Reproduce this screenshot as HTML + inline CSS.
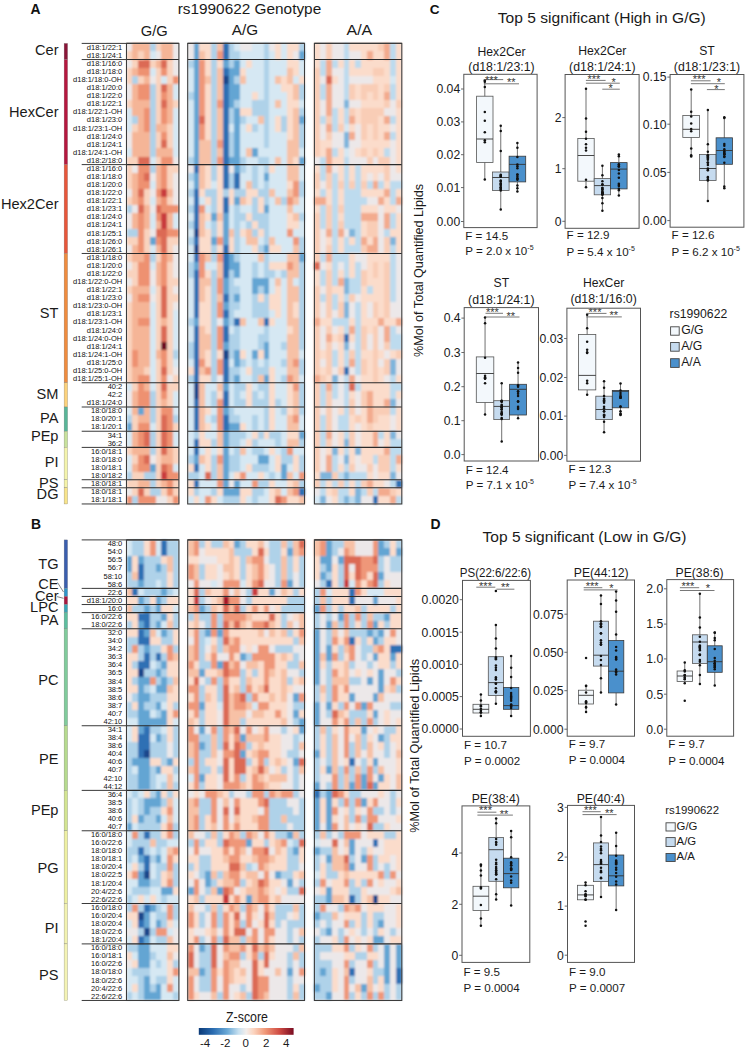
<!DOCTYPE html>
<html><head><meta charset="utf-8"><title>rs1990622 lipid figure</title>
<style>html,body{margin:0;padding:0;background:#fff;}body{width:745px;height:1050px;overflow:hidden;}svg{display:block;}</style>
</head><body>
<svg width="745" height="1050" viewBox="0 0 745 1050"><defs><filter id="sb" x="-2%" y="-1%" width="104%" height="102%"><feGaussianBlur stdDeviation="0.8"/></filter></defs>
<g style="font-family:'Liberation Sans',sans-serif">
<text x="30.4" y="14.0" font-size="13.9" font-weight="bold" fill="#111">A</text>
<text x="177.7" y="13.9" font-size="14.6" textLength="143.5" lengthAdjust="spacingAndGlyphs" fill="#1a1a1a">rs1990622 Genotype</text>
<text x="154.3" y="35.6" font-size="14.6" text-anchor="middle" textLength="27" lengthAdjust="spacingAndGlyphs" fill="#1a1a1a">G/G</text>
<text x="245.0" y="34.6" font-size="14.6" text-anchor="middle" textLength="26.3" lengthAdjust="spacingAndGlyphs" fill="#1a1a1a">A/G</text>
<text x="359.4" y="34.6" font-size="14.6" text-anchor="middle" textLength="25.7" lengthAdjust="spacingAndGlyphs" fill="#1a1a1a">A/A</text>
<g filter="url(#sb)"><g transform="translate(126.50 43.40) scale(5.8222 8.08)" shape-rendering="crispEdges">
<path fill="#ece8e9" d="M0 0h1v1h-1zM8 0h1v1h-1zM5 1h1v1h-1zM8 1h1v1h-1zM0 2h1v1h-1zM8 2h1v1h-1zM8 3h1v1h-1zM4 4h1v1h-1zM0 5h1v1h-1zM0 6h1v1h-1zM0 11h1v1h-1zM0 12h1v1h-1zM8 14h1v1h-1zM1 15h1v1h-1zM4 16h1v1h-1zM8 16h1v1h-1zM8 17h1v1h-1zM0 18h1v1h-1zM4 18h1v1h-1zM8 18h1v1h-1zM8 19h1v1h-1zM1 20h1v1h-1zM4 20h1v1h-1zM0 21h1v1h-1zM0 22h1v1h-1zM4 23h1v1h-1zM0 25h1v1h-1zM8 25h1v1h-1zM8 26h1v1h-1zM0 27h1v1h-1zM8 27h1v1h-1zM4 28h1v1h-1zM8 28h1v1h-1zM0 29h1v1h-1zM4 29h1v1h-1zM8 30h1v1h-1zM0 31h1v1h-1zM4 31h1v1h-1zM8 32h1v1h-1zM8 40h1v1h-1zM7 41h1v1h-1zM0 43h1v1h-1zM0 44h1v1h-1zM4 51h1v1h-1zM0 55h1v1h-1zM5 56h2v1h-2z"/>
<path fill="#f5b597" d="M1 0h3v1h-3zM6 0h2v1h-2zM1 1h1v1h-1zM3 1h1v1h-1zM6 1h2v1h-2zM5 2h1v1h-1zM1 3h1v1h-1zM3 4h1v1h-1zM1 5h1v1h-1zM7 5h1v1h-1zM1 6h1v1h-1zM7 6h1v1h-1zM1 7h3v1h-3zM7 7h1v1h-1zM1 8h2v1h-2zM7 8h1v1h-1zM2 9h1v1h-1zM7 9h1v1h-1zM2 10h1v1h-1zM5 10h2v1h-2zM1 11h3v1h-3zM1 12h3v1h-3zM1 13h3v1h-3zM5 13h3v1h-3zM5 15h1v1h-1zM1 16h1v1h-1zM5 16h1v1h-1zM1 17h1v1h-1zM5 17h1v1h-1zM1 18h1v1h-1zM7 18h1v1h-1zM1 19h1v1h-1zM5 19h1v1h-1zM3 20h1v1h-1zM1 21h1v1h-1zM3 21h1v1h-1zM7 21h1v1h-1zM1 22h1v1h-1zM3 22h1v1h-1zM5 22h1v1h-1zM7 22h1v1h-1zM1 25h1v1h-1zM5 25h1v1h-1zM1 26h2v1h-2zM7 26h1v1h-1zM5 27h1v1h-1zM5 28h1v1h-1zM5 29h1v1h-1zM1 30h3v1h-3zM1 31h1v1h-1zM1 32h3v1h-3zM1 33h3v1h-3zM1 34h1v1h-1zM6 34h1v1h-1zM1 35h3v1h-3zM1 36h3v1h-3zM1 37h3v1h-3zM2 38h2v1h-2zM5 38h1v1h-1zM2 39h2v1h-2zM1 40h2v1h-2zM1 41h1v1h-1zM3 42h1v1h-1zM1 43h1v1h-1zM1 44h1v1h-1zM6 44h1v1h-1zM1 45h1v1h-1zM3 45h1v1h-1zM2 46h2v1h-2zM1 48h1v1h-1zM1 49h1v1h-1zM1 50h3v1h-3zM7 50h1v1h-1zM6 51h2v1h-2zM1 52h1v1h-1zM2 54h2v1h-2zM6 54h1v1h-1z"/>
<path fill="#afd2e9" d="M4 0h1v1h-1zM1 4h1v1h-1zM4 5h1v1h-1zM4 6h1v1h-1zM4 7h1v1h-1zM4 8h1v1h-1zM1 9h1v1h-1zM4 9h1v1h-1zM4 10h1v1h-1zM4 11h1v1h-1zM4 12h1v1h-1zM4 13h1v1h-1zM4 15h1v1h-1zM0 20h1v1h-1zM0 23h2v1h-2zM4 26h1v1h-1zM8 38h1v1h-1zM4 43h1v1h-1zM4 44h1v1h-1zM4 45h1v1h-1zM0 46h1v1h-1zM4 46h1v1h-1zM8 46h1v1h-1zM4 48h1v1h-1zM4 49h1v1h-1zM4 50h1v1h-1zM0 53h1v1h-1zM3 53h2v1h-2zM4 54h1v1h-1zM4 55h2v1h-2zM1 56h1v1h-1z"/>
<path fill="#f9d3be" d="M5 0h1v1h-1zM0 1h1v1h-1zM2 1h1v1h-1zM1 2h1v1h-1zM4 2h1v1h-1zM7 2h1v1h-1zM0 3h1v1h-1zM5 3h1v1h-1zM7 3h1v1h-1zM0 4h1v1h-1zM2 4h1v1h-1zM5 4h1v1h-1zM7 4h1v1h-1zM5 5h1v1h-1zM5 6h1v1h-1zM0 7h1v1h-1zM5 7h1v1h-1zM8 7h1v1h-1zM5 8h1v1h-1zM5 9h1v1h-1zM1 10h1v1h-1zM7 10h1v1h-1zM5 11h1v1h-1zM7 11h1v1h-1zM5 12h1v1h-1zM7 12h1v1h-1zM0 14h2v1h-2zM5 14h1v1h-1zM0 15h1v1h-1zM7 15h2v1h-2zM0 16h1v1h-1zM7 16h1v1h-1zM0 17h1v1h-1zM7 17h1v1h-1zM3 18h1v1h-1zM0 19h1v1h-1zM3 19h1v1h-1zM7 19h1v1h-1zM3 23h1v1h-1zM0 24h2v1h-2zM3 24h1v1h-1zM7 24h2v1h-2zM3 25h1v1h-1zM7 25h1v1h-1zM0 26h1v1h-1zM5 26h1v1h-1zM1 27h1v1h-1zM7 27h1v1h-1zM0 28h2v1h-2zM7 28h1v1h-1zM1 29h1v1h-1zM7 29h2v1h-2zM0 30h1v1h-1zM5 30h1v1h-1zM7 30h1v1h-1zM5 31h1v1h-1zM7 31h2v1h-2zM0 32h1v1h-1zM5 32h1v1h-1zM7 32h1v1h-1zM0 33h1v1h-1zM5 33h1v1h-1zM7 33h1v1h-1zM0 34h1v1h-1zM5 34h1v1h-1zM7 34h1v1h-1zM0 35h1v1h-1zM5 35h1v1h-1zM7 35h1v1h-1zM0 36h1v1h-1zM5 36h1v1h-1zM7 36h1v1h-1zM0 37h1v1h-1zM5 37h1v1h-1zM7 37h1v1h-1zM0 38h1v1h-1zM7 38h1v1h-1zM0 39h1v1h-1zM5 39h1v1h-1zM7 39h1v1h-1zM0 40h1v1h-1zM3 40h1v1h-1zM5 40h1v1h-1zM7 40h1v1h-1zM0 41h1v1h-1zM5 41h1v1h-1zM8 41h1v1h-1zM1 42h1v1h-1zM5 42h1v1h-1zM7 42h2v1h-2zM5 43h1v1h-1zM7 43h1v1h-1zM5 44h1v1h-1zM7 44h1v1h-1zM5 45h1v1h-1zM1 46h1v1h-1zM5 46h1v1h-1zM1 47h1v1h-1zM5 47h1v1h-1zM8 47h1v1h-1zM5 48h1v1h-1zM5 49h1v1h-1zM0 50h1v1h-1zM5 50h1v1h-1zM8 50h1v1h-1zM1 51h1v1h-1zM5 51h1v1h-1zM8 51h1v1h-1zM5 52h1v1h-1zM1 53h2v1h-2zM5 53h1v1h-1zM0 54h2v1h-2zM5 54h1v1h-1zM8 54h1v1h-1zM1 55h1v1h-1zM3 55h1v1h-1zM6 55h1v1h-1zM8 55h1v1h-1zM7 56h1v1h-1z"/>
<path fill="#d6e8f3" d="M4 1h1v1h-1zM4 3h1v1h-1zM6 4h1v1h-1zM8 5h1v1h-1zM8 6h1v1h-1zM0 8h1v1h-1zM8 8h1v1h-1zM0 9h1v1h-1zM8 9h1v1h-1zM0 10h1v1h-1zM8 10h1v1h-1zM8 11h1v1h-1zM8 12h1v1h-1zM0 13h1v1h-1zM8 13h1v1h-1zM4 14h1v1h-1zM4 17h1v1h-1zM4 19h1v1h-1zM4 21h1v1h-1zM8 21h1v1h-1zM4 22h1v1h-1zM8 22h1v1h-1zM4 25h1v1h-1zM4 27h1v1h-1zM4 30h1v1h-1zM4 32h1v1h-1zM4 33h1v1h-1zM8 33h1v1h-1zM4 34h1v1h-1zM8 34h1v1h-1zM4 35h1v1h-1zM8 35h1v1h-1zM4 36h1v1h-1zM8 36h1v1h-1zM4 37h1v1h-1zM8 37h1v1h-1zM4 38h1v1h-1zM4 39h1v1h-1zM8 39h1v1h-1zM4 40h1v1h-1zM4 41h1v1h-1zM0 42h1v1h-1zM4 42h1v1h-1zM8 43h1v1h-1zM8 44h1v1h-1zM0 45h1v1h-1zM8 45h1v1h-1zM4 47h1v1h-1zM0 48h1v1h-1zM8 48h1v1h-1zM0 49h1v1h-1zM8 49h1v1h-1zM0 51h1v1h-1zM0 52h1v1h-1zM8 52h1v1h-1z"/>
<path fill="#dc6a55" d="M2 2h2v1h-2zM6 2h1v1h-1zM6 5h1v1h-1zM6 7h1v1h-1zM6 12h1v1h-1zM2 14h2v1h-2zM3 16h1v1h-1zM2 18h1v1h-1zM2 20h1v1h-1zM5 20h1v1h-1zM5 23h2v1h-2zM6 24h1v1h-1zM6 25h1v1h-1zM6 30h1v1h-1zM6 31h1v1h-1zM6 32h1v1h-1zM6 33h1v1h-1zM6 35h1v1h-1zM6 36h1v1h-1zM6 40h1v1h-1zM6 42h1v1h-1zM6 46h1v1h-1zM6 47h1v1h-1zM3 48h1v1h-1zM6 48h1v1h-1zM3 49h1v1h-1zM6 49h1v1h-1zM6 50h1v1h-1zM3 51h1v1h-1zM6 52h1v1h-1zM2 55h1v1h-1z"/>
<path fill="#ee9171" d="M2 3h2v1h-2zM6 3h1v1h-1zM8 4h1v1h-1zM2 5h2v1h-2zM2 6h2v1h-2zM6 6h1v1h-1zM3 8h1v1h-1zM6 8h1v1h-1zM3 9h1v1h-1zM6 9h1v1h-1zM3 10h1v1h-1zM6 11h1v1h-1zM6 14h2v1h-2zM2 15h2v1h-2zM6 15h1v1h-1zM2 16h1v1h-1zM6 16h1v1h-1zM2 17h2v1h-2zM6 17h1v1h-1zM5 18h1v1h-1zM2 19h1v1h-1zM6 19h1v1h-1zM6 20h3v1h-3zM2 21h1v1h-1zM5 21h1v1h-1zM2 22h1v1h-1zM2 23h1v1h-1zM7 23h2v1h-2zM2 24h1v1h-1zM5 24h1v1h-1zM2 25h1v1h-1zM3 26h1v1h-1zM6 26h1v1h-1zM2 27h2v1h-2zM6 27h1v1h-1zM2 28h2v1h-2zM6 28h1v1h-1zM2 29h2v1h-2zM6 29h1v1h-1zM2 31h2v1h-2zM2 34h2v1h-2zM1 38h1v1h-1zM6 38h1v1h-1zM1 39h1v1h-1zM6 39h1v1h-1zM2 41h2v1h-2zM6 41h1v1h-1zM2 42h1v1h-1zM2 43h2v1h-2zM6 43h1v1h-1zM2 44h2v1h-2zM6 45h2v1h-2zM7 46h1v1h-1zM2 47h2v1h-2zM7 47h1v1h-1zM2 48h1v1h-1zM7 48h1v1h-1zM2 49h1v1h-1zM7 49h1v1h-1zM2 51h1v1h-1zM2 52h2v1h-2zM7 52h1v1h-1zM7 53h2v1h-2zM7 54h1v1h-1zM7 55h1v1h-1zM0 56h1v1h-1zM2 56h3v1h-3zM8 56h1v1h-1z"/>
<path fill="#c93a3c" d="M6 18h1v1h-1zM6 21h1v1h-1zM6 22h1v1h-1zM6 53h1v1h-1z"/>
<path fill="#64a5d3" d="M4 24h1v1h-1zM2 45h1v1h-1zM0 47h1v1h-1zM4 52h1v1h-1z"/>
<path fill="#6d0b20" d="M6 37h1v1h-1z"/>
</g></g>
<g filter="url(#sb)"><g transform="translate(187.70 43.40) scale(5.8400 8.08)" shape-rendering="crispEdges">
<path fill="#ece8e9" d="M0 0h1v1h-1zM9 0h2v1h-2zM14 0h1v1h-1zM0 1h1v1h-1zM18 1h1v1h-1zM0 15h1v1h-1zM7 15h1v1h-1zM5 34h1v1h-1zM5 41h1v1h-1zM7 54h1v1h-1z"/>
<path fill="#64a5d3" d="M1 0h1v1h-1zM1 1h1v1h-1zM19 1h1v1h-1zM1 2h1v1h-1zM6 2h1v1h-1zM8 2h1v1h-1zM1 3h1v1h-1zM7 3h2v1h-2zM1 4h1v1h-1zM7 4h1v1h-1zM1 5h1v1h-1zM7 5h2v1h-2zM1 6h1v1h-1zM7 6h2v1h-2zM1 7h1v1h-1zM7 7h1v1h-1zM1 8h1v1h-1zM8 8h1v1h-1zM1 9h1v1h-1zM8 9h1v1h-1zM19 9h1v1h-1zM1 10h1v1h-1zM8 10h1v1h-1zM1 11h1v1h-1zM8 11h1v1h-1zM1 12h1v1h-1zM8 12h1v1h-1zM1 13h1v1h-1zM8 13h1v1h-1zM11 13h1v1h-1zM1 14h1v1h-1zM7 14h2v1h-2zM19 14h1v1h-1zM8 15h1v1h-1zM1 16h1v1h-1zM13 16h1v1h-1zM1 17h1v1h-1zM8 19h1v1h-1zM13 20h1v1h-1zM4 21h1v1h-1zM6 21h1v1h-1zM6 22h1v1h-1zM6 23h1v1h-1zM4 24h1v1h-1zM6 24h1v1h-1zM13 25h1v1h-1zM7 26h1v1h-1zM19 26h1v1h-1zM1 27h1v1h-1zM7 27h2v1h-2zM8 28h1v1h-1zM6 29h1v1h-1zM11 29h3v1h-3zM6 30h1v1h-1zM11 30h1v1h-1zM13 30h1v1h-1zM8 31h1v1h-1zM6 32h1v1h-1zM1 34h1v1h-1zM6 34h1v1h-1zM6 37h1v1h-1zM13 37h1v1h-1zM8 38h1v1h-1zM11 38h1v1h-1zM13 38h1v1h-1zM8 39h1v1h-1zM8 41h1v1h-1zM13 41h1v1h-1zM6 42h1v1h-1zM6 45h1v1h-1zM7 47h2v1h-2zM6 48h1v1h-1zM19 48h1v1h-1zM6 49h1v1h-1zM6 50h1v1h-1zM1 51h1v1h-1zM6 51h1v1h-1zM12 51h2v1h-2zM6 52h1v1h-1zM16 52h1v1h-1zM6 53h1v1h-1zM16 53h1v1h-1zM6 54h1v1h-1zM8 54h1v1h-1zM6 55h3v1h-3z"/>
<path fill="#fbdccb" d="M2 0h2v1h-2zM15 0h1v1h-1zM17 0h2v1h-2zM3 1h1v1h-1zM15 1h1v1h-1zM17 1h1v1h-1zM3 2h1v1h-1zM5 2h1v1h-1zM10 2h1v1h-1zM17 2h2v1h-2zM3 3h1v1h-1zM9 3h1v1h-1zM18 3h1v1h-1zM16 4h1v1h-1zM19 4h1v1h-1zM3 5h1v1h-1zM16 5h2v1h-2zM3 6h1v1h-1zM11 6h1v1h-1zM17 6h1v1h-1zM3 7h1v1h-1zM17 7h2v1h-2zM3 8h1v1h-1zM9 8h2v1h-2zM17 8h1v1h-1zM3 9h1v1h-1zM15 9h1v1h-1zM17 9h1v1h-1zM3 10h1v1h-1zM10 10h1v1h-1zM15 10h1v1h-1zM17 10h1v1h-1zM3 11h1v1h-1zM17 11h1v1h-1zM18 14h1v1h-1zM3 15h1v1h-1zM5 15h1v1h-1zM14 15h1v1h-1zM3 16h1v1h-1zM5 16h1v1h-1zM3 17h1v1h-1zM5 17h1v1h-1zM17 17h1v1h-1zM2 18h1v1h-1zM5 18h1v1h-1zM7 18h1v1h-1zM10 18h2v1h-2zM3 19h1v1h-1zM5 19h1v1h-1zM7 19h1v1h-1zM10 19h1v1h-1zM12 19h1v1h-1zM5 20h1v1h-1zM12 20h1v1h-1zM3 21h1v1h-1zM10 21h1v1h-1zM17 21h1v1h-1zM5 22h1v1h-1zM11 22h1v1h-1zM17 22h2v1h-2zM3 23h1v1h-1zM5 23h1v1h-1zM9 23h1v1h-1zM12 23h1v1h-1zM2 24h2v1h-2zM7 24h1v1h-1zM2 25h2v1h-2zM5 25h1v1h-1zM7 25h1v1h-1zM11 25h1v1h-1zM14 25h2v1h-2zM14 27h3v1h-3zM3 28h1v1h-1zM3 30h1v1h-1zM15 30h1v1h-1zM3 31h1v1h-1zM12 31h1v1h-1zM14 31h2v1h-2zM2 32h2v1h-2zM14 32h2v1h-2zM18 32h1v1h-1zM2 33h2v1h-2zM15 33h1v1h-1zM18 33h1v1h-1zM2 34h2v1h-2zM14 34h1v1h-1zM3 35h1v1h-1zM17 35h1v1h-1zM3 38h1v1h-1zM5 38h1v1h-1zM9 38h1v1h-1zM12 38h1v1h-1zM3 39h1v1h-1zM0 40h1v1h-1zM10 40h1v1h-1zM14 40h1v1h-1zM2 41h2v1h-2zM14 41h1v1h-1zM10 42h1v1h-1zM14 42h1v1h-1zM17 42h1v1h-1zM5 43h1v1h-1zM10 43h1v1h-1zM14 43h1v1h-1zM17 43h1v1h-1zM10 44h1v1h-1zM14 44h1v1h-1zM17 44h1v1h-1zM3 45h1v1h-1zM14 45h1v1h-1zM17 45h1v1h-1zM14 46h1v1h-1zM3 47h1v1h-1zM9 47h1v1h-1zM14 47h1v1h-1zM2 48h1v1h-1zM11 48h1v1h-1zM13 48h1v1h-1zM17 48h2v1h-2zM2 49h2v1h-2zM10 49h1v1h-1zM3 50h1v1h-1zM5 50h1v1h-1zM14 50h1v1h-1zM3 51h1v1h-1zM15 51h1v1h-1zM18 51h1v1h-1zM0 52h1v1h-1zM3 52h1v1h-1zM10 52h1v1h-1zM15 52h1v1h-1zM18 52h1v1h-1zM8 53h1v1h-1zM12 53h1v1h-1zM0 54h1v1h-1zM14 54h1v1h-1zM17 54h1v1h-1zM0 55h1v1h-1zM5 55h1v1h-1zM9 55h2v1h-2zM14 55h1v1h-1zM1 56h1v1h-1zM4 56h1v1h-1zM9 56h1v1h-1zM14 56h1v1h-1zM17 56h2v1h-2z"/>
<path fill="#afd2e9" d="M4 0h1v1h-1zM7 0h1v1h-1zM13 0h1v1h-1zM19 0h1v1h-1zM4 1h1v1h-1zM7 1h2v1h-2zM13 1h1v1h-1zM0 2h1v1h-1zM4 2h1v1h-1zM7 2h1v1h-1zM13 2h1v1h-1zM4 3h1v1h-1zM13 3h1v1h-1zM4 4h1v1h-1zM8 4h1v1h-1zM13 4h1v1h-1zM4 5h1v1h-1zM13 5h1v1h-1zM19 5h1v1h-1zM0 6h1v1h-1zM4 6h1v1h-1zM13 6h1v1h-1zM19 6h1v1h-1zM4 7h1v1h-1zM8 7h1v1h-1zM11 7h3v1h-3zM4 8h1v1h-1zM7 8h1v1h-1zM11 8h3v1h-3zM19 8h1v1h-1zM4 9h1v1h-1zM7 9h1v1h-1zM9 9h1v1h-1zM13 9h1v1h-1zM16 9h1v1h-1zM4 10h1v1h-1zM11 10h1v1h-1zM13 10h1v1h-1zM16 10h1v1h-1zM19 10h1v1h-1zM4 11h1v1h-1zM7 11h1v1h-1zM13 11h1v1h-1zM19 11h1v1h-1zM4 12h1v1h-1zM7 12h1v1h-1zM13 12h1v1h-1zM19 12h1v1h-1zM4 13h1v1h-1zM7 13h1v1h-1zM0 14h1v1h-1zM4 14h1v1h-1zM9 14h1v1h-1zM12 14h2v1h-2zM4 15h1v1h-1zM9 15h1v1h-1zM11 15h1v1h-1zM13 15h1v1h-1zM0 16h1v1h-1zM4 16h1v1h-1zM7 16h1v1h-1zM11 16h1v1h-1zM7 17h1v1h-1zM11 17h1v1h-1zM13 17h1v1h-1zM19 17h1v1h-1zM0 18h1v1h-1zM3 18h2v1h-2zM6 18h1v1h-1zM8 18h2v1h-2zM12 18h2v1h-2zM19 18h1v1h-1zM4 19h1v1h-1zM11 19h1v1h-1zM13 19h1v1h-1zM16 19h1v1h-1zM0 20h1v1h-1zM4 20h1v1h-1zM8 20h1v1h-1zM11 20h1v1h-1zM8 21h2v1h-2zM11 21h3v1h-3zM19 21h1v1h-1zM0 22h1v1h-1zM4 22h1v1h-1zM8 22h1v1h-1zM10 22h1v1h-1zM12 22h2v1h-2zM4 23h1v1h-1zM8 23h1v1h-1zM11 23h1v1h-1zM13 23h1v1h-1zM0 24h1v1h-1zM8 24h1v1h-1zM13 24h1v1h-1zM19 24h1v1h-1zM4 25h1v1h-1zM8 25h1v1h-1zM12 25h1v1h-1zM19 25h1v1h-1zM4 26h1v1h-1zM8 26h1v1h-1zM13 26h1v1h-1zM0 27h1v1h-1zM11 27h1v1h-1zM13 27h1v1h-1zM19 27h1v1h-1zM0 28h1v1h-1zM4 28h1v1h-1zM7 28h1v1h-1zM11 28h1v1h-1zM13 28h2v1h-2zM16 28h1v1h-1zM19 28h1v1h-1zM4 29h1v1h-1zM7 29h1v1h-1zM19 29h1v1h-1zM4 30h1v1h-1zM7 30h2v1h-2zM12 30h1v1h-1zM19 30h1v1h-1zM4 31h1v1h-1zM7 31h1v1h-1zM11 31h1v1h-1zM13 31h1v1h-1zM19 31h1v1h-1zM4 32h1v1h-1zM7 32h2v1h-2zM11 32h3v1h-3zM19 32h1v1h-1zM4 33h1v1h-1zM7 33h1v1h-1zM11 33h3v1h-3zM19 33h1v1h-1zM0 34h1v1h-1zM4 34h1v1h-1zM7 34h1v1h-1zM19 34h1v1h-1zM4 35h1v1h-1zM8 35h1v1h-1zM13 35h1v1h-1zM19 35h1v1h-1zM4 36h1v1h-1zM7 36h2v1h-2zM12 36h2v1h-2zM19 36h1v1h-1zM0 37h1v1h-1zM4 37h1v1h-1zM7 37h2v1h-2zM12 37h1v1h-1zM16 37h1v1h-1zM19 37h1v1h-1zM0 38h1v1h-1zM4 38h1v1h-1zM7 38h1v1h-1zM4 39h1v1h-1zM9 39h1v1h-1zM11 39h1v1h-1zM13 39h1v1h-1zM16 39h1v1h-1zM19 39h1v1h-1zM4 40h1v1h-1zM7 40h2v1h-2zM11 40h3v1h-3zM19 40h1v1h-1zM0 41h1v1h-1zM4 41h1v1h-1zM7 41h1v1h-1zM11 41h1v1h-1zM16 41h1v1h-1zM8 42h2v1h-2zM12 42h2v1h-2zM19 42h1v1h-1zM4 43h1v1h-1zM8 43h1v1h-1zM11 43h1v1h-1zM13 43h1v1h-1zM19 43h1v1h-1zM4 44h1v1h-1zM8 44h2v1h-2zM11 44h3v1h-3zM15 44h1v1h-1zM19 44h1v1h-1zM7 45h1v1h-1zM13 45h1v1h-1zM16 45h1v1h-1zM19 45h1v1h-1zM4 46h1v1h-1zM7 46h2v1h-2zM11 46h1v1h-1zM13 46h1v1h-1zM11 47h1v1h-1zM13 47h1v1h-1zM1 48h1v1h-1zM7 48h3v1h-3zM12 48h1v1h-1zM14 48h2v1h-2zM4 49h1v1h-1zM7 49h2v1h-2zM11 49h1v1h-1zM15 49h1v1h-1zM19 49h1v1h-1zM8 50h1v1h-1zM11 50h2v1h-2zM16 50h1v1h-1zM0 51h1v1h-1zM4 51h1v1h-1zM7 51h2v1h-2zM16 51h2v1h-2zM19 51h1v1h-1zM4 52h1v1h-1zM7 52h2v1h-2zM11 52h3v1h-3zM19 52h1v1h-1zM0 53h2v1h-2zM4 53h1v1h-1zM14 53h1v1h-1zM12 54h2v1h-2zM19 54h1v1h-1zM1 55h1v1h-1zM4 55h1v1h-1zM11 55h2v1h-2zM6 56h3v1h-3zM11 56h1v1h-1z"/>
<path fill="#f7c1a6" d="M5 0h1v1h-1zM2 1h1v1h-1zM5 3h1v1h-1zM17 3h1v1h-1zM3 4h1v1h-1zM5 4h1v1h-1zM9 4h1v1h-1zM15 4h1v1h-1zM17 4h1v1h-1zM5 5h1v1h-1zM18 5h1v1h-1zM5 6h1v1h-1zM18 6h1v1h-1zM15 7h1v1h-1zM5 8h1v1h-1zM18 8h1v1h-1zM5 9h1v1h-1zM12 9h1v1h-1zM18 9h1v1h-1zM5 10h1v1h-1zM18 10h1v1h-1zM5 11h1v1h-1zM18 11h1v1h-1zM2 12h2v1h-2zM17 12h2v1h-2zM2 13h2v1h-2zM5 13h1v1h-1zM10 13h1v1h-1zM17 13h2v1h-2zM2 14h2v1h-2zM15 14h1v1h-1zM17 14h1v1h-1zM2 15h1v1h-1zM17 15h2v1h-2zM2 16h1v1h-1zM17 16h2v1h-2zM2 17h1v1h-1zM10 17h1v1h-1zM14 18h1v1h-1zM17 18h1v1h-1zM9 19h1v1h-1zM15 19h1v1h-1zM18 19h1v1h-1zM17 20h1v1h-1zM2 21h1v1h-1zM5 21h1v1h-1zM18 21h1v1h-1zM2 22h1v1h-1zM2 23h1v1h-1zM7 23h1v1h-1zM10 23h1v1h-1zM10 24h2v1h-2zM14 24h1v1h-1zM18 25h1v1h-1zM3 26h1v1h-1zM12 26h1v1h-1zM17 26h2v1h-2zM5 27h1v1h-1zM18 27h1v1h-1zM5 28h1v1h-1zM17 28h2v1h-2zM2 29h2v1h-2zM15 29h1v1h-1zM17 29h1v1h-1zM2 30h1v1h-1zM17 30h2v1h-2zM2 31h1v1h-1zM5 31h1v1h-1zM17 31h2v1h-2zM17 32h1v1h-1zM17 33h1v1h-1zM9 34h1v1h-1zM12 34h1v1h-1zM17 34h2v1h-2zM2 35h1v1h-1zM18 35h1v1h-1zM2 36h2v1h-2zM17 36h2v1h-2zM2 37h2v1h-2zM17 37h2v1h-2zM2 38h1v1h-1zM17 38h2v1h-2zM17 39h1v1h-1zM2 40h1v1h-1zM17 40h2v1h-2zM12 41h1v1h-1zM18 41h1v1h-1zM2 42h1v1h-1zM5 42h1v1h-1zM2 43h1v1h-1zM18 43h1v1h-1zM2 44h1v1h-1zM18 44h1v1h-1zM2 45h1v1h-1zM18 45h1v1h-1zM2 46h1v1h-1zM17 46h1v1h-1zM2 47h1v1h-1zM17 47h2v1h-2zM5 48h1v1h-1zM5 49h1v1h-1zM17 49h2v1h-2zM9 50h1v1h-1zM2 51h1v1h-1zM5 52h1v1h-1zM5 53h1v1h-1zM17 53h1v1h-1zM18 54h1v1h-1zM15 55h1v1h-1zM17 55h1v1h-1zM19 56h1v1h-1z"/>
<path fill="#2f70b4" d="M6 0h1v1h-1zM6 1h1v1h-1zM6 3h1v1h-1zM6 5h1v1h-1zM6 6h1v1h-1zM6 7h1v1h-1zM6 8h1v1h-1zM6 9h1v1h-1zM6 10h1v1h-1zM6 11h1v1h-1zM6 12h1v1h-1zM6 13h1v1h-1zM6 14h1v1h-1zM1 15h1v1h-1zM6 15h1v1h-1zM6 16h1v1h-1zM8 16h1v1h-1zM6 17h1v1h-1zM8 17h1v1h-1zM1 18h1v1h-1zM1 19h1v1h-1zM6 19h1v1h-1zM1 20h1v1h-1zM6 20h1v1h-1zM1 21h1v1h-1zM1 22h1v1h-1zM1 24h1v1h-1zM6 25h1v1h-1zM1 26h1v1h-1zM6 26h1v1h-1zM6 27h1v1h-1zM1 28h1v1h-1zM6 28h1v1h-1zM1 29h1v1h-1zM1 30h1v1h-1zM1 31h1v1h-1zM6 31h1v1h-1zM1 32h1v1h-1zM1 33h1v1h-1zM6 33h1v1h-1zM8 34h1v1h-1zM13 34h1v1h-1zM1 35h1v1h-1zM6 35h1v1h-1zM1 36h1v1h-1zM6 36h1v1h-1zM1 37h1v1h-1zM1 38h1v1h-1zM1 39h1v1h-1zM6 39h1v1h-1zM1 40h1v1h-1zM6 40h1v1h-1zM1 41h1v1h-1zM6 41h1v1h-1zM6 43h1v1h-1zM1 44h1v1h-1zM6 44h1v1h-1zM1 45h1v1h-1zM1 46h1v1h-1zM6 46h1v1h-1zM1 47h1v1h-1zM6 47h1v1h-1zM1 49h1v1h-1zM1 50h1v1h-1zM1 52h1v1h-1zM1 54h1v1h-1zM19 55h1v1h-1z"/>
<path fill="#d6e8f3" d="M8 0h1v1h-1zM11 0h2v1h-2zM16 0h1v1h-1zM9 1h4v1h-4zM14 1h1v1h-1zM16 1h1v1h-1zM9 2h1v1h-1zM11 2h2v1h-2zM14 2h3v1h-3zM19 2h1v1h-1zM0 3h1v1h-1zM10 3h3v1h-3zM14 3h3v1h-3zM19 3h1v1h-1zM0 4h1v1h-1zM10 4h3v1h-3zM14 4h1v1h-1zM18 4h1v1h-1zM0 5h1v1h-1zM9 5h4v1h-4zM14 5h2v1h-2zM9 6h2v1h-2zM12 6h1v1h-1zM14 6h3v1h-3zM0 7h1v1h-1zM9 7h2v1h-2zM14 7h1v1h-1zM16 7h1v1h-1zM19 7h1v1h-1zM0 8h1v1h-1zM14 8h3v1h-3zM0 9h1v1h-1zM10 9h2v1h-2zM14 9h1v1h-1zM0 10h1v1h-1zM7 10h1v1h-1zM9 10h1v1h-1zM12 10h1v1h-1zM14 10h1v1h-1zM0 11h1v1h-1zM9 11h4v1h-4zM14 11h3v1h-3zM0 12h1v1h-1zM9 12h4v1h-4zM14 12h3v1h-3zM0 13h1v1h-1zM9 13h1v1h-1zM12 13h5v1h-5zM19 13h1v1h-1zM10 14h2v1h-2zM14 14h1v1h-1zM16 14h1v1h-1zM10 15h1v1h-1zM12 15h1v1h-1zM15 15h2v1h-2zM19 15h1v1h-1zM9 16h2v1h-2zM12 16h1v1h-1zM14 16h3v1h-3zM19 16h1v1h-1zM0 17h1v1h-1zM4 17h1v1h-1zM9 17h1v1h-1zM12 17h1v1h-1zM14 17h3v1h-3zM15 18h2v1h-2zM0 19h1v1h-1zM2 19h1v1h-1zM14 19h1v1h-1zM19 19h1v1h-1zM3 20h1v1h-1zM7 20h1v1h-1zM9 20h2v1h-2zM14 20h3v1h-3zM18 20h2v1h-2zM0 21h1v1h-1zM7 21h1v1h-1zM14 21h3v1h-3zM3 22h1v1h-1zM7 22h1v1h-1zM9 22h1v1h-1zM14 22h3v1h-3zM19 22h1v1h-1zM0 23h1v1h-1zM14 23h3v1h-3zM18 23h2v1h-2zM9 24h1v1h-1zM12 24h1v1h-1zM15 24h3v1h-3zM0 25h1v1h-1zM9 25h2v1h-2zM16 25h2v1h-2zM0 26h1v1h-1zM9 26h3v1h-3zM14 26h3v1h-3zM3 27h2v1h-2zM9 27h2v1h-2zM12 27h1v1h-1zM9 28h2v1h-2zM12 28h1v1h-1zM15 28h1v1h-1zM0 29h1v1h-1zM8 29h3v1h-3zM14 29h1v1h-1zM16 29h1v1h-1zM18 29h1v1h-1zM0 30h1v1h-1zM9 30h2v1h-2zM14 30h1v1h-1zM16 30h1v1h-1zM0 31h1v1h-1zM9 31h2v1h-2zM16 31h1v1h-1zM0 32h1v1h-1zM9 32h2v1h-2zM16 32h1v1h-1zM0 33h1v1h-1zM8 33h3v1h-3zM14 33h1v1h-1zM16 33h1v1h-1zM10 34h2v1h-2zM15 34h2v1h-2zM0 35h1v1h-1zM7 35h1v1h-1zM9 35h4v1h-4zM14 35h3v1h-3zM0 36h1v1h-1zM9 36h3v1h-3zM14 36h3v1h-3zM9 37h3v1h-3zM14 37h2v1h-2zM10 38h1v1h-1zM14 38h3v1h-3zM19 38h1v1h-1zM0 39h1v1h-1zM7 39h1v1h-1zM10 39h1v1h-1zM12 39h1v1h-1zM14 39h2v1h-2zM9 40h1v1h-1zM15 40h2v1h-2zM9 41h2v1h-2zM15 41h1v1h-1zM19 41h1v1h-1zM0 42h1v1h-1zM3 42h2v1h-2zM7 42h1v1h-1zM11 42h1v1h-1zM15 42h2v1h-2zM0 43h1v1h-1zM3 43h1v1h-1zM7 43h1v1h-1zM9 43h1v1h-1zM12 43h1v1h-1zM15 43h2v1h-2zM0 44h1v1h-1zM3 44h1v1h-1zM7 44h1v1h-1zM16 44h1v1h-1zM0 45h1v1h-1zM4 45h1v1h-1zM8 45h5v1h-5zM15 45h1v1h-1zM0 46h1v1h-1zM3 46h1v1h-1zM9 46h2v1h-2zM12 46h1v1h-1zM15 46h2v1h-2zM19 46h1v1h-1zM0 47h1v1h-1zM4 47h1v1h-1zM10 47h1v1h-1zM12 47h1v1h-1zM15 47h2v1h-2zM19 47h1v1h-1zM0 48h1v1h-1zM3 48h2v1h-2zM10 48h1v1h-1zM16 48h1v1h-1zM0 49h1v1h-1zM9 49h1v1h-1zM12 49h3v1h-3zM16 49h1v1h-1zM0 50h1v1h-1zM2 50h1v1h-1zM4 50h1v1h-1zM7 50h1v1h-1zM10 50h1v1h-1zM13 50h1v1h-1zM15 50h1v1h-1zM18 50h2v1h-2zM9 51h3v1h-3zM14 51h1v1h-1zM2 52h1v1h-1zM9 52h1v1h-1zM14 52h1v1h-1zM17 52h1v1h-1zM2 53h1v1h-1zM7 53h1v1h-1zM10 53h2v1h-2zM13 53h1v1h-1zM15 53h1v1h-1zM18 53h1v1h-1zM2 54h3v1h-3zM9 54h2v1h-2zM15 54h2v1h-2zM2 55h2v1h-2zM13 55h1v1h-1zM16 55h1v1h-1zM0 56h1v1h-1zM2 56h1v1h-1zM5 56h1v1h-1zM10 56h1v1h-1zM12 56h2v1h-2z"/>
<path fill="#ef9779" d="M5 1h1v1h-1zM2 2h1v1h-1zM2 3h1v1h-1zM2 4h1v1h-1zM2 5h1v1h-1zM2 6h1v1h-1zM2 7h1v1h-1zM5 7h1v1h-1zM2 8h1v1h-1zM2 10h1v1h-1zM2 11h1v1h-1zM5 12h1v1h-1zM5 14h1v1h-1zM18 17h1v1h-1zM18 18h1v1h-1zM17 19h1v1h-1zM2 20h1v1h-1zM17 23h1v1h-1zM5 24h1v1h-1zM18 24h1v1h-1zM2 26h1v1h-1zM5 26h1v1h-1zM2 27h1v1h-1zM17 27h1v1h-1zM2 28h1v1h-1zM5 29h1v1h-1zM5 30h1v1h-1zM5 32h1v1h-1zM5 33h1v1h-1zM5 35h1v1h-1zM5 36h1v1h-1zM5 37h1v1h-1zM2 39h1v1h-1zM5 39h1v1h-1zM18 39h1v1h-1zM3 40h1v1h-1zM5 40h1v1h-1zM17 41h1v1h-1zM18 42h1v1h-1zM5 44h1v1h-1zM5 45h1v1h-1zM5 46h1v1h-1zM18 46h1v1h-1zM5 47h1v1h-1zM17 50h1v1h-1zM5 51h1v1h-1zM9 53h1v1h-1zM19 53h1v1h-1zM5 54h1v1h-1zM11 54h1v1h-1zM18 55h1v1h-1zM3 56h1v1h-1zM16 56h1v1h-1z"/>
<path fill="#1b478b" d="M6 4h1v1h-1zM1 23h1v1h-1zM1 25h1v1h-1zM6 38h1v1h-1zM1 42h1v1h-1zM1 43h1v1h-1z"/>
<path fill="#dc6a55" d="M2 9h1v1h-1zM3 53h1v1h-1zM15 56h1v1h-1z"/>
</g></g>
<g filter="url(#sb)"><g transform="translate(314.40 43.40) scale(5.8267 8.08)" shape-rendering="crispEdges">
<path fill="#fbdccb" d="M0 0h1v1h-1zM6 0h5v1h-5zM14 0h1v1h-1zM0 1h1v1h-1zM8 1h1v1h-1zM10 1h2v1h-2zM14 1h1v1h-1zM0 2h1v1h-1zM4 2h1v1h-1zM6 2h1v1h-1zM8 2h5v1h-5zM14 2h1v1h-1zM6 3h4v1h-4zM12 3h1v1h-1zM14 3h1v1h-1zM3 4h1v1h-1zM10 4h3v1h-3zM14 4h1v1h-1zM7 5h1v1h-1zM11 5h1v1h-1zM14 5h1v1h-1zM7 6h1v1h-1zM9 6h1v1h-1zM11 6h1v1h-1zM14 6h1v1h-1zM8 7h4v1h-4zM4 8h1v1h-1zM7 8h1v1h-1zM14 8h1v1h-1zM4 9h1v1h-1zM7 9h1v1h-1zM11 9h1v1h-1zM14 9h1v1h-1zM6 10h1v1h-1zM9 10h1v1h-1zM11 10h2v1h-2zM14 10h1v1h-1zM9 11h1v1h-1zM11 11h1v1h-1zM14 11h1v1h-1zM1 12h2v1h-2zM8 12h5v1h-5zM14 12h1v1h-1zM1 13h1v1h-1zM4 13h1v1h-1zM7 13h1v1h-1zM9 13h1v1h-1zM11 13h1v1h-1zM14 13h1v1h-1zM3 14h2v1h-2zM14 14h1v1h-1zM0 15h1v1h-1zM4 15h1v1h-1zM6 15h1v1h-1zM8 15h4v1h-4zM14 15h1v1h-1zM4 16h1v1h-1zM6 16h1v1h-1zM8 16h1v1h-1zM10 16h1v1h-1zM12 17h1v1h-1zM0 18h1v1h-1zM2 18h1v1h-1zM4 18h1v1h-1zM8 18h4v1h-4zM14 18h1v1h-1zM2 19h1v1h-1zM4 19h1v1h-1zM12 19h1v1h-1zM0 20h1v1h-1zM8 20h3v1h-3zM12 20h2v1h-2zM4 21h1v1h-1zM14 21h1v1h-1zM8 22h1v1h-1zM14 22h1v1h-1zM8 23h1v1h-1zM13 23h2v1h-2zM2 24h1v1h-1zM4 24h1v1h-1zM6 24h1v1h-1zM9 24h1v1h-1zM14 24h1v1h-1zM4 25h1v1h-1zM14 25h1v1h-1zM6 26h1v1h-1zM9 26h4v1h-4zM2 27h1v1h-1zM6 27h1v1h-1zM9 27h1v1h-1zM11 27h1v1h-1zM0 28h1v1h-1zM4 28h1v1h-1zM6 28h1v1h-1zM9 28h1v1h-1zM11 28h1v1h-1zM0 29h1v1h-1zM9 29h3v1h-3zM3 30h2v1h-2zM8 30h1v1h-1zM10 30h2v1h-2zM4 31h1v1h-1zM8 31h4v1h-4zM8 32h1v1h-1zM11 32h1v1h-1zM8 33h1v1h-1zM11 33h1v1h-1zM1 34h2v1h-2zM6 34h1v1h-1zM8 34h3v1h-3zM12 34h2v1h-2zM4 35h1v1h-1zM9 35h1v1h-1zM3 36h1v1h-1zM6 36h1v1h-1zM4 37h1v1h-1zM1 38h1v1h-1zM4 38h1v1h-1zM8 38h2v1h-2zM11 38h1v1h-1zM13 38h1v1h-1zM4 39h1v1h-1zM9 39h1v1h-1zM1 40h1v1h-1zM9 40h1v1h-1zM11 40h1v1h-1zM2 41h1v1h-1zM8 41h2v1h-2zM11 41h1v1h-1zM14 41h1v1h-1zM8 42h5v1h-5zM6 43h1v1h-1zM10 43h3v1h-3zM14 43h1v1h-1zM10 44h2v1h-2zM4 45h1v1h-1zM8 45h1v1h-1zM14 45h1v1h-1zM6 46h1v1h-1zM8 46h1v1h-1zM11 46h2v1h-2zM14 46h1v1h-1zM6 47h1v1h-1zM8 47h1v1h-1zM10 47h3v1h-3zM14 47h1v1h-1zM4 48h1v1h-1zM8 48h2v1h-2zM12 48h1v1h-1zM4 49h1v1h-1zM8 49h2v1h-2zM12 49h1v1h-1zM2 50h1v1h-1zM4 50h1v1h-1zM6 50h1v1h-1zM8 50h4v1h-4zM6 51h1v1h-1zM8 51h2v1h-2zM4 52h1v1h-1zM14 52h1v1h-1zM0 53h1v1h-1zM9 53h1v1h-1zM11 53h2v1h-2zM2 54h1v1h-1zM6 54h1v1h-1zM10 54h2v1h-2zM2 55h1v1h-1zM6 55h1v1h-1zM14 55h1v1h-1zM3 56h1v1h-1zM11 56h2v1h-2z"/>
<path fill="#ece8e9" d="M1 0h1v1h-1zM3 0h2v1h-2zM1 1h1v1h-1zM3 1h2v1h-2zM6 1h2v1h-2zM3 3h2v1h-2zM1 4h1v1h-1zM4 4h1v1h-1zM6 4h4v1h-4zM3 5h2v1h-2zM3 6h2v1h-2zM1 7h1v1h-1zM3 7h2v1h-2zM6 7h2v1h-2zM13 7h1v1h-1zM1 8h1v1h-1zM12 8h2v1h-2zM1 10h1v1h-1zM7 10h1v1h-1zM13 10h1v1h-1zM1 11h1v1h-1zM3 11h2v1h-2zM7 11h1v1h-1zM3 12h2v1h-2zM6 12h2v1h-2zM13 12h1v1h-1zM6 13h1v1h-1zM13 13h1v1h-1zM0 14h1v1h-1zM6 14h3v1h-3zM10 14h1v1h-1zM13 14h1v1h-1zM3 15h1v1h-1zM13 15h1v1h-1zM9 16h1v1h-1zM11 16h1v1h-1zM13 16h2v1h-2zM1 17h1v1h-1zM9 19h2v1h-2zM11 20h1v1h-1zM14 20h1v1h-1zM11 21h1v1h-1zM11 22h1v1h-1zM1 23h1v1h-1zM5 23h1v1h-1zM11 23h1v1h-1zM1 24h1v1h-1zM11 24h1v1h-1zM1 25h1v1h-1zM11 25h1v1h-1zM7 26h2v1h-2zM14 26h1v1h-1zM1 27h1v1h-1zM4 27h1v1h-1zM8 27h1v1h-1zM14 27h1v1h-1zM14 28h1v1h-1zM14 29h1v1h-1zM1 30h1v1h-1zM14 30h1v1h-1zM7 31h1v1h-1zM14 31h1v1h-1zM1 32h1v1h-1zM6 32h1v1h-1zM9 32h1v1h-1zM13 32h2v1h-2zM1 33h1v1h-1zM3 33h1v1h-1zM6 33h1v1h-1zM9 33h1v1h-1zM13 33h2v1h-2zM1 35h1v1h-1zM3 35h1v1h-1zM11 35h1v1h-1zM14 35h1v1h-1zM1 36h1v1h-1zM9 36h1v1h-1zM11 36h1v1h-1zM1 37h1v1h-1zM3 37h1v1h-1zM6 37h1v1h-1zM9 37h1v1h-1zM11 37h1v1h-1zM12 38h1v1h-1zM1 39h1v1h-1zM11 39h1v1h-1zM14 39h1v1h-1zM3 40h1v1h-1zM6 40h1v1h-1zM14 40h1v1h-1zM4 41h1v1h-1zM7 41h1v1h-1zM12 41h1v1h-1zM4 42h1v1h-1zM4 43h1v1h-1zM7 43h1v1h-1zM3 44h2v1h-2zM7 44h1v1h-1zM14 44h1v1h-1zM1 45h1v1h-1zM3 45h1v1h-1zM7 45h1v1h-1zM3 46h1v1h-1zM13 46h1v1h-1zM3 47h1v1h-1zM7 47h1v1h-1zM13 47h1v1h-1zM3 48h1v1h-1zM7 48h1v1h-1zM14 48h1v1h-1zM3 49h1v1h-1zM7 49h1v1h-1zM11 49h1v1h-1zM1 50h1v1h-1zM1 51h1v1h-1zM4 51h1v1h-1zM7 51h1v1h-1zM1 52h1v1h-1zM7 52h2v1h-2zM10 52h1v1h-1zM10 53h1v1h-1zM14 53h1v1h-1zM12 54h1v1h-1zM0 55h1v1h-1zM2 56h1v1h-1zM8 56h2v1h-2z"/>
<path fill="#f9cdb6" d="M2 0h1v1h-1zM11 0h1v1h-1zM2 1h1v1h-1zM0 3h1v1h-1zM10 3h2v1h-2zM0 4h1v1h-1zM0 5h1v1h-1zM6 5h1v1h-1zM8 5h3v1h-3zM12 5h1v1h-1zM0 6h1v1h-1zM6 6h1v1h-1zM8 6h1v1h-1zM10 6h1v1h-1zM0 7h1v1h-1zM12 7h1v1h-1zM14 7h1v1h-1zM0 8h1v1h-1zM6 8h1v1h-1zM8 8h4v1h-4zM0 9h1v1h-1zM2 9h1v1h-1zM8 9h3v1h-3zM0 10h1v1h-1zM4 10h1v1h-1zM8 10h1v1h-1zM10 10h1v1h-1zM0 11h1v1h-1zM2 11h1v1h-1zM8 11h1v1h-1zM10 11h1v1h-1zM0 12h1v1h-1zM0 13h1v1h-1zM8 13h1v1h-1zM10 13h1v1h-1zM9 14h1v1h-1zM11 14h2v1h-2zM12 15h1v1h-1zM0 16h1v1h-1zM2 16h1v1h-1zM12 16h1v1h-1zM0 17h1v1h-1zM2 17h1v1h-1zM4 17h1v1h-1zM6 17h1v1h-1zM8 17h1v1h-1zM2 20h1v1h-1zM4 20h1v1h-1zM0 21h1v1h-1zM2 21h1v1h-1zM0 22h1v1h-1zM2 22h1v1h-1zM4 22h1v1h-1zM9 22h2v1h-2zM0 23h1v1h-1zM9 23h2v1h-2zM0 24h1v1h-1zM12 24h1v1h-1zM0 25h1v1h-1zM2 25h1v1h-1zM8 25h1v1h-1zM12 25h1v1h-1zM0 26h1v1h-1zM10 27h1v1h-1zM12 27h1v1h-1zM2 28h1v1h-1zM8 28h1v1h-1zM10 28h1v1h-1zM12 28h1v1h-1zM2 29h1v1h-1zM8 29h1v1h-1zM12 29h1v1h-1zM0 30h1v1h-1zM2 30h1v1h-1zM12 30h1v1h-1zM0 31h1v1h-1zM2 31h1v1h-1zM6 31h1v1h-1zM12 31h1v1h-1zM0 32h1v1h-1zM2 32h1v1h-1zM4 32h1v1h-1zM10 32h1v1h-1zM12 32h1v1h-1zM0 33h1v1h-1zM2 33h1v1h-1zM4 33h1v1h-1zM10 33h1v1h-1zM12 33h1v1h-1zM0 35h1v1h-1zM2 35h1v1h-1zM8 35h1v1h-1zM10 35h1v1h-1zM0 36h1v1h-1zM4 36h1v1h-1zM8 36h1v1h-1zM10 36h1v1h-1zM0 37h1v1h-1zM2 37h1v1h-1zM8 37h1v1h-1zM10 37h1v1h-1zM12 37h1v1h-1zM0 38h1v1h-1zM2 38h1v1h-1zM6 38h1v1h-1zM10 38h1v1h-1zM14 38h1v1h-1zM0 39h1v1h-1zM2 39h1v1h-1zM8 39h1v1h-1zM10 39h1v1h-1zM12 39h1v1h-1zM0 40h1v1h-1zM2 40h1v1h-1zM4 40h1v1h-1zM8 40h1v1h-1zM10 40h1v1h-1zM12 40h1v1h-1zM1 41h1v1h-1zM10 41h1v1h-1zM0 42h1v1h-1zM0 43h1v1h-1zM2 43h1v1h-1zM8 43h1v1h-1zM0 44h1v1h-1zM2 44h1v1h-1zM6 44h1v1h-1zM8 44h1v1h-1zM0 45h1v1h-1zM2 45h1v1h-1zM6 45h1v1h-1zM10 45h3v1h-3zM0 46h1v1h-1zM2 46h1v1h-1zM7 46h1v1h-1zM10 46h1v1h-1zM0 47h1v1h-1zM2 47h1v1h-1zM9 47h1v1h-1zM0 48h1v1h-1zM6 48h1v1h-1zM0 49h1v1h-1zM2 49h1v1h-1zM6 49h1v1h-1zM0 50h1v1h-1zM0 51h1v1h-1zM11 51h2v1h-2zM0 52h1v1h-1zM6 52h1v1h-1zM9 52h1v1h-1zM11 52h2v1h-2zM3 53h1v1h-1zM0 54h1v1h-1zM4 54h1v1h-1zM8 54h1v1h-1zM3 55h1v1h-1zM9 55h1v1h-1zM13 55h1v1h-1z"/>
<path fill="#bddbee" d="M5 0h1v1h-1zM13 0h1v1h-1zM5 1h1v1h-1zM13 1h1v1h-1zM1 2h1v1h-1zM3 2h1v1h-1zM5 2h1v1h-1zM7 2h1v1h-1zM13 2h1v1h-1zM1 3h1v1h-1zM5 3h1v1h-1zM13 3h1v1h-1zM5 4h1v1h-1zM1 5h1v1h-1zM5 5h1v1h-1zM13 5h1v1h-1zM1 6h1v1h-1zM5 6h1v1h-1zM13 6h1v1h-1zM3 8h1v1h-1zM5 8h1v1h-1zM1 9h1v1h-1zM3 9h1v1h-1zM5 9h1v1h-1zM13 9h1v1h-1zM3 10h1v1h-1zM13 11h1v1h-1zM3 13h1v1h-1zM12 13h1v1h-1zM1 14h1v1h-1zM5 14h1v1h-1zM1 15h1v1h-1zM5 15h1v1h-1zM7 15h1v1h-1zM1 16h1v1h-1zM3 16h1v1h-1zM5 16h1v1h-1zM7 16h1v1h-1zM3 17h1v1h-1zM5 17h1v1h-1zM7 17h1v1h-1zM9 17h1v1h-1zM11 17h1v1h-1zM13 17h2v1h-2zM1 18h1v1h-1zM3 18h1v1h-1zM5 18h3v1h-3zM13 18h1v1h-1zM3 19h1v1h-1zM5 19h4v1h-4zM13 19h1v1h-1zM1 20h1v1h-1zM3 20h1v1h-1zM5 20h3v1h-3zM1 21h1v1h-1zM3 21h1v1h-1zM5 21h3v1h-3zM13 21h1v1h-1zM1 22h1v1h-1zM3 22h1v1h-1zM5 22h3v1h-3zM13 22h1v1h-1zM3 23h1v1h-1zM7 23h1v1h-1zM12 23h1v1h-1zM3 24h1v1h-1zM5 24h1v1h-1zM7 24h1v1h-1zM3 25h1v1h-1zM5 25h3v1h-3zM13 25h1v1h-1zM1 26h1v1h-1zM3 26h3v1h-3zM13 26h1v1h-1zM3 27h1v1h-1zM5 27h1v1h-1zM7 27h1v1h-1zM13 27h1v1h-1zM1 28h1v1h-1zM3 28h1v1h-1zM5 28h1v1h-1zM7 28h1v1h-1zM13 28h1v1h-1zM1 29h1v1h-1zM3 29h1v1h-1zM6 29h2v1h-2zM13 29h1v1h-1zM6 30h2v1h-2zM9 30h1v1h-1zM13 30h1v1h-1zM1 31h1v1h-1zM3 31h1v1h-1zM5 31h1v1h-1zM13 31h1v1h-1zM3 32h1v1h-1zM7 32h1v1h-1zM7 33h1v1h-1zM3 34h3v1h-3zM7 34h1v1h-1zM5 35h1v1h-1zM7 35h1v1h-1zM13 35h1v1h-1zM7 36h1v1h-1zM13 36h2v1h-2zM7 37h1v1h-1zM13 37h2v1h-2zM3 38h1v1h-1zM5 38h1v1h-1zM7 38h1v1h-1zM3 39h1v1h-1zM5 39h1v1h-1zM7 39h1v1h-1zM7 40h1v1h-1zM5 41h1v1h-1zM13 41h1v1h-1zM1 42h1v1h-1zM3 42h1v1h-1zM5 42h1v1h-1zM7 42h1v1h-1zM13 42h2v1h-2zM1 43h1v1h-1zM3 43h1v1h-1zM5 43h1v1h-1zM13 43h1v1h-1zM1 44h1v1h-1zM5 44h1v1h-1zM5 45h1v1h-1zM13 45h1v1h-1zM1 46h1v1h-1zM4 46h2v1h-2zM1 47h1v1h-1zM4 47h2v1h-2zM1 48h1v1h-1zM5 48h1v1h-1zM11 48h1v1h-1zM1 49h1v1h-1zM13 49h2v1h-2zM5 50h1v1h-1zM13 50h2v1h-2zM3 51h1v1h-1zM10 51h1v1h-1zM13 51h1v1h-1zM3 52h1v1h-1zM5 52h1v1h-1zM13 52h1v1h-1zM4 53h1v1h-1zM6 53h3v1h-3zM1 54h1v1h-1zM3 54h1v1h-1zM5 54h1v1h-1zM7 54h1v1h-1zM13 54h1v1h-1zM1 55h1v1h-1zM4 55h2v1h-2zM8 55h1v1h-1zM10 55h1v1h-1zM4 56h1v1h-1zM6 56h1v1h-1zM14 56h1v1h-1z"/>
<path fill="#f3ab8e" d="M12 0h1v1h-1zM9 1h1v1h-1zM12 1h1v1h-1zM2 2h1v1h-1zM2 3h1v1h-1zM2 5h1v1h-1zM2 6h1v1h-1zM12 6h1v1h-1zM2 7h1v1h-1zM2 8h1v1h-1zM6 9h1v1h-1zM12 9h1v1h-1zM2 10h1v1h-1zM6 11h1v1h-1zM12 11h1v1h-1zM2 13h1v1h-1zM2 14h1v1h-1zM2 15h1v1h-1zM10 17h1v1h-1zM12 18h1v1h-1zM0 19h2v1h-2zM11 19h1v1h-1zM14 19h1v1h-1zM8 21h3v1h-3zM12 21h1v1h-1zM12 22h1v1h-1zM2 23h1v1h-1zM4 23h1v1h-1zM8 24h1v1h-1zM10 24h1v1h-1zM9 25h2v1h-2zM2 26h1v1h-1zM4 29h1v1h-1zM0 34h1v1h-1zM11 34h1v1h-1zM14 34h1v1h-1zM6 35h1v1h-1zM12 35h1v1h-1zM2 36h1v1h-1zM12 36h1v1h-1zM6 39h1v1h-1zM0 41h1v1h-1zM6 41h1v1h-1zM2 42h1v1h-1zM9 43h1v1h-1zM9 44h1v1h-1zM12 44h1v1h-1zM9 45h1v1h-1zM9 46h1v1h-1zM2 48h1v1h-1zM10 48h1v1h-1zM10 49h1v1h-1zM12 50h1v1h-1zM2 51h1v1h-1zM14 51h1v1h-1zM2 52h1v1h-1zM9 54h1v1h-1zM11 55h2v1h-2zM13 56h1v1h-1z"/>
<path fill="#dc6a55" d="M2 4h1v1h-1zM0 27h1v1h-1zM6 42h1v1h-1z"/>
<path fill="#d6e8f3" d="M13 4h1v1h-1zM5 10h1v1h-1zM5 13h1v1h-1zM0 56h1v1h-1z"/>
<path fill="#7fb5dc" d="M5 7h1v1h-1zM5 11h1v1h-1zM5 12h1v1h-1zM6 23h1v1h-1zM13 24h1v1h-1zM5 29h1v1h-1zM5 30h1v1h-1zM5 32h1v1h-1zM5 33h1v1h-1zM5 37h1v1h-1zM13 39h1v1h-1zM13 40h1v1h-1zM3 41h1v1h-1zM13 44h1v1h-1zM13 48h1v1h-1zM5 49h1v1h-1zM3 50h1v1h-1zM7 50h1v1h-1zM5 51h1v1h-1zM1 53h2v1h-2zM5 53h1v1h-1zM13 53h1v1h-1zM7 55h1v1h-1zM1 56h1v1h-1zM5 56h1v1h-1zM7 56h1v1h-1z"/>
<path fill="#2f70b4" d="M5 36h1v1h-1zM5 40h1v1h-1zM14 54h1v1h-1zM10 56h1v1h-1z"/>
</g></g>
<line x1="81.7" y1="43.40" x2="126.50" y2="43.40" stroke="#3a3a3a" stroke-width="1"/>
<line x1="126.50" y1="43.40" x2="178.90" y2="43.40" stroke="#2a2a2a" stroke-width="1.1"/>
<line x1="187.70" y1="43.40" x2="304.50" y2="43.40" stroke="#2a2a2a" stroke-width="1.1"/>
<line x1="314.40" y1="43.40" x2="401.80" y2="43.40" stroke="#2a2a2a" stroke-width="1.1"/>
<line x1="81.7" y1="59.56" x2="126.50" y2="59.56" stroke="#3a3a3a" stroke-width="1"/>
<line x1="126.50" y1="59.56" x2="178.90" y2="59.56" stroke="#2a2a2a" stroke-width="1.1"/>
<line x1="187.70" y1="59.56" x2="304.50" y2="59.56" stroke="#2a2a2a" stroke-width="1.1"/>
<line x1="314.40" y1="59.56" x2="401.80" y2="59.56" stroke="#2a2a2a" stroke-width="1.1"/>
<line x1="81.7" y1="164.60" x2="126.50" y2="164.60" stroke="#3a3a3a" stroke-width="1"/>
<line x1="126.50" y1="164.60" x2="178.90" y2="164.60" stroke="#2a2a2a" stroke-width="1.1"/>
<line x1="187.70" y1="164.60" x2="304.50" y2="164.60" stroke="#2a2a2a" stroke-width="1.1"/>
<line x1="314.40" y1="164.60" x2="401.80" y2="164.60" stroke="#2a2a2a" stroke-width="1.1"/>
<line x1="81.7" y1="253.48" x2="126.50" y2="253.48" stroke="#3a3a3a" stroke-width="1"/>
<line x1="126.50" y1="253.48" x2="178.90" y2="253.48" stroke="#2a2a2a" stroke-width="1.1"/>
<line x1="187.70" y1="253.48" x2="304.50" y2="253.48" stroke="#2a2a2a" stroke-width="1.1"/>
<line x1="314.40" y1="253.48" x2="401.80" y2="253.48" stroke="#2a2a2a" stroke-width="1.1"/>
<line x1="81.7" y1="382.76" x2="126.50" y2="382.76" stroke="#3a3a3a" stroke-width="1"/>
<line x1="126.50" y1="382.76" x2="178.90" y2="382.76" stroke="#2a2a2a" stroke-width="1.1"/>
<line x1="187.70" y1="382.76" x2="304.50" y2="382.76" stroke="#2a2a2a" stroke-width="1.1"/>
<line x1="314.40" y1="382.76" x2="401.80" y2="382.76" stroke="#2a2a2a" stroke-width="1.1"/>
<line x1="81.7" y1="407.00" x2="126.50" y2="407.00" stroke="#3a3a3a" stroke-width="1"/>
<line x1="126.50" y1="407.00" x2="178.90" y2="407.00" stroke="#2a2a2a" stroke-width="1.1"/>
<line x1="187.70" y1="407.00" x2="304.50" y2="407.00" stroke="#2a2a2a" stroke-width="1.1"/>
<line x1="314.40" y1="407.00" x2="401.80" y2="407.00" stroke="#2a2a2a" stroke-width="1.1"/>
<line x1="81.7" y1="431.24" x2="126.50" y2="431.24" stroke="#3a3a3a" stroke-width="1"/>
<line x1="126.50" y1="431.24" x2="178.90" y2="431.24" stroke="#2a2a2a" stroke-width="1.1"/>
<line x1="187.70" y1="431.24" x2="304.50" y2="431.24" stroke="#2a2a2a" stroke-width="1.1"/>
<line x1="314.40" y1="431.24" x2="401.80" y2="431.24" stroke="#2a2a2a" stroke-width="1.1"/>
<line x1="81.7" y1="447.40" x2="126.50" y2="447.40" stroke="#3a3a3a" stroke-width="1"/>
<line x1="126.50" y1="447.40" x2="178.90" y2="447.40" stroke="#2a2a2a" stroke-width="1.1"/>
<line x1="187.70" y1="447.40" x2="304.50" y2="447.40" stroke="#2a2a2a" stroke-width="1.1"/>
<line x1="314.40" y1="447.40" x2="401.80" y2="447.40" stroke="#2a2a2a" stroke-width="1.1"/>
<line x1="81.7" y1="479.72" x2="126.50" y2="479.72" stroke="#3a3a3a" stroke-width="1"/>
<line x1="126.50" y1="479.72" x2="178.90" y2="479.72" stroke="#2a2a2a" stroke-width="1.1"/>
<line x1="187.70" y1="479.72" x2="304.50" y2="479.72" stroke="#2a2a2a" stroke-width="1.1"/>
<line x1="314.40" y1="479.72" x2="401.80" y2="479.72" stroke="#2a2a2a" stroke-width="1.1"/>
<line x1="81.7" y1="487.80" x2="126.50" y2="487.80" stroke="#3a3a3a" stroke-width="1"/>
<line x1="126.50" y1="487.80" x2="178.90" y2="487.80" stroke="#2a2a2a" stroke-width="1.1"/>
<line x1="187.70" y1="487.80" x2="304.50" y2="487.80" stroke="#2a2a2a" stroke-width="1.1"/>
<line x1="314.40" y1="487.80" x2="401.80" y2="487.80" stroke="#2a2a2a" stroke-width="1.1"/>
<line x1="81.7" y1="503.96" x2="126.50" y2="503.96" stroke="#3a3a3a" stroke-width="1"/>
<rect x="126.50" y="43.40" width="52.40" height="460.56" fill="none" stroke="#3c3c3c" stroke-width="1.1"/>
<rect x="187.70" y="43.40" width="116.80" height="460.56" fill="none" stroke="#3c3c3c" stroke-width="1.1"/>
<rect x="314.40" y="43.40" width="87.40" height="460.56" fill="none" stroke="#3c3c3c" stroke-width="1.1"/>
<rect x="64.1" y="43.40" width="3.5" height="16.16" fill="#8a1538" stroke="#777" stroke-width="0.3"/>
<rect x="64.1" y="59.56" width="3.5" height="105.04" fill="#b5173f" stroke="#777" stroke-width="0.3"/>
<rect x="64.1" y="164.60" width="3.5" height="88.88" fill="#e8563a" stroke="#777" stroke-width="0.3"/>
<rect x="64.1" y="253.48" width="3.5" height="129.28" fill="#f08c3e" stroke="#777" stroke-width="0.3"/>
<rect x="64.1" y="382.76" width="3.5" height="24.24" fill="#fcd27c" stroke="#777" stroke-width="0.3"/>
<rect x="64.1" y="407.00" width="3.5" height="24.24" fill="#58b698" stroke="#777" stroke-width="0.3"/>
<rect x="64.1" y="431.24" width="3.5" height="16.16" fill="#c8e29c" stroke="#777" stroke-width="0.3"/>
<rect x="64.1" y="447.40" width="3.5" height="32.32" fill="#f4f4ac" stroke="#777" stroke-width="0.3"/>
<rect x="64.1" y="479.72" width="3.5" height="8.08" fill="#f5f3a8" stroke="#777" stroke-width="0.3"/>
<rect x="64.1" y="487.80" width="3.5" height="16.16" fill="#f8e48a" stroke="#777" stroke-width="0.3"/>
<text x="122.3" y="49.70" font-size="7.5" text-anchor="end" fill="#111">d18:1/22:1</text>
<text x="122.3" y="57.78" font-size="7.5" text-anchor="end" fill="#111">d18:1/24:1</text>
<text x="122.3" y="65.86" font-size="7.5" text-anchor="end" fill="#111">d18:1/16:0</text>
<text x="122.3" y="73.94" font-size="7.5" text-anchor="end" fill="#111">d18:1/18:0</text>
<text x="122.3" y="82.02" font-size="7.5" text-anchor="end" fill="#111">d18:1/18:0-OH</text>
<text x="122.3" y="90.10" font-size="7.5" text-anchor="end" fill="#111">d18:1/20:0</text>
<text x="122.3" y="98.18" font-size="7.5" text-anchor="end" fill="#111">d18:1/22:0</text>
<text x="122.3" y="106.26" font-size="7.5" text-anchor="end" fill="#111">d18:1/22:1</text>
<text x="122.3" y="114.34" font-size="7.5" text-anchor="end" fill="#111">d18:1/22:1-OH</text>
<text x="122.3" y="122.42" font-size="7.5" text-anchor="end" fill="#111">d18:1/23:0</text>
<text x="122.3" y="130.50" font-size="7.5" text-anchor="end" fill="#111">d18:1/23:1-OH</text>
<text x="122.3" y="138.58" font-size="7.5" text-anchor="end" fill="#111">d18:1/24:0</text>
<text x="122.3" y="146.66" font-size="7.5" text-anchor="end" fill="#111">d18:1/24:1</text>
<text x="122.3" y="154.74" font-size="7.5" text-anchor="end" fill="#111">d18:1/24:1-OH</text>
<text x="122.3" y="162.82" font-size="7.5" text-anchor="end" fill="#111">d18:2/18:0</text>
<text x="122.3" y="170.90" font-size="7.5" text-anchor="end" fill="#111">d18:1/16:0</text>
<text x="122.3" y="178.98" font-size="7.5" text-anchor="end" fill="#111">d18:1/18:0</text>
<text x="122.3" y="187.06" font-size="7.5" text-anchor="end" fill="#111">d18:1/20:0</text>
<text x="122.3" y="195.14" font-size="7.5" text-anchor="end" fill="#111">d18:1/22:0</text>
<text x="122.3" y="203.22" font-size="7.5" text-anchor="end" fill="#111">d18:1/22:1</text>
<text x="122.3" y="211.30" font-size="7.5" text-anchor="end" fill="#111">d18:1/23:1</text>
<text x="122.3" y="219.38" font-size="7.5" text-anchor="end" fill="#111">d18:1/24:0</text>
<text x="122.3" y="227.46" font-size="7.5" text-anchor="end" fill="#111">d18:1/24:1</text>
<text x="122.3" y="235.54" font-size="7.5" text-anchor="end" fill="#111">d18:1/25:1</text>
<text x="122.3" y="243.62" font-size="7.5" text-anchor="end" fill="#111">d18:1/26:0</text>
<text x="122.3" y="251.70" font-size="7.5" text-anchor="end" fill="#111">d18:1/26:1</text>
<text x="122.3" y="259.78" font-size="7.5" text-anchor="end" fill="#111">d18:1/18:0</text>
<text x="122.3" y="267.86" font-size="7.5" text-anchor="end" fill="#111">d18:1/20:0</text>
<text x="122.3" y="275.94" font-size="7.5" text-anchor="end" fill="#111">d18:1/22:0</text>
<text x="122.3" y="284.02" font-size="7.5" text-anchor="end" fill="#111">d18:1/22:0-OH</text>
<text x="122.3" y="292.10" font-size="7.5" text-anchor="end" fill="#111">d18:1/22:1</text>
<text x="122.3" y="300.18" font-size="7.5" text-anchor="end" fill="#111">d18:1/23:0</text>
<text x="122.3" y="308.26" font-size="7.5" text-anchor="end" fill="#111">d18:1/23:0-OH</text>
<text x="122.3" y="316.34" font-size="7.5" text-anchor="end" fill="#111">d18:1/23:1</text>
<text x="122.3" y="324.42" font-size="7.5" text-anchor="end" fill="#111">d18:1/23:1-OH</text>
<text x="122.3" y="332.50" font-size="7.5" text-anchor="end" fill="#111">d18:1/24:0</text>
<text x="122.3" y="340.58" font-size="7.5" text-anchor="end" fill="#111">d18:1/24:0-OH</text>
<text x="122.3" y="348.66" font-size="7.5" text-anchor="end" fill="#111">d18:1/24:1</text>
<text x="122.3" y="356.74" font-size="7.5" text-anchor="end" fill="#111">d18:1/24:1-OH</text>
<text x="122.3" y="364.82" font-size="7.5" text-anchor="end" fill="#111">d18:1/25:0</text>
<text x="122.3" y="372.90" font-size="7.5" text-anchor="end" fill="#111">d18:1/25:0-OH</text>
<text x="122.3" y="380.98" font-size="7.5" text-anchor="end" fill="#111">d18:1/25:1-OH</text>
<text x="122.3" y="389.06" font-size="7.5" text-anchor="end" fill="#111">40:2</text>
<text x="122.3" y="397.14" font-size="7.5" text-anchor="end" fill="#111">42:2</text>
<text x="122.3" y="405.22" font-size="7.5" text-anchor="end" fill="#111">d18:1/24:0</text>
<text x="122.3" y="413.30" font-size="7.5" text-anchor="end" fill="#111">18:0/18:0</text>
<text x="122.3" y="421.38" font-size="7.5" text-anchor="end" fill="#111">18:0/20:1</text>
<text x="122.3" y="429.46" font-size="7.5" text-anchor="end" fill="#111">18:1/20:1</text>
<text x="122.3" y="437.54" font-size="7.5" text-anchor="end" fill="#111">34:1</text>
<text x="122.3" y="445.62" font-size="7.5" text-anchor="end" fill="#111">36:2</text>
<text x="122.3" y="453.70" font-size="7.5" text-anchor="end" fill="#111">16:0/18:1</text>
<text x="122.3" y="461.78" font-size="7.5" text-anchor="end" fill="#111">18:0/18:0</text>
<text x="122.3" y="469.86" font-size="7.5" text-anchor="end" fill="#111">18:0/18:1</text>
<text x="122.3" y="477.94" font-size="7.5" text-anchor="end" fill="#111">18:0/18:2</text>
<text x="122.3" y="486.02" font-size="7.5" text-anchor="end" fill="#111">18:0/18:1</text>
<text x="122.3" y="494.10" font-size="7.5" text-anchor="end" fill="#111">18:0/18:1</text>
<text x="122.3" y="502.18" font-size="7.5" text-anchor="end" fill="#111">18:1/18:1</text>
<text x="58.5" y="54.6" font-size="14.6" text-anchor="end" fill="#1a1a1a">Cer</text>
<text x="58.5" y="116.8" font-size="14.6" text-anchor="end" fill="#1a1a1a">HexCer</text>
<text x="58.5" y="208.7" font-size="14.6" text-anchor="end" fill="#1a1a1a">Hex2Cer</text>
<text x="58.5" y="318.0" font-size="14.6" text-anchor="end" fill="#1a1a1a">ST</text>
<text x="58.5" y="398.5" font-size="14.6" text-anchor="end" fill="#1a1a1a">SM</text>
<text x="58.5" y="422.5" font-size="14.6" text-anchor="end" fill="#1a1a1a">PA</text>
<text x="58.5" y="440.5" font-size="14.6" text-anchor="end" fill="#1a1a1a">PEp</text>
<text x="58.5" y="467.3" font-size="14.6" text-anchor="end" fill="#1a1a1a">PI</text>
<text x="58.5" y="487.6" font-size="14.6" text-anchor="end" fill="#1a1a1a">PS</text>
<text x="58.5" y="498.8" font-size="14.6" text-anchor="end" fill="#1a1a1a">DG</text>
<text x="31.0" y="528.7" font-size="13.9" font-weight="bold" fill="#111">B</text>
<g filter="url(#sb)"><g transform="translate(126.50 539.90) scale(5.8222 8.08)" shape-rendering="crispEdges">
<path fill="#d6e8f3" d="M0 0h1v1h-1zM5 0h1v1h-1zM0 1h1v1h-1zM5 1h1v1h-1zM5 5h1v1h-1zM2 6h1v1h-1zM8 6h1v1h-1zM8 8h1v1h-1zM6 10h1v1h-1zM5 11h1v1h-1zM4 15h1v1h-1zM4 18h1v1h-1zM6 20h1v1h-1zM4 21h1v1h-1zM0 22h2v1h-2zM8 22h1v1h-1zM0 23h1v1h-1zM6 23h1v1h-1zM0 24h1v1h-1zM4 24h1v1h-1zM1 28h1v1h-1zM5 29h2v1h-2zM8 29h1v1h-1zM5 30h1v1h-1zM0 31h1v1h-1zM2 31h1v1h-1zM1 32h1v1h-1zM8 32h1v1h-1zM1 33h1v1h-1zM8 33h1v1h-1zM6 34h1v1h-1zM8 34h1v1h-1zM1 35h1v1h-1zM0 36h1v1h-1zM0 37h1v1h-1zM7 37h2v1h-2zM4 38h1v1h-1zM6 38h1v1h-1zM1 39h1v1h-1zM6 39h1v1h-1zM0 40h1v1h-1zM4 40h1v1h-1zM4 41h1v1h-1zM0 42h2v1h-2zM0 43h1v1h-1zM4 43h2v1h-2zM1 44h1v1h-1zM3 44h1v1h-1zM5 44h1v1h-1zM7 44h2v1h-2zM6 45h1v1h-1zM4 46h1v1h-1zM0 47h1v1h-1zM4 47h1v1h-1zM8 47h1v1h-1zM7 48h1v1h-1zM0 49h1v1h-1zM4 49h1v1h-1zM4 50h3v1h-3zM1 51h1v1h-1zM5 51h2v1h-2zM4 52h1v1h-1zM6 52h1v1h-1zM0 53h1v1h-1zM4 53h3v1h-3zM0 54h2v1h-2zM4 54h1v1h-1zM8 54h1v1h-1zM0 55h1v1h-1zM6 55h1v1h-1zM8 55h1v1h-1zM1 56h1v1h-1zM6 56h2v1h-2z"/>
<path fill="#afd2e9" d="M1 0h2v1h-2zM7 0h2v1h-2zM1 1h2v1h-2zM7 1h2v1h-2zM3 2h3v1h-3zM8 2h1v1h-1zM3 3h2v1h-2zM6 3h1v1h-1zM8 3h1v1h-1zM0 4h1v1h-1zM3 4h4v1h-4zM8 4h1v1h-1zM0 5h2v1h-2zM3 5h2v1h-2zM6 5h1v1h-1zM8 5h1v1h-1zM3 6h3v1h-3zM7 6h1v1h-1zM3 7h1v1h-1zM6 7h1v1h-1zM1 8h2v1h-2zM4 8h1v1h-1zM4 9h2v1h-2zM8 9h1v1h-1zM0 10h1v1h-1zM4 10h1v1h-1zM8 10h1v1h-1zM7 11h1v1h-1zM0 12h2v1h-2zM6 12h2v1h-2zM0 13h1v1h-1zM2 13h1v1h-1zM4 13h2v1h-2zM8 13h1v1h-1zM2 14h1v1h-1zM4 14h1v1h-1zM6 14h1v1h-1zM1 15h1v1h-1zM5 15h1v1h-1zM3 16h2v1h-2zM6 16h1v1h-1zM1 17h1v1h-1zM5 17h1v1h-1zM7 17h1v1h-1zM3 18h1v1h-1zM1 19h1v1h-1zM4 19h3v1h-3zM0 20h1v1h-1zM3 20h2v1h-2zM8 20h1v1h-1zM0 21h2v1h-2zM5 21h1v1h-1zM4 23h2v1h-2zM8 23h1v1h-1zM6 24h1v1h-1zM8 24h1v1h-1zM0 25h2v1h-2zM4 25h3v1h-3zM8 25h1v1h-1zM0 26h2v1h-2zM4 26h3v1h-3zM8 26h1v1h-1zM0 27h1v1h-1zM6 27h1v1h-1zM0 28h1v1h-1zM4 28h1v1h-1zM8 28h1v1h-1zM0 29h2v1h-2zM4 29h1v1h-1zM0 30h2v1h-2zM4 30h1v1h-1zM6 30h1v1h-1zM8 30h1v1h-1zM1 31h1v1h-1zM4 31h1v1h-1zM7 31h1v1h-1zM0 32h1v1h-1zM2 32h1v1h-1zM6 32h1v1h-1zM0 33h1v1h-1zM2 33h1v1h-1zM4 33h2v1h-2zM0 34h1v1h-1zM3 34h2v1h-2zM2 35h4v1h-4zM8 35h1v1h-1zM2 36h1v1h-1zM4 36h2v1h-2zM8 36h1v1h-1zM1 37h3v1h-3zM5 37h2v1h-2zM0 38h2v1h-2zM3 38h1v1h-1zM5 38h1v1h-1zM0 39h1v1h-1zM4 39h1v1h-1zM2 40h1v1h-1zM5 40h2v1h-2zM8 40h1v1h-1zM5 41h1v1h-1zM8 41h1v1h-1zM4 42h2v1h-2zM8 42h1v1h-1zM1 43h3v1h-3zM0 44h1v1h-1zM6 44h1v1h-1zM0 45h1v1h-1zM2 45h1v1h-1zM5 45h1v1h-1zM8 45h1v1h-1zM5 46h2v1h-2zM8 46h1v1h-1zM6 47h1v1h-1zM2 48h1v1h-1zM4 48h1v1h-1zM5 49h2v1h-2zM0 50h2v1h-2zM4 51h1v1h-1zM5 52h1v1h-1zM8 52h1v1h-1zM1 53h3v1h-3zM2 54h1v1h-1zM5 54h2v1h-2zM2 55h1v1h-1zM4 55h1v1h-1zM0 56h1v1h-1zM2 56h1v1h-1zM8 56h1v1h-1z"/>
<path fill="#fbdccb" d="M3 0h1v1h-1zM3 1h1v1h-1zM1 2h1v1h-1zM6 2h1v1h-1zM1 3h1v1h-1zM7 4h1v1h-1zM7 5h1v1h-1zM0 7h2v1h-2zM4 7h1v1h-1zM7 7h2v1h-2zM6 8h2v1h-2zM0 9h2v1h-2zM7 9h1v1h-1zM1 10h1v1h-1zM0 11h2v1h-2zM8 11h1v1h-1zM4 12h2v1h-2zM8 12h1v1h-1zM6 13h1v1h-1zM0 14h2v1h-2zM0 15h1v1h-1zM7 15h2v1h-2zM0 16h2v1h-2zM7 16h2v1h-2zM0 17h1v1h-1zM0 18h2v1h-2zM8 18h1v1h-1zM7 19h2v1h-2zM1 20h1v1h-1zM7 20h1v1h-1zM7 21h1v1h-1zM7 22h1v1h-1zM1 23h1v1h-1zM7 23h1v1h-1zM1 24h1v1h-1zM7 24h1v1h-1zM4 27h2v1h-2zM8 27h1v1h-1zM6 28h2v1h-2zM3 31h1v1h-1zM6 31h1v1h-1zM8 31h1v1h-1zM6 33h1v1h-1zM1 34h1v1h-1zM6 35h1v1h-1zM6 36h1v1h-1zM8 39h1v1h-1zM1 40h1v1h-1zM0 41h1v1h-1zM6 41h1v1h-1zM6 42h1v1h-1zM8 43h1v1h-1zM2 44h1v1h-1zM4 44h1v1h-1zM0 46h2v1h-2zM1 47h1v1h-1zM7 47h1v1h-1zM1 49h1v1h-1zM7 50h2v1h-2zM0 51h1v1h-1zM1 52h1v1h-1zM7 52h1v1h-1zM7 53h1v1h-1zM7 54h1v1h-1zM1 55h1v1h-1z"/>
<path fill="#ef9779" d="M4 0h1v1h-1zM4 1h1v1h-1zM1 13h1v1h-1zM7 13h1v1h-1zM7 14h1v1h-1zM4 17h1v1h-1zM8 21h1v1h-1zM7 33h1v1h-1zM7 35h1v1h-1zM1 36h1v1h-1zM7 36h1v1h-1zM8 38h1v1h-1zM7 39h1v1h-1zM7 40h1v1h-1zM1 41h1v1h-1zM7 42h1v1h-1zM1 45h1v1h-1zM7 45h1v1h-1zM7 46h1v1h-1zM5 48h2v1h-2zM8 53h1v1h-1zM7 55h1v1h-1z"/>
<path fill="#2f70b4" d="M6 0h1v1h-1zM6 1h1v1h-1zM2 3h1v1h-1zM2 4h1v1h-1zM1 6h1v1h-1zM2 9h2v1h-2zM3 10h1v1h-1zM2 11h1v1h-1zM2 12h2v1h-2zM3 14h1v1h-1zM5 14h1v1h-1zM2 15h2v1h-2zM3 23h1v1h-1zM2 24h2v1h-2zM2 25h2v1h-2zM2 26h1v1h-1zM3 36h1v1h-1zM2 38h1v1h-1zM3 39h1v1h-1zM3 40h1v1h-1zM3 45h1v1h-1zM2 47h1v1h-1zM2 49h1v1h-1z"/>
<path fill="#64a5d3" d="M0 2h1v1h-1zM2 2h1v1h-1zM0 3h1v1h-1zM5 3h1v1h-1zM2 5h1v1h-1zM6 6h1v1h-1zM2 7h1v1h-1zM5 7h1v1h-1zM3 8h1v1h-1zM5 8h1v1h-1zM6 9h1v1h-1zM2 10h1v1h-1zM5 10h1v1h-1zM3 11h1v1h-1zM6 11h1v1h-1zM3 13h1v1h-1zM6 15h1v1h-1zM5 16h1v1h-1zM2 17h2v1h-2zM6 17h1v1h-1zM2 18h1v1h-1zM5 18h2v1h-2zM2 19h2v1h-2zM2 20h1v1h-1zM5 20h1v1h-1zM2 21h2v1h-2zM6 21h1v1h-1zM2 22h5v1h-5zM2 23h1v1h-1zM5 24h1v1h-1zM1 27h3v1h-3zM7 27h1v1h-1zM2 28h2v1h-2zM5 28h1v1h-1zM2 29h2v1h-2zM2 30h2v1h-2zM5 31h1v1h-1zM3 32h3v1h-3zM3 33h1v1h-1zM2 34h1v1h-1zM5 34h1v1h-1zM0 35h1v1h-1zM2 39h1v1h-1zM5 39h1v1h-1zM2 41h1v1h-1zM2 42h2v1h-2zM6 43h2v1h-2zM4 45h1v1h-1zM3 46h1v1h-1zM3 47h1v1h-1zM5 47h1v1h-1zM3 49h1v1h-1zM2 50h2v1h-2zM2 51h2v1h-2zM2 52h2v1h-2zM3 54h1v1h-1zM3 55h1v1h-1zM5 55h1v1h-1zM3 56h3v1h-3z"/>
<path fill="#f7c1a6" d="M7 2h1v1h-1zM7 3h1v1h-1zM1 4h1v1h-1zM0 6h1v1h-1zM0 8h1v1h-1zM7 10h1v1h-1zM4 11h1v1h-1zM8 14h1v1h-1zM8 17h1v1h-1zM7 18h1v1h-1zM7 29h1v1h-1zM7 30h1v1h-1zM7 32h1v1h-1zM7 34h1v1h-1zM4 37h1v1h-1zM7 38h1v1h-1zM7 41h1v1h-1zM7 49h1v1h-1zM7 51h1v1h-1z"/>
<path fill="#1b478b" d="M2 16h1v1h-1zM3 26h1v1h-1zM3 41h1v1h-1zM2 46h1v1h-1zM3 48h1v1h-1z"/>
<path fill="#ece8e9" d="M0 19h1v1h-1zM7 25h1v1h-1zM7 26h1v1h-1zM0 48h2v1h-2zM8 48h1v1h-1zM8 49h1v1h-1zM8 51h1v1h-1zM0 52h1v1h-1z"/>
</g></g>
<g filter="url(#sb)"><g transform="translate(187.70 539.90) scale(5.8400 8.08)" shape-rendering="crispEdges">
<path fill="#f7c1a6" d="M0 0h1v1h-1zM6 0h1v1h-1zM12 0h1v1h-1zM16 0h1v1h-1zM18 0h1v1h-1zM0 1h1v1h-1zM7 1h1v1h-1zM18 1h1v1h-1zM7 2h1v1h-1zM10 2h1v1h-1zM16 2h1v1h-1zM1 3h1v1h-1zM6 3h2v1h-2zM11 3h1v1h-1zM16 3h1v1h-1zM1 4h1v1h-1zM7 4h1v1h-1zM11 4h1v1h-1zM16 4h1v1h-1zM3 6h1v1h-1zM8 6h1v1h-1zM16 6h1v1h-1zM5 7h1v1h-1zM0 8h1v1h-1zM4 8h1v1h-1zM7 8h1v1h-1zM1 9h1v1h-1zM10 9h1v1h-1zM19 9h1v1h-1zM1 10h1v1h-1zM7 10h1v1h-1zM9 10h1v1h-1zM14 10h1v1h-1zM17 10h1v1h-1zM19 10h1v1h-1zM12 11h1v1h-1zM14 11h1v1h-1zM16 11h1v1h-1zM7 12h1v1h-1zM19 12h1v1h-1zM0 13h1v1h-1zM4 13h1v1h-1zM6 13h1v1h-1zM0 14h1v1h-1zM16 14h1v1h-1zM7 15h1v1h-1zM10 15h2v1h-2zM19 15h1v1h-1zM0 16h2v1h-2zM5 16h1v1h-1zM14 16h1v1h-1zM16 16h1v1h-1zM10 17h1v1h-1zM16 17h1v1h-1zM19 17h1v1h-1zM8 18h1v1h-1zM12 18h1v1h-1zM16 18h1v1h-1zM3 19h1v1h-1zM7 19h1v1h-1zM14 19h1v1h-1zM16 19h1v1h-1zM7 20h1v1h-1zM10 20h1v1h-1zM7 21h3v1h-3zM11 21h2v1h-2zM0 22h1v1h-1zM7 22h2v1h-2zM16 22h1v1h-1zM7 23h1v1h-1zM4 24h1v1h-1zM10 24h3v1h-3zM0 25h1v1h-1zM4 25h1v1h-1zM12 25h1v1h-1zM19 25h1v1h-1zM0 26h1v1h-1zM4 26h1v1h-1zM11 26h1v1h-1zM15 27h1v1h-1zM0 28h1v1h-1zM11 28h1v1h-1zM13 28h1v1h-1zM19 28h1v1h-1zM12 29h1v1h-1zM14 29h3v1h-3zM9 30h1v1h-1zM13 30h1v1h-1zM5 31h1v1h-1zM15 31h1v1h-1zM0 32h1v1h-1zM6 32h1v1h-1zM0 33h2v1h-2zM0 34h1v1h-1zM8 34h1v1h-1zM11 34h1v1h-1zM16 34h1v1h-1zM0 35h1v1h-1zM4 35h1v1h-1zM0 36h1v1h-1zM4 36h1v1h-1zM8 36h1v1h-1zM11 36h1v1h-1zM18 36h1v1h-1zM15 37h1v1h-1zM9 38h1v1h-1zM15 38h1v1h-1zM6 39h1v1h-1zM11 39h1v1h-1zM14 39h1v1h-1zM9 40h1v1h-1zM13 40h1v1h-1zM4 41h1v1h-1zM6 41h1v1h-1zM10 41h2v1h-2zM19 41h1v1h-1zM6 42h2v1h-2zM11 42h1v1h-1zM4 43h1v1h-1zM10 43h2v1h-2zM13 43h1v1h-1zM1 44h1v1h-1zM11 44h1v1h-1zM15 44h1v1h-1zM0 45h1v1h-1zM4 45h1v1h-1zM8 45h1v1h-1zM11 45h1v1h-1zM18 45h1v1h-1zM14 46h1v1h-1zM4 48h1v1h-1zM19 48h1v1h-1zM7 49h2v1h-2zM10 49h1v1h-1zM7 50h2v1h-2zM12 50h1v1h-1zM14 50h1v1h-1zM19 50h1v1h-1zM6 51h1v1h-1zM18 51h1v1h-1zM7 52h2v1h-2zM0 53h2v1h-2zM7 53h1v1h-1zM9 53h1v1h-1zM15 53h1v1h-1zM7 54h1v1h-1zM4 56h1v1h-1zM9 56h1v1h-1zM13 56h1v1h-1zM18 56h1v1h-1z"/>
<path fill="#ef9779" d="M1 0h1v1h-1zM1 1h1v1h-1zM19 1h1v1h-1zM11 2h2v1h-2zM0 3h1v1h-1zM12 3h1v1h-1zM0 4h1v1h-1zM12 4h1v1h-1zM1 5h1v1h-1zM6 5h3v1h-3zM11 5h1v1h-1zM16 5h1v1h-1zM6 6h1v1h-1zM7 7h2v1h-2zM1 8h1v1h-1zM11 8h1v1h-1zM13 8h1v1h-1zM4 9h1v1h-1zM6 9h4v1h-4zM4 10h1v1h-1zM11 10h2v1h-2zM1 11h1v1h-1zM4 11h1v1h-1zM6 11h1v1h-1zM19 11h1v1h-1zM1 12h1v1h-1zM8 12h1v1h-1zM1 13h1v1h-1zM7 13h2v1h-2zM12 13h2v1h-2zM1 14h1v1h-1zM4 14h1v1h-1zM7 14h1v1h-1zM11 14h4v1h-4zM0 15h1v1h-1zM4 15h1v1h-1zM8 15h1v1h-1zM13 15h2v1h-2zM7 16h2v1h-2zM13 16h1v1h-1zM4 17h1v1h-1zM6 17h1v1h-1zM13 17h1v1h-1zM0 18h2v1h-2zM10 18h1v1h-1zM1 19h1v1h-1zM8 19h1v1h-1zM11 19h1v1h-1zM19 19h1v1h-1zM0 20h2v1h-2zM8 20h2v1h-2zM12 20h2v1h-2zM1 21h1v1h-1zM15 21h1v1h-1zM0 23h1v1h-1zM4 23h1v1h-1zM6 23h1v1h-1zM10 23h1v1h-1zM13 23h1v1h-1zM0 24h2v1h-2zM6 24h1v1h-1zM8 24h1v1h-1zM13 24h1v1h-1zM1 25h1v1h-1zM9 25h1v1h-1zM1 26h1v1h-1zM6 26h2v1h-2zM12 26h2v1h-2zM1 27h1v1h-1zM12 27h1v1h-1zM1 28h1v1h-1zM1 29h1v1h-1zM8 29h1v1h-1zM11 29h1v1h-1zM1 30h1v1h-1zM6 30h3v1h-3zM11 30h2v1h-2zM3 31h2v1h-2zM11 31h2v1h-2zM14 31h1v1h-1zM16 31h2v1h-2zM1 32h1v1h-1zM4 32h1v1h-1zM8 32h1v1h-1zM12 32h1v1h-1zM4 33h1v1h-1zM13 33h1v1h-1zM1 34h1v1h-1zM4 34h1v1h-1zM6 34h1v1h-1zM12 34h2v1h-2zM1 35h1v1h-1zM6 35h1v1h-1zM8 35h1v1h-1zM12 35h2v1h-2zM7 36h1v1h-1zM10 36h1v1h-1zM13 36h1v1h-1zM1 37h1v1h-1zM7 37h3v1h-3zM16 37h1v1h-1zM1 38h1v1h-1zM6 38h1v1h-1zM8 38h1v1h-1zM11 38h2v1h-2zM7 39h2v1h-2zM12 39h2v1h-2zM12 40h1v1h-1zM7 41h2v1h-2zM13 41h1v1h-1zM1 42h1v1h-1zM8 42h1v1h-1zM13 42h1v1h-1zM1 43h1v1h-1zM7 43h1v1h-1zM12 43h1v1h-1zM8 44h1v1h-1zM12 44h2v1h-2zM7 45h1v1h-1zM10 45h1v1h-1zM13 45h1v1h-1zM0 46h1v1h-1zM4 46h1v1h-1zM6 46h1v1h-1zM10 46h1v1h-1zM0 47h1v1h-1zM4 47h1v1h-1zM6 47h1v1h-1zM8 47h1v1h-1zM10 47h1v1h-1zM6 48h1v1h-1zM11 48h1v1h-1zM13 48h2v1h-2zM1 49h1v1h-1zM4 49h1v1h-1zM11 49h1v1h-1zM13 49h1v1h-1zM0 50h1v1h-1zM6 50h1v1h-1zM9 50h1v1h-1zM13 50h1v1h-1zM7 51h2v1h-2zM11 51h1v1h-1zM6 52h1v1h-1zM4 53h1v1h-1zM6 53h1v1h-1zM19 53h1v1h-1zM0 54h1v1h-1zM4 54h1v1h-1zM6 54h1v1h-1zM12 54h2v1h-2zM0 55h1v1h-1zM4 55h1v1h-1zM6 55h1v1h-1zM12 55h2v1h-2zM0 56h1v1h-1zM6 56h1v1h-1zM12 56h1v1h-1z"/>
<path fill="#afd2e9" d="M2 0h1v1h-1zM4 0h2v1h-2zM9 0h1v1h-1zM14 0h2v1h-2zM17 0h1v1h-1zM8 1h3v1h-3zM14 1h2v1h-2zM9 2h1v1h-1zM14 2h2v1h-2zM17 2h1v1h-1zM19 2h1v1h-1zM2 3h1v1h-1zM9 3h1v1h-1zM15 3h1v1h-1zM17 3h1v1h-1zM19 3h1v1h-1zM2 4h1v1h-1zM9 4h1v1h-1zM15 4h1v1h-1zM17 4h1v1h-1zM19 4h1v1h-1zM15 5h1v1h-1zM19 5h1v1h-1zM2 6h1v1h-1zM10 6h1v1h-1zM18 6h1v1h-1zM2 7h1v1h-1zM10 7h1v1h-1zM17 7h3v1h-3zM3 8h1v1h-1zM9 8h1v1h-1zM16 8h4v1h-4zM0 9h1v1h-1zM2 9h2v1h-2zM5 9h1v1h-1zM16 9h1v1h-1zM3 10h1v1h-1zM5 10h1v1h-1zM16 10h1v1h-1zM2 11h1v1h-1zM17 11h1v1h-1zM2 12h1v1h-1zM5 12h1v1h-1zM18 12h1v1h-1zM2 13h1v1h-1zM5 13h1v1h-1zM15 13h3v1h-3zM2 14h1v1h-1zM10 14h1v1h-1zM18 14h1v1h-1zM2 15h2v1h-2zM17 15h2v1h-2zM9 16h1v1h-1zM11 16h1v1h-1zM19 16h1v1h-1zM3 17h1v1h-1zM5 17h1v1h-1zM9 17h1v1h-1zM17 17h1v1h-1zM2 18h1v1h-1zM5 18h1v1h-1zM9 18h1v1h-1zM2 19h1v1h-1zM5 19h1v1h-1zM10 19h1v1h-1zM18 20h2v1h-2zM2 21h1v1h-1zM2 22h1v1h-1zM9 22h1v1h-1zM18 22h1v1h-1zM5 23h1v1h-1zM16 23h1v1h-1zM2 24h2v1h-2zM5 24h1v1h-1zM18 24h1v1h-1zM3 25h1v1h-1zM5 25h1v1h-1zM10 25h1v1h-1zM18 25h1v1h-1zM2 26h2v1h-2zM17 26h2v1h-2zM0 27h1v1h-1zM2 27h1v1h-1zM10 27h1v1h-1zM13 27h1v1h-1zM2 28h2v1h-2zM5 28h1v1h-1zM16 28h1v1h-1zM18 28h1v1h-1zM9 29h1v1h-1zM18 29h1v1h-1zM2 30h1v1h-1zM18 30h1v1h-1zM7 31h1v1h-1zM10 31h1v1h-1zM13 31h1v1h-1zM18 31h1v1h-1zM2 32h2v1h-2zM14 32h3v1h-3zM19 32h1v1h-1zM2 33h2v1h-2zM14 33h4v1h-4zM19 33h1v1h-1zM2 34h1v1h-1zM14 34h2v1h-2zM17 34h3v1h-3zM2 35h1v1h-1zM14 35h3v1h-3zM18 35h2v1h-2zM3 36h1v1h-1zM5 36h1v1h-1zM9 36h1v1h-1zM15 36h2v1h-2zM19 36h1v1h-1zM0 37h1v1h-1zM2 37h1v1h-1zM5 37h1v1h-1zM13 37h1v1h-1zM18 37h1v1h-1zM17 38h1v1h-1zM2 39h2v1h-2zM17 39h2v1h-2zM0 40h1v1h-1zM2 40h2v1h-2zM10 40h1v1h-1zM17 40h2v1h-2zM2 41h1v1h-1zM5 41h1v1h-1zM16 41h2v1h-2zM4 42h1v1h-1zM9 42h1v1h-1zM19 42h1v1h-1zM3 43h1v1h-1zM17 43h2v1h-2zM2 44h1v1h-1zM3 45h1v1h-1zM5 45h1v1h-1zM9 45h1v1h-1zM15 45h3v1h-3zM19 45h1v1h-1zM2 46h1v1h-1zM5 46h1v1h-1zM15 46h2v1h-2zM19 46h1v1h-1zM2 47h1v1h-1zM5 47h1v1h-1zM9 47h1v1h-1zM15 47h1v1h-1zM17 47h3v1h-3zM17 48h1v1h-1zM2 49h1v1h-1zM5 49h1v1h-1zM9 49h1v1h-1zM17 49h1v1h-1zM19 49h1v1h-1zM3 50h1v1h-1zM18 50h1v1h-1zM2 51h2v1h-2zM9 51h1v1h-1zM12 51h1v1h-1zM17 51h1v1h-1zM19 51h1v1h-1zM2 52h2v1h-2zM17 52h1v1h-1zM19 52h1v1h-1zM3 53h1v1h-1zM2 54h2v1h-2zM17 54h1v1h-1zM2 55h2v1h-2zM9 55h1v1h-1zM17 55h1v1h-1zM19 55h1v1h-1zM5 56h1v1h-1zM10 56h1v1h-1zM17 56h1v1h-1zM19 56h1v1h-1z"/>
<path fill="#fbdccb" d="M3 0h1v1h-1zM7 0h1v1h-1zM10 0h2v1h-2zM3 1h4v1h-4zM11 1h1v1h-1zM13 1h1v1h-1zM16 1h1v1h-1zM0 2h2v1h-2zM5 2h2v1h-2zM8 2h1v1h-1zM18 2h1v1h-1zM3 3h2v1h-2zM8 3h1v1h-1zM10 3h1v1h-1zM13 3h1v1h-1zM18 3h1v1h-1zM3 4h2v1h-2zM6 4h1v1h-1zM8 4h1v1h-1zM10 4h1v1h-1zM13 4h1v1h-1zM10 5h1v1h-1zM0 6h1v1h-1zM4 6h2v1h-2zM12 6h2v1h-2zM17 6h1v1h-1zM19 6h1v1h-1zM0 7h1v1h-1zM4 7h1v1h-1zM11 7h6v1h-6zM5 8h1v1h-1zM10 8h1v1h-1zM12 8h1v1h-1zM15 8h1v1h-1zM11 9h3v1h-3zM15 9h1v1h-1zM18 9h1v1h-1zM0 10h1v1h-1zM10 10h1v1h-1zM15 10h1v1h-1zM0 11h1v1h-1zM7 11h5v1h-5zM15 11h1v1h-1zM18 11h1v1h-1zM4 12h1v1h-1zM9 12h9v1h-9zM10 13h1v1h-1zM3 14h1v1h-1zM8 14h1v1h-1zM15 14h1v1h-1zM17 14h1v1h-1zM1 15h1v1h-1zM12 15h1v1h-1zM15 15h2v1h-2zM3 16h2v1h-2zM10 16h1v1h-1zM12 16h1v1h-1zM15 16h1v1h-1zM0 17h1v1h-1zM7 17h2v1h-2zM11 17h2v1h-2zM14 17h2v1h-2zM18 17h1v1h-1zM3 18h2v1h-2zM7 18h1v1h-1zM11 18h1v1h-1zM14 18h2v1h-2zM17 18h1v1h-1zM0 19h1v1h-1zM4 19h1v1h-1zM12 19h2v1h-2zM15 19h1v1h-1zM3 20h2v1h-2zM14 20h3v1h-3zM0 21h1v1h-1zM3 21h2v1h-2zM13 21h2v1h-2zM16 21h1v1h-1zM19 21h1v1h-1zM1 22h1v1h-1zM3 22h2v1h-2zM10 22h6v1h-6zM12 23h1v1h-1zM18 23h1v1h-1zM7 24h1v1h-1zM14 24h2v1h-2zM7 25h1v1h-1zM11 25h1v1h-1zM13 25h3v1h-3zM10 26h1v1h-1zM14 26h2v1h-2zM3 27h2v1h-2zM7 27h1v1h-1zM11 27h1v1h-1zM14 27h1v1h-1zM16 27h1v1h-1zM4 28h1v1h-1zM7 28h1v1h-1zM10 28h1v1h-1zM15 28h1v1h-1zM3 29h2v1h-2zM7 29h1v1h-1zM10 29h1v1h-1zM13 29h1v1h-1zM0 30h1v1h-1zM3 30h2v1h-2zM10 30h1v1h-1zM14 30h2v1h-2zM1 31h1v1h-1zM6 31h1v1h-1zM9 32h3v1h-3zM9 33h3v1h-3zM3 34h1v1h-1zM9 34h2v1h-2zM3 35h1v1h-1zM7 35h1v1h-1zM9 35h3v1h-3zM6 36h1v1h-1zM14 36h1v1h-1zM3 37h2v1h-2zM11 37h2v1h-2zM14 37h1v1h-1zM4 38h2v1h-2zM7 38h1v1h-1zM16 38h1v1h-1zM19 38h1v1h-1zM0 39h2v1h-2zM4 39h2v1h-2zM9 39h2v1h-2zM15 39h2v1h-2zM19 39h1v1h-1zM1 40h1v1h-1zM4 40h3v1h-3zM14 40h3v1h-3zM0 41h1v1h-1zM9 41h1v1h-1zM18 41h1v1h-1zM5 42h1v1h-1zM10 42h1v1h-1zM14 42h2v1h-2zM9 43h1v1h-1zM14 43h1v1h-1zM16 43h1v1h-1zM0 44h1v1h-1zM3 44h3v1h-3zM7 44h1v1h-1zM9 44h1v1h-1zM14 44h1v1h-1zM6 45h1v1h-1zM14 45h1v1h-1zM1 46h1v1h-1zM7 46h1v1h-1zM11 46h1v1h-1zM18 46h1v1h-1zM1 47h1v1h-1zM7 47h1v1h-1zM12 47h1v1h-1zM14 47h1v1h-1zM0 48h1v1h-1zM3 48h1v1h-1zM7 48h1v1h-1zM0 49h1v1h-1zM14 49h1v1h-1zM10 50h1v1h-1zM10 51h1v1h-1zM14 51h1v1h-1zM12 52h1v1h-1zM5 53h1v1h-1zM8 53h1v1h-1zM12 53h1v1h-1zM8 54h2v1h-2zM18 55h1v1h-1zM1 56h1v1h-1zM8 56h1v1h-1z"/>
<path fill="#64a5d3" d="M8 0h1v1h-1zM17 1h1v1h-1zM17 5h1v1h-1zM14 6h1v1h-1zM2 8h1v1h-1zM3 11h1v1h-1zM5 11h1v1h-1zM9 14h1v1h-1zM5 15h1v1h-1zM2 16h1v1h-1zM18 19h1v1h-1zM2 20h1v1h-1zM18 21h1v1h-1zM19 22h1v1h-1zM2 23h1v1h-1zM19 23h1v1h-1zM9 24h1v1h-1zM2 25h1v1h-1zM9 26h1v1h-1zM18 27h1v1h-1zM2 29h1v1h-1zM17 36h1v1h-1zM10 37h1v1h-1zM18 38h1v1h-1zM3 41h1v1h-1zM15 41h1v1h-1zM3 42h1v1h-1zM17 42h1v1h-1zM0 43h1v1h-1zM5 43h1v1h-1zM10 44h1v1h-1zM2 50h1v1h-1zM2 53h1v1h-1zM17 53h1v1h-1z"/>
<path fill="#ece8e9" d="M13 0h1v1h-1zM2 1h1v1h-1zM2 2h3v1h-3zM13 2h1v1h-1zM5 3h1v1h-1zM14 3h1v1h-1zM5 4h1v1h-1zM14 4h1v1h-1zM18 4h1v1h-1zM0 5h1v1h-1zM2 5h2v1h-2zM5 5h1v1h-1zM13 5h2v1h-2zM18 5h1v1h-1zM7 6h1v1h-1zM9 6h1v1h-1zM15 6h1v1h-1zM3 7h1v1h-1zM9 7h1v1h-1zM14 8h1v1h-1zM17 9h1v1h-1zM2 10h1v1h-1zM18 10h1v1h-1zM13 11h1v1h-1zM0 12h1v1h-1zM3 13h1v1h-1zM9 13h1v1h-1zM11 13h1v1h-1zM14 13h1v1h-1zM18 13h2v1h-2zM5 14h2v1h-2zM19 14h1v1h-1zM9 15h1v1h-1zM17 16h2v1h-2zM2 17h1v1h-1zM18 18h2v1h-2zM17 19h1v1h-1zM17 20h1v1h-1zM5 21h1v1h-1zM10 21h1v1h-1zM17 21h1v1h-1zM5 22h1v1h-1zM17 22h1v1h-1zM1 23h1v1h-1zM3 23h1v1h-1zM9 23h1v1h-1zM11 23h1v1h-1zM14 23h2v1h-2zM17 23h1v1h-1zM16 24h2v1h-2zM16 25h2v1h-2zM5 26h1v1h-1zM16 26h1v1h-1zM19 26h1v1h-1zM5 27h1v1h-1zM17 27h1v1h-1zM14 28h1v1h-1zM17 28h1v1h-1zM5 29h1v1h-1zM17 29h1v1h-1zM19 29h1v1h-1zM5 30h1v1h-1zM16 30h2v1h-2zM19 30h1v1h-1zM0 31h1v1h-1zM2 31h1v1h-1zM8 31h2v1h-2zM19 31h1v1h-1zM5 32h1v1h-1zM7 32h1v1h-1zM17 32h2v1h-2zM5 33h1v1h-1zM7 33h1v1h-1zM12 33h1v1h-1zM18 33h1v1h-1zM5 34h1v1h-1zM7 34h1v1h-1zM5 35h1v1h-1zM17 35h1v1h-1zM1 36h2v1h-2zM12 36h1v1h-1zM0 38h1v1h-1zM2 38h2v1h-2zM10 38h1v1h-1zM14 38h1v1h-1zM19 40h1v1h-1zM1 41h1v1h-1zM12 41h1v1h-1zM14 41h1v1h-1zM0 42h1v1h-1zM2 42h1v1h-1zM16 42h1v1h-1zM18 42h1v1h-1zM2 43h1v1h-1zM8 43h1v1h-1zM15 43h1v1h-1zM16 44h4v1h-4zM1 45h2v1h-2zM12 45h1v1h-1zM3 46h1v1h-1zM9 46h1v1h-1zM12 46h1v1h-1zM17 46h1v1h-1zM3 47h1v1h-1zM11 47h1v1h-1zM16 47h1v1h-1zM1 48h2v1h-2zM5 48h1v1h-1zM10 48h1v1h-1zM12 48h1v1h-1zM15 48h2v1h-2zM18 48h1v1h-1zM3 49h1v1h-1zM12 49h1v1h-1zM15 49h2v1h-2zM18 49h1v1h-1zM1 50h1v1h-1zM5 50h1v1h-1zM15 50h3v1h-3zM1 51h1v1h-1zM5 51h1v1h-1zM15 51h2v1h-2zM1 52h1v1h-1zM5 52h1v1h-1zM9 52h2v1h-2zM14 52h3v1h-3zM18 52h1v1h-1zM10 53h1v1h-1zM13 53h2v1h-2zM16 53h1v1h-1zM18 53h1v1h-1zM1 54h1v1h-1zM5 54h1v1h-1zM10 54h1v1h-1zM14 54h3v1h-3zM18 54h2v1h-2zM1 55h1v1h-1zM5 55h1v1h-1zM7 55h2v1h-2zM10 55h1v1h-1zM14 55h3v1h-3zM2 56h2v1h-2zM7 56h1v1h-1zM14 56h3v1h-3z"/>
<path fill="#dc6a55" d="M19 0h1v1h-1zM12 1h1v1h-1zM12 5h1v1h-1zM1 6h1v1h-1zM6 8h1v1h-1zM8 8h1v1h-1zM14 9h1v1h-1zM6 10h1v1h-1zM8 10h1v1h-1zM13 10h1v1h-1zM6 12h1v1h-1zM6 15h1v1h-1zM6 16h1v1h-1zM1 17h1v1h-1zM6 18h1v1h-1zM13 18h1v1h-1zM6 19h1v1h-1zM9 19h1v1h-1zM6 20h1v1h-1zM6 21h1v1h-1zM6 22h1v1h-1zM8 23h1v1h-1zM6 25h1v1h-1zM8 25h1v1h-1zM8 26h1v1h-1zM6 27h1v1h-1zM8 27h2v1h-2zM19 27h1v1h-1zM6 28h1v1h-1zM8 28h2v1h-2zM12 28h1v1h-1zM6 29h1v1h-1zM13 32h1v1h-1zM6 33h1v1h-1zM8 33h1v1h-1zM6 37h1v1h-1zM19 37h1v1h-1zM13 38h1v1h-1zM7 40h2v1h-2zM12 42h1v1h-1zM6 43h1v1h-1zM19 43h1v1h-1zM8 46h1v1h-1zM13 46h1v1h-1zM13 47h1v1h-1zM8 48h2v1h-2zM6 49h1v1h-1zM4 50h1v1h-1zM11 50h1v1h-1zM0 51h1v1h-1zM4 51h1v1h-1zM13 51h1v1h-1zM0 52h1v1h-1zM4 52h1v1h-1zM11 52h1v1h-1zM13 52h1v1h-1zM11 53h1v1h-1zM11 54h1v1h-1zM11 55h1v1h-1zM11 56h1v1h-1z"/>
<path fill="#d6e8f3" d="M4 5h1v1h-1zM9 5h1v1h-1zM3 12h1v1h-1zM5 20h1v1h-1zM11 20h1v1h-1zM19 24h1v1h-1zM0 29h1v1h-1zM17 37h1v1h-1zM11 40h1v1h-1z"/>
<path fill="#c93a3c" d="M11 6h1v1h-1zM1 7h1v1h-1zM6 44h1v1h-1z"/>
<path fill="#a8172b" d="M6 7h1v1h-1z"/>
</g></g>
<g filter="url(#sb)"><g transform="translate(314.40 539.90) scale(5.8267 8.08)" shape-rendering="crispEdges">
<path fill="#f7c1a6" d="M0 0h1v1h-1zM5 0h2v1h-2zM0 1h1v1h-1zM6 1h1v1h-1zM1 7h1v1h-1zM7 8h1v1h-1zM9 9h1v1h-1zM3 10h1v1h-1zM3 11h1v1h-1zM5 11h1v1h-1zM5 13h1v1h-1zM10 13h1v1h-1zM1 14h1v1h-1zM5 15h1v1h-1zM5 16h1v1h-1zM3 17h3v1h-3zM1 18h1v1h-1zM13 18h1v1h-1zM11 19h1v1h-1zM4 21h1v1h-1zM7 22h1v1h-1zM1 23h1v1h-1zM3 24h1v1h-1zM7 24h1v1h-1zM3 25h1v1h-1zM7 25h1v1h-1zM9 25h1v1h-1zM3 26h1v1h-1zM7 26h1v1h-1zM9 26h1v1h-1zM14 26h1v1h-1zM3 27h1v1h-1zM3 28h1v1h-1zM7 28h1v1h-1zM11 28h1v1h-1zM5 29h1v1h-1zM14 29h1v1h-1zM5 30h1v1h-1zM14 30h1v1h-1zM5 34h1v1h-1zM5 35h1v1h-1zM1 36h1v1h-1zM5 37h1v1h-1zM3 38h1v1h-1zM3 39h2v1h-2zM3 40h2v1h-2zM5 41h1v1h-1zM14 43h1v1h-1zM3 44h2v1h-2zM9 44h1v1h-1zM6 45h1v1h-1zM3 46h1v1h-1zM5 53h1v1h-1zM9 54h1v1h-1zM7 55h1v1h-1zM9 55h1v1h-1z"/>
<path fill="#ef9779" d="M1 0h1v1h-1zM10 0h1v1h-1zM1 1h1v1h-1zM5 1h1v1h-1zM10 1h1v1h-1zM8 2h2v1h-2zM8 3h3v1h-3zM8 4h1v1h-1zM7 5h1v1h-1zM9 5h1v1h-1zM1 6h1v1h-1zM7 6h1v1h-1zM1 8h1v1h-1zM5 9h1v1h-1zM7 9h1v1h-1zM5 10h1v1h-1zM9 10h1v1h-1zM13 11h1v1h-1zM3 12h1v1h-1zM5 12h1v1h-1zM6 13h1v1h-1zM11 13h1v1h-1zM3 14h1v1h-1zM6 14h1v1h-1zM3 16h1v1h-1zM13 17h1v1h-1zM3 18h1v1h-1zM5 18h1v1h-1zM3 19h1v1h-1zM5 20h1v1h-1zM7 20h1v1h-1zM9 20h1v1h-1zM3 22h1v1h-1zM5 22h1v1h-1zM9 22h1v1h-1zM5 23h1v1h-1zM5 24h1v1h-1zM5 25h1v1h-1zM5 26h1v1h-1zM5 28h1v1h-1zM9 28h1v1h-1zM3 29h1v1h-1zM7 29h1v1h-1zM9 29h1v1h-1zM3 30h1v1h-1zM7 30h1v1h-1zM4 31h1v1h-1zM5 32h1v1h-1zM7 32h1v1h-1zM10 32h1v1h-1zM3 33h1v1h-1zM9 33h1v1h-1zM7 34h1v1h-1zM9 34h2v1h-2zM3 35h1v1h-1zM5 36h3v1h-3zM9 39h1v1h-1zM5 40h1v1h-1zM9 40h1v1h-1zM11 41h1v1h-1zM13 41h1v1h-1zM1 42h1v1h-1zM5 42h1v1h-1zM9 42h1v1h-1zM1 45h1v1h-1zM5 45h1v1h-1zM7 45h1v1h-1zM5 47h1v1h-1zM5 49h1v1h-1zM5 50h1v1h-1zM9 50h1v1h-1zM5 52h1v1h-1zM9 52h1v1h-1zM5 54h1v1h-1zM5 55h1v1h-1zM5 56h1v1h-1zM9 56h1v1h-1zM11 56h1v1h-1z"/>
<path fill="#64a5d3" d="M2 0h1v1h-1zM11 0h1v1h-1zM2 1h1v1h-1zM11 1h2v1h-2zM14 1h1v1h-1zM1 2h2v1h-2zM4 2h1v1h-1zM2 3h1v1h-1zM1 4h1v1h-1zM11 4h1v1h-1zM10 7h1v1h-1zM0 8h1v1h-1zM4 9h1v1h-1zM12 9h1v1h-1zM2 10h1v1h-1zM10 10h1v1h-1zM0 11h1v1h-1zM9 11h1v1h-1zM11 11h1v1h-1zM0 12h1v1h-1zM10 12h1v1h-1zM0 13h1v1h-1zM2 13h1v1h-1zM0 14h1v1h-1zM2 14h1v1h-1zM10 14h1v1h-1zM13 14h1v1h-1zM0 15h1v1h-1zM0 16h1v1h-1zM11 16h1v1h-1zM0 17h1v1h-1zM9 17h1v1h-1zM11 17h1v1h-1zM11 18h1v1h-1zM6 19h1v1h-1zM10 19h1v1h-1zM0 20h1v1h-1zM2 20h1v1h-1zM8 20h1v1h-1zM0 21h1v1h-1zM10 21h1v1h-1zM0 22h1v1h-1zM8 23h1v1h-1zM11 24h1v1h-1zM0 26h1v1h-1zM10 27h1v1h-1zM2 28h1v1h-1zM8 29h1v1h-1zM11 29h1v1h-1zM0 30h1v1h-1zM6 30h1v1h-1zM8 30h1v1h-1zM10 30h1v1h-1zM2 31h1v1h-1zM0 32h1v1h-1zM2 32h1v1h-1zM8 32h1v1h-1zM0 33h1v1h-1zM2 33h1v1h-1zM0 34h1v1h-1zM2 34h1v1h-1zM0 35h1v1h-1zM2 35h1v1h-1zM6 37h1v1h-1zM0 38h1v1h-1zM6 38h1v1h-1zM2 39h1v1h-1zM8 39h1v1h-1zM6 40h1v1h-1zM2 43h1v1h-1zM2 44h1v1h-1zM0 46h1v1h-1zM11 47h1v1h-1zM2 48h1v1h-1zM10 49h2v1h-2zM12 50h1v1h-1zM14 50h1v1h-1zM12 51h1v1h-1zM14 51h1v1h-1zM12 52h1v1h-1zM14 52h1v1h-1zM1 53h1v1h-1zM12 53h1v1h-1zM12 54h1v1h-1zM0 55h1v1h-1zM8 55h1v1h-1zM2 56h1v1h-1z"/>
<path fill="#afd2e9" d="M3 0h2v1h-2zM12 0h1v1h-1zM14 0h1v1h-1zM3 1h1v1h-1zM11 2h1v1h-1zM13 2h2v1h-2zM1 3h1v1h-1zM4 3h1v1h-1zM11 3h1v1h-1zM13 3h2v1h-2zM2 4h1v1h-1zM4 4h1v1h-1zM1 5h1v1h-1zM4 5h1v1h-1zM11 5h1v1h-1zM0 6h1v1h-1zM0 7h1v1h-1zM2 7h1v1h-1zM2 8h1v1h-1zM4 8h1v1h-1zM8 8h1v1h-1zM13 8h1v1h-1zM0 9h1v1h-1zM2 9h1v1h-1zM6 9h1v1h-1zM8 9h1v1h-1zM10 9h2v1h-2zM0 10h1v1h-1zM4 10h1v1h-1zM6 10h1v1h-1zM8 10h1v1h-1zM12 10h1v1h-1zM2 11h1v1h-1zM6 11h3v1h-3zM10 11h1v1h-1zM2 12h1v1h-1zM8 12h1v1h-1zM11 12h1v1h-1zM4 13h1v1h-1zM8 13h2v1h-2zM4 14h1v1h-1zM8 14h1v1h-1zM2 15h1v1h-1zM6 15h1v1h-1zM9 15h1v1h-1zM13 15h1v1h-1zM2 16h1v1h-1zM14 16h1v1h-1zM2 17h1v1h-1zM6 17h2v1h-2zM0 18h1v1h-1zM2 18h1v1h-1zM14 18h1v1h-1zM0 19h1v1h-1zM2 19h1v1h-1zM4 20h1v1h-1zM13 20h2v1h-2zM2 21h1v1h-1zM6 21h3v1h-3zM6 22h1v1h-1zM8 22h1v1h-1zM10 22h1v1h-1zM0 23h1v1h-1zM2 23h1v1h-1zM12 23h2v1h-2zM0 24h1v1h-1zM2 24h1v1h-1zM8 24h1v1h-1zM12 24h1v1h-1zM0 25h1v1h-1zM2 25h1v1h-1zM6 25h1v1h-1zM8 25h1v1h-1zM12 25h1v1h-1zM2 26h1v1h-1zM6 26h1v1h-1zM12 26h1v1h-1zM0 27h1v1h-1zM2 27h1v1h-1zM8 27h1v1h-1zM0 28h1v1h-1zM4 28h1v1h-1zM6 28h1v1h-1zM8 28h1v1h-1zM10 28h1v1h-1zM0 29h1v1h-1zM4 29h1v1h-1zM6 29h1v1h-1zM2 30h1v1h-1zM4 30h1v1h-1zM1 31h1v1h-1zM6 31h2v1h-2zM13 31h1v1h-1zM4 32h1v1h-1zM6 32h1v1h-1zM13 32h1v1h-1zM6 33h1v1h-1zM10 33h2v1h-2zM13 33h1v1h-1zM6 34h1v1h-1zM8 34h1v1h-1zM10 35h2v1h-2zM0 36h1v1h-1zM2 36h1v1h-1zM4 36h1v1h-1zM12 36h2v1h-2zM1 38h2v1h-2zM8 38h1v1h-1zM0 39h1v1h-1zM6 39h1v1h-1zM10 39h1v1h-1zM0 40h1v1h-1zM2 40h1v1h-1zM10 40h1v1h-1zM12 40h1v1h-1zM2 41h2v1h-2zM12 41h1v1h-1zM0 42h1v1h-1zM6 42h1v1h-1zM8 42h1v1h-1zM6 43h2v1h-2zM0 44h2v1h-2zM7 44h1v1h-1zM0 45h1v1h-1zM4 45h1v1h-1zM1 46h2v1h-2zM8 46h1v1h-1zM10 46h2v1h-2zM0 47h1v1h-1zM2 47h1v1h-1zM6 47h1v1h-1zM8 47h1v1h-1zM10 47h1v1h-1zM1 48h1v1h-1zM4 48h1v1h-1zM8 48h1v1h-1zM10 48h1v1h-1zM13 48h1v1h-1zM0 49h1v1h-1zM4 49h1v1h-1zM0 50h3v1h-3zM6 50h1v1h-1zM10 50h1v1h-1zM0 51h1v1h-1zM7 51h2v1h-2zM0 52h3v1h-3zM6 52h1v1h-1zM10 52h1v1h-1zM0 53h1v1h-1zM2 53h1v1h-1zM10 53h2v1h-2zM0 54h3v1h-3zM6 54h1v1h-1zM10 54h1v1h-1zM1 55h2v1h-2zM12 55h1v1h-1zM14 55h1v1h-1zM0 56h2v1h-2zM6 56h1v1h-1zM8 56h1v1h-1zM10 56h1v1h-1zM12 56h1v1h-1zM14 56h1v1h-1z"/>
<path fill="#ece8e9" d="M7 0h3v1h-3zM4 1h1v1h-1zM7 1h3v1h-3zM3 2h1v1h-1zM12 2h1v1h-1zM6 3h1v1h-1zM12 3h1v1h-1zM12 4h3v1h-3zM0 5h1v1h-1zM13 5h2v1h-2zM7 7h3v1h-3zM11 7h3v1h-3zM1 9h1v1h-1zM3 9h1v1h-1zM1 10h1v1h-1zM1 11h1v1h-1zM4 11h1v1h-1zM12 11h1v1h-1zM14 11h1v1h-1zM1 12h1v1h-1zM14 12h1v1h-1zM1 13h1v1h-1zM7 13h1v1h-1zM7 14h1v1h-1zM9 14h1v1h-1zM7 15h2v1h-2zM10 15h1v1h-1zM1 16h1v1h-1zM6 16h1v1h-1zM8 16h1v1h-1zM10 16h1v1h-1zM12 16h2v1h-2zM1 17h1v1h-1zM8 17h1v1h-1zM10 17h1v1h-1zM12 17h1v1h-1zM6 18h5v1h-5zM7 19h3v1h-3zM12 19h3v1h-3zM1 20h1v1h-1zM6 20h1v1h-1zM10 20h3v1h-3zM1 21h1v1h-1zM11 21h1v1h-1zM13 21h2v1h-2zM1 22h2v1h-2zM11 22h1v1h-1zM13 22h1v1h-1zM4 23h1v1h-1zM9 23h1v1h-1zM11 23h1v1h-1zM4 24h1v1h-1zM6 24h1v1h-1zM10 24h1v1h-1zM4 25h1v1h-1zM10 25h1v1h-1zM13 25h1v1h-1zM4 26h1v1h-1zM8 26h1v1h-1zM10 26h2v1h-2zM13 26h1v1h-1zM1 27h1v1h-1zM4 27h1v1h-1zM7 27h1v1h-1zM11 27h3v1h-3zM12 28h2v1h-2zM1 29h2v1h-2zM10 29h1v1h-1zM13 29h1v1h-1zM1 30h1v1h-1zM13 30h1v1h-1zM8 31h3v1h-3zM12 31h1v1h-1zM14 31h1v1h-1zM11 32h2v1h-2zM4 33h1v1h-1zM8 33h1v1h-1zM12 33h1v1h-1zM14 33h1v1h-1zM4 34h1v1h-1zM11 34h3v1h-3zM1 35h1v1h-1zM4 35h1v1h-1zM6 35h1v1h-1zM8 35h1v1h-1zM13 35h2v1h-2zM3 36h1v1h-1zM8 36h1v1h-1zM1 37h2v1h-2zM4 37h1v1h-1zM7 37h3v1h-3zM11 37h1v1h-1zM4 38h1v1h-1zM7 38h1v1h-1zM10 38h2v1h-2zM1 39h1v1h-1zM7 39h1v1h-1zM13 39h1v1h-1zM7 40h2v1h-2zM11 40h1v1h-1zM13 40h1v1h-1zM14 41h1v1h-1zM2 42h1v1h-1zM10 42h1v1h-1zM12 42h2v1h-2zM0 43h1v1h-1zM9 43h4v1h-4zM13 44h2v1h-2zM2 45h2v1h-2zM8 45h1v1h-1zM12 45h2v1h-2zM4 46h1v1h-1zM12 46h2v1h-2zM1 47h1v1h-1zM3 47h2v1h-2zM12 47h2v1h-2zM0 48h1v1h-1zM3 48h1v1h-1zM5 48h1v1h-1zM7 48h1v1h-1zM9 48h1v1h-1zM12 48h1v1h-1zM14 48h1v1h-1zM1 49h2v1h-2zM6 49h1v1h-1zM8 49h1v1h-1zM12 49h1v1h-1zM8 50h1v1h-1zM11 50h1v1h-1zM13 50h1v1h-1zM1 51h4v1h-4zM11 51h1v1h-1zM13 51h1v1h-1zM3 52h2v1h-2zM7 52h2v1h-2zM11 52h1v1h-1zM13 52h1v1h-1zM4 53h1v1h-1zM7 53h2v1h-2zM13 53h1v1h-1zM4 54h1v1h-1zM7 54h2v1h-2zM13 54h1v1h-1zM4 55h1v1h-1zM6 55h1v1h-1zM10 55h1v1h-1zM13 55h1v1h-1zM3 56h2v1h-2zM13 56h1v1h-1z"/>
<path fill="#fbdccb" d="M13 0h1v1h-1zM13 1h1v1h-1zM0 2h1v1h-1zM0 3h1v1h-1zM3 3h1v1h-1zM0 4h1v1h-1zM3 4h1v1h-1zM6 4h1v1h-1zM9 4h1v1h-1zM3 5h1v1h-1zM8 5h1v1h-1zM12 5h1v1h-1zM3 6h3v1h-3zM8 6h1v1h-1zM12 6h3v1h-3zM3 7h3v1h-3zM14 7h1v1h-1zM3 8h1v1h-1zM5 8h2v1h-2zM9 8h4v1h-4zM14 8h1v1h-1zM13 9h2v1h-2zM7 10h1v1h-1zM11 10h1v1h-1zM13 10h2v1h-2zM4 12h1v1h-1zM7 12h1v1h-1zM9 12h1v1h-1zM12 12h2v1h-2zM3 13h1v1h-1zM12 13h1v1h-1zM5 14h1v1h-1zM11 14h2v1h-2zM14 14h1v1h-1zM1 15h1v1h-1zM3 15h2v1h-2zM11 15h2v1h-2zM14 15h1v1h-1zM4 16h1v1h-1zM7 16h1v1h-1zM9 16h1v1h-1zM14 17h1v1h-1zM4 18h1v1h-1zM12 18h1v1h-1zM1 19h1v1h-1zM4 19h2v1h-2zM3 20h1v1h-1zM5 21h1v1h-1zM9 21h1v1h-1zM12 21h1v1h-1zM4 22h1v1h-1zM12 22h1v1h-1zM14 22h1v1h-1zM3 23h1v1h-1zM6 23h2v1h-2zM10 23h1v1h-1zM14 23h1v1h-1zM1 24h1v1h-1zM9 24h1v1h-1zM13 24h2v1h-2zM1 25h1v1h-1zM11 25h1v1h-1zM14 25h1v1h-1zM1 26h1v1h-1zM5 27h1v1h-1zM9 27h1v1h-1zM14 27h1v1h-1zM1 28h1v1h-1zM14 28h1v1h-1zM12 29h1v1h-1zM11 30h2v1h-2zM5 31h1v1h-1zM11 31h1v1h-1zM1 32h1v1h-1zM3 32h1v1h-1zM9 32h1v1h-1zM14 32h1v1h-1zM1 33h1v1h-1zM5 33h1v1h-1zM7 33h1v1h-1zM1 34h1v1h-1zM3 34h1v1h-1zM14 34h1v1h-1zM7 35h1v1h-1zM12 35h1v1h-1zM9 36h3v1h-3zM14 36h1v1h-1zM12 37h3v1h-3zM5 38h1v1h-1zM9 38h1v1h-1zM12 38h3v1h-3zM11 39h2v1h-2zM14 39h1v1h-1zM1 40h1v1h-1zM14 40h1v1h-1zM1 41h1v1h-1zM4 41h1v1h-1zM6 41h5v1h-5zM3 42h2v1h-2zM7 42h1v1h-1zM11 42h1v1h-1zM14 42h1v1h-1zM1 43h1v1h-1zM3 43h3v1h-3zM8 43h1v1h-1zM13 43h1v1h-1zM5 44h1v1h-1zM8 44h1v1h-1zM11 44h2v1h-2zM9 45h3v1h-3zM14 45h1v1h-1zM5 46h3v1h-3zM9 46h1v1h-1zM14 46h1v1h-1zM7 47h1v1h-1zM9 47h1v1h-1zM14 47h1v1h-1zM6 48h1v1h-1zM11 48h1v1h-1zM3 49h1v1h-1zM7 49h1v1h-1zM9 49h1v1h-1zM13 49h2v1h-2zM3 50h2v1h-2zM7 50h1v1h-1zM5 51h2v1h-2zM9 51h2v1h-2zM3 53h1v1h-1zM9 53h1v1h-1zM3 54h1v1h-1zM11 54h1v1h-1zM3 55h1v1h-1zM11 55h1v1h-1zM7 56h1v1h-1z"/>
<path fill="#dc6a55" d="M5 2h3v1h-3zM10 2h1v1h-1zM5 3h1v1h-1zM7 3h1v1h-1zM5 4h1v1h-1zM7 4h1v1h-1zM10 4h1v1h-1zM10 5h1v1h-1zM3 21h1v1h-1zM9 30h1v1h-1zM3 31h1v1h-1zM9 35h1v1h-1zM3 37h1v1h-1zM5 39h1v1h-1z"/>
<path fill="#2f70b4" d="M2 5h1v1h-1zM6 6h1v1h-1zM6 7h1v1h-1zM6 12h1v1h-1zM13 13h2v1h-2zM6 27h1v1h-1zM0 31h1v1h-1zM10 37h1v1h-1zM6 44h1v1h-1zM6 53h1v1h-1zM14 53h1v1h-1zM14 54h1v1h-1z"/>
<path fill="#c93a3c" d="M5 5h1v1h-1z"/>
<path fill="#d6e8f3" d="M6 5h1v1h-1zM2 6h1v1h-1zM9 6h3v1h-3zM0 37h1v1h-1zM0 41h1v1h-1z"/>
<path fill="#1b478b" d="M10 44h1v1h-1z"/>
</g></g>
<line x1="81.7" y1="539.90" x2="126.50" y2="539.90" stroke="#3a3a3a" stroke-width="1"/>
<line x1="126.50" y1="539.90" x2="178.90" y2="539.90" stroke="#2a2a2a" stroke-width="1.1"/>
<line x1="187.70" y1="539.90" x2="304.50" y2="539.90" stroke="#2a2a2a" stroke-width="1.1"/>
<line x1="314.40" y1="539.90" x2="401.80" y2="539.90" stroke="#2a2a2a" stroke-width="1.1"/>
<line x1="81.7" y1="588.38" x2="126.50" y2="588.38" stroke="#3a3a3a" stroke-width="1"/>
<line x1="126.50" y1="588.38" x2="178.90" y2="588.38" stroke="#2a2a2a" stroke-width="1.1"/>
<line x1="187.70" y1="588.38" x2="304.50" y2="588.38" stroke="#2a2a2a" stroke-width="1.1"/>
<line x1="314.40" y1="588.38" x2="401.80" y2="588.38" stroke="#2a2a2a" stroke-width="1.1"/>
<line x1="81.7" y1="596.46" x2="126.50" y2="596.46" stroke="#3a3a3a" stroke-width="1"/>
<line x1="126.50" y1="596.46" x2="178.90" y2="596.46" stroke="#2a2a2a" stroke-width="1.1"/>
<line x1="187.70" y1="596.46" x2="304.50" y2="596.46" stroke="#2a2a2a" stroke-width="1.1"/>
<line x1="314.40" y1="596.46" x2="401.80" y2="596.46" stroke="#2a2a2a" stroke-width="1.1"/>
<line x1="81.7" y1="604.54" x2="126.50" y2="604.54" stroke="#3a3a3a" stroke-width="1"/>
<line x1="126.50" y1="604.54" x2="178.90" y2="604.54" stroke="#2a2a2a" stroke-width="1.1"/>
<line x1="187.70" y1="604.54" x2="304.50" y2="604.54" stroke="#2a2a2a" stroke-width="1.1"/>
<line x1="314.40" y1="604.54" x2="401.80" y2="604.54" stroke="#2a2a2a" stroke-width="1.1"/>
<line x1="81.7" y1="612.62" x2="126.50" y2="612.62" stroke="#3a3a3a" stroke-width="1"/>
<line x1="126.50" y1="612.62" x2="178.90" y2="612.62" stroke="#2a2a2a" stroke-width="1.1"/>
<line x1="187.70" y1="612.62" x2="304.50" y2="612.62" stroke="#2a2a2a" stroke-width="1.1"/>
<line x1="314.40" y1="612.62" x2="401.80" y2="612.62" stroke="#2a2a2a" stroke-width="1.1"/>
<line x1="81.7" y1="628.78" x2="126.50" y2="628.78" stroke="#3a3a3a" stroke-width="1"/>
<line x1="126.50" y1="628.78" x2="178.90" y2="628.78" stroke="#2a2a2a" stroke-width="1.1"/>
<line x1="187.70" y1="628.78" x2="304.50" y2="628.78" stroke="#2a2a2a" stroke-width="1.1"/>
<line x1="314.40" y1="628.78" x2="401.80" y2="628.78" stroke="#2a2a2a" stroke-width="1.1"/>
<line x1="81.7" y1="725.74" x2="126.50" y2="725.74" stroke="#3a3a3a" stroke-width="1"/>
<line x1="126.50" y1="725.74" x2="178.90" y2="725.74" stroke="#2a2a2a" stroke-width="1.1"/>
<line x1="187.70" y1="725.74" x2="304.50" y2="725.74" stroke="#2a2a2a" stroke-width="1.1"/>
<line x1="314.40" y1="725.74" x2="401.80" y2="725.74" stroke="#2a2a2a" stroke-width="1.1"/>
<line x1="81.7" y1="790.38" x2="126.50" y2="790.38" stroke="#3a3a3a" stroke-width="1"/>
<line x1="126.50" y1="790.38" x2="178.90" y2="790.38" stroke="#2a2a2a" stroke-width="1.1"/>
<line x1="187.70" y1="790.38" x2="304.50" y2="790.38" stroke="#2a2a2a" stroke-width="1.1"/>
<line x1="314.40" y1="790.38" x2="401.80" y2="790.38" stroke="#2a2a2a" stroke-width="1.1"/>
<line x1="81.7" y1="830.78" x2="126.50" y2="830.78" stroke="#3a3a3a" stroke-width="1"/>
<line x1="126.50" y1="830.78" x2="178.90" y2="830.78" stroke="#2a2a2a" stroke-width="1.1"/>
<line x1="187.70" y1="830.78" x2="304.50" y2="830.78" stroke="#2a2a2a" stroke-width="1.1"/>
<line x1="314.40" y1="830.78" x2="401.80" y2="830.78" stroke="#2a2a2a" stroke-width="1.1"/>
<line x1="81.7" y1="903.50" x2="126.50" y2="903.50" stroke="#3a3a3a" stroke-width="1"/>
<line x1="126.50" y1="903.50" x2="178.90" y2="903.50" stroke="#2a2a2a" stroke-width="1.1"/>
<line x1="187.70" y1="903.50" x2="304.50" y2="903.50" stroke="#2a2a2a" stroke-width="1.1"/>
<line x1="314.40" y1="903.50" x2="401.80" y2="903.50" stroke="#2a2a2a" stroke-width="1.1"/>
<line x1="81.7" y1="943.90" x2="126.50" y2="943.90" stroke="#3a3a3a" stroke-width="1"/>
<line x1="126.50" y1="943.90" x2="178.90" y2="943.90" stroke="#2a2a2a" stroke-width="1.1"/>
<line x1="187.70" y1="943.90" x2="304.50" y2="943.90" stroke="#2a2a2a" stroke-width="1.1"/>
<line x1="314.40" y1="943.90" x2="401.80" y2="943.90" stroke="#2a2a2a" stroke-width="1.1"/>
<line x1="81.7" y1="1000.46" x2="126.50" y2="1000.46" stroke="#3a3a3a" stroke-width="1"/>
<rect x="126.50" y="539.90" width="52.40" height="460.56" fill="none" stroke="#3c3c3c" stroke-width="1.1"/>
<rect x="187.70" y="539.90" width="116.80" height="460.56" fill="none" stroke="#3c3c3c" stroke-width="1.1"/>
<rect x="314.40" y="539.90" width="87.40" height="460.56" fill="none" stroke="#3c3c3c" stroke-width="1.1"/>
<rect x="64.1" y="539.90" width="3.5" height="48.48" fill="#3a5eae" stroke="#777" stroke-width="0.3"/>
<rect x="64.1" y="588.38" width="3.5" height="8.08" fill="#2f95c8" stroke="#777" stroke-width="0.3"/>
<rect x="64.1" y="596.46" width="3.5" height="8.08" fill="#a8173f" stroke="#777" stroke-width="0.3"/>
<rect x="64.1" y="604.54" width="3.5" height="8.08" fill="#38a3b6" stroke="#777" stroke-width="0.3"/>
<rect x="64.1" y="612.62" width="3.5" height="16.16" fill="#5cbf9f" stroke="#777" stroke-width="0.3"/>
<rect x="64.1" y="628.78" width="3.5" height="96.96" fill="#80cc9c" stroke="#777" stroke-width="0.3"/>
<rect x="64.1" y="725.74" width="3.5" height="64.64" fill="#b6db8e" stroke="#777" stroke-width="0.3"/>
<rect x="64.1" y="790.38" width="3.5" height="40.40" fill="#d3e591" stroke="#777" stroke-width="0.3"/>
<rect x="64.1" y="830.78" width="3.5" height="72.72" fill="#eef0a2" stroke="#777" stroke-width="0.3"/>
<rect x="64.1" y="903.50" width="3.5" height="40.40" fill="#f2f2b0" stroke="#777" stroke-width="0.3"/>
<rect x="64.1" y="943.90" width="3.5" height="56.56" fill="#f4f3b4" stroke="#777" stroke-width="0.3"/>
<text x="122.3" y="546.20" font-size="7.5" text-anchor="end" fill="#111">48:0</text>
<text x="122.3" y="554.28" font-size="7.5" text-anchor="end" fill="#111">54:0</text>
<text x="122.3" y="562.36" font-size="7.5" text-anchor="end" fill="#111">56:5</text>
<text x="122.3" y="570.44" font-size="7.5" text-anchor="end" fill="#111">56:7</text>
<text x="122.3" y="578.52" font-size="7.5" text-anchor="end" fill="#111">58:10</text>
<text x="122.3" y="586.60" font-size="7.5" text-anchor="end" fill="#111">58:6</text>
<text x="122.3" y="594.68" font-size="7.5" text-anchor="end" fill="#111">22:6</text>
<text x="122.3" y="602.76" font-size="7.5" text-anchor="end" fill="#111">d18:1/20:0</text>
<text x="122.3" y="610.84" font-size="7.5" text-anchor="end" fill="#111">16:0</text>
<text x="122.3" y="618.92" font-size="7.5" text-anchor="end" fill="#111">16:0/22:6</text>
<text x="122.3" y="627.00" font-size="7.5" text-anchor="end" fill="#111">18:0/22:6</text>
<text x="122.3" y="635.08" font-size="7.5" text-anchor="end" fill="#111">32:0</text>
<text x="122.3" y="643.16" font-size="7.5" text-anchor="end" fill="#111">34:0</text>
<text x="122.3" y="651.24" font-size="7.5" text-anchor="end" fill="#111">34:2</text>
<text x="122.3" y="659.32" font-size="7.5" text-anchor="end" fill="#111">36:3</text>
<text x="122.3" y="667.40" font-size="7.5" text-anchor="end" fill="#111">36:4</text>
<text x="122.3" y="675.48" font-size="7.5" text-anchor="end" fill="#111">36:5</text>
<text x="122.3" y="683.56" font-size="7.5" text-anchor="end" fill="#111">38:4</text>
<text x="122.3" y="691.64" font-size="7.5" text-anchor="end" fill="#111">38:5</text>
<text x="122.3" y="699.72" font-size="7.5" text-anchor="end" fill="#111">38:6</text>
<text x="122.3" y="707.80" font-size="7.5" text-anchor="end" fill="#111">38:7</text>
<text x="122.3" y="715.88" font-size="7.5" text-anchor="end" fill="#111">40:7</text>
<text x="122.3" y="723.96" font-size="7.5" text-anchor="end" fill="#111">42:10</text>
<text x="122.3" y="732.04" font-size="7.5" text-anchor="end" fill="#111">34:1</text>
<text x="122.3" y="740.12" font-size="7.5" text-anchor="end" fill="#111">38:4</text>
<text x="122.3" y="748.20" font-size="7.5" text-anchor="end" fill="#111">38:6</text>
<text x="122.3" y="756.28" font-size="7.5" text-anchor="end" fill="#111">40:4</text>
<text x="122.3" y="764.36" font-size="7.5" text-anchor="end" fill="#111">40:6</text>
<text x="122.3" y="772.44" font-size="7.5" text-anchor="end" fill="#111">40:7</text>
<text x="122.3" y="780.52" font-size="7.5" text-anchor="end" fill="#111">42:10</text>
<text x="122.3" y="788.60" font-size="7.5" text-anchor="end" fill="#111">44:12</text>
<text x="122.3" y="796.68" font-size="7.5" text-anchor="end" fill="#111">36:4</text>
<text x="122.3" y="804.76" font-size="7.5" text-anchor="end" fill="#111">38:5</text>
<text x="122.3" y="812.84" font-size="7.5" text-anchor="end" fill="#111">38:6</text>
<text x="122.3" y="820.92" font-size="7.5" text-anchor="end" fill="#111">40:6</text>
<text x="122.3" y="829.00" font-size="7.5" text-anchor="end" fill="#111">40:7</text>
<text x="122.3" y="837.08" font-size="7.5" text-anchor="end" fill="#111">16:0/18:0</text>
<text x="122.3" y="845.16" font-size="7.5" text-anchor="end" fill="#111">16:0/22:6</text>
<text x="122.3" y="853.24" font-size="7.5" text-anchor="end" fill="#111">18:0/18:0</text>
<text x="122.3" y="861.32" font-size="7.5" text-anchor="end" fill="#111">18:0/18:1</text>
<text x="122.3" y="869.40" font-size="7.5" text-anchor="end" fill="#111">18:0/20:4</text>
<text x="122.3" y="877.48" font-size="7.5" text-anchor="end" fill="#111">18:0/22:5</text>
<text x="122.3" y="885.56" font-size="7.5" text-anchor="end" fill="#111">18:1/20:4</text>
<text x="122.3" y="893.64" font-size="7.5" text-anchor="end" fill="#111">20:4/22:6</text>
<text x="122.3" y="901.72" font-size="7.5" text-anchor="end" fill="#111">22:6/22:6</text>
<text x="122.3" y="909.80" font-size="7.5" text-anchor="end" fill="#111">16:0/18:0</text>
<text x="122.3" y="917.88" font-size="7.5" text-anchor="end" fill="#111">16:0/20:4</text>
<text x="122.3" y="925.96" font-size="7.5" text-anchor="end" fill="#111">18:0/20:4</text>
<text x="122.3" y="934.04" font-size="7.5" text-anchor="end" fill="#111">18:0/22:6</text>
<text x="122.3" y="942.12" font-size="7.5" text-anchor="end" fill="#111">18:1/20:4</text>
<text x="122.3" y="950.20" font-size="7.5" text-anchor="end" fill="#111">16:0/18:0</text>
<text x="122.3" y="958.28" font-size="7.5" text-anchor="end" fill="#111">16:0/18:1</text>
<text x="122.3" y="966.36" font-size="7.5" text-anchor="end" fill="#111">16:0/22:6</text>
<text x="122.3" y="974.44" font-size="7.5" text-anchor="end" fill="#111">18:0/18:0</text>
<text x="122.3" y="982.52" font-size="7.5" text-anchor="end" fill="#111">18:0/22:6</text>
<text x="122.3" y="990.60" font-size="7.5" text-anchor="end" fill="#111">20:4/22:6</text>
<text x="122.3" y="998.68" font-size="7.5" text-anchor="end" fill="#111">22:6/22:6</text>
<text x="58.5" y="568.9" font-size="14.6" text-anchor="end" fill="#1a1a1a">TG</text>
<text x="58.5" y="589.4" font-size="14.6" text-anchor="end" fill="#1a1a1a">CE</text>
<text x="58.5" y="600.5" font-size="14.6" text-anchor="end" fill="#1a1a1a">Cer</text>
<text x="58.5" y="611.7" font-size="14.6" text-anchor="end" fill="#1a1a1a">LPC</text>
<text x="58.5" y="625.3" font-size="14.6" text-anchor="end" fill="#1a1a1a">PA</text>
<text x="58.5" y="685.4" font-size="14.6" text-anchor="end" fill="#1a1a1a">PC</text>
<text x="58.5" y="763.9" font-size="14.6" text-anchor="end" fill="#1a1a1a">PE</text>
<text x="58.5" y="815.0" font-size="14.6" text-anchor="end" fill="#1a1a1a">PEp</text>
<text x="58.5" y="872.7" font-size="14.6" text-anchor="end" fill="#1a1a1a">PG</text>
<text x="58.5" y="932.6" font-size="14.6" text-anchor="end" fill="#1a1a1a">PI</text>
<text x="58.5" y="979.9" font-size="14.6" text-anchor="end" fill="#1a1a1a">PS</text>
<polyline points="57.5,582.5 63.5,592.0" fill="none" stroke="#333" stroke-width="0.6"/>
<polyline points="57.0,596.6 63.5,598.3" fill="none" stroke="#333" stroke-width="0.6"/>
<defs><linearGradient id="zg" x1="0" x2="1" y1="0" y2="0"><stop offset="0" stop-color="#0b3a78"/><stop offset="0.15" stop-color="#2a6cb1"/><stop offset="0.3" stop-color="#6aa9d6"/><stop offset="0.42" stop-color="#c7e0f0"/><stop offset="0.5" stop-color="#f3eeec"/><stop offset="0.58" stop-color="#fbd3be"/><stop offset="0.7" stop-color="#f09878"/><stop offset="0.85" stop-color="#cf4b43"/><stop offset="1" stop-color="#7a0c22"/></linearGradient></defs>
<rect x="198.8" y="1028.0" width="94.8" height="6.8" fill="url(#zg)"/>
<text x="247.0" y="1022.2" font-size="14.0" text-anchor="middle" textLength="42" lengthAdjust="spacingAndGlyphs" fill="#1a1a1a">Z-score</text>
<text x="205.0" y="1046.8" font-size="11.5" text-anchor="middle" fill="#1a1a1a">-4</text>
<text x="225.4" y="1046.8" font-size="11.5" text-anchor="middle" fill="#1a1a1a">-2</text>
<text x="245.7" y="1046.8" font-size="11.5" text-anchor="middle" fill="#1a1a1a">0</text>
<text x="266.2" y="1046.8" font-size="11.5" text-anchor="middle" fill="#1a1a1a">2</text>
<text x="286.3" y="1046.8" font-size="11.5" text-anchor="middle" fill="#1a1a1a">4</text>
<text x="501.5" y="55.5" font-size="12.2" text-anchor="middle" fill="#1a1a1a">Hex2Cer</text>
<text x="501.5" y="71.4" font-size="12.2" text-anchor="middle" textLength="66.4" lengthAdjust="spacingAndGlyphs" fill="#1a1a1a">(d18:1/23:1)</text>
<line x1="461.00" y1="89.00" x2="463.80" y2="89.00" stroke="#444" stroke-width="0.8"/>
<text x="460.20" y="93.30" font-size="12.2" text-anchor="end" fill="#1a1a1a">0.04</text>
<line x1="461.00" y1="121.90" x2="463.80" y2="121.90" stroke="#444" stroke-width="0.8"/>
<text x="460.20" y="126.20" font-size="12.2" text-anchor="end" fill="#1a1a1a">0.03</text>
<line x1="461.00" y1="154.70" x2="463.80" y2="154.70" stroke="#444" stroke-width="0.8"/>
<text x="460.20" y="159.00" font-size="12.2" text-anchor="end" fill="#1a1a1a">0.02</text>
<line x1="461.00" y1="187.60" x2="463.80" y2="187.60" stroke="#444" stroke-width="0.8"/>
<text x="460.20" y="191.90" font-size="12.2" text-anchor="end" fill="#1a1a1a">0.01</text>
<line x1="461.00" y1="221.50" x2="463.80" y2="221.50" stroke="#444" stroke-width="0.8"/>
<text x="460.20" y="225.80" font-size="12.2" text-anchor="end" fill="#1a1a1a">0.00</text>
<line x1="484.80" y1="80.40" x2="484.80" y2="179.40" stroke="#333" stroke-width="0.7"/>
<rect x="476.60" y="96.20" width="16.40" height="66.30" fill="#f3f8fc" stroke="#555" stroke-width="0.8"/>
<line x1="476.60" y1="139.00" x2="493.00" y2="139.00" stroke="#333" stroke-width="0.9"/>
<circle cx="484.80" cy="80.40" r="1.25" fill="#111"/>
<circle cx="484.80" cy="179.40" r="1.25" fill="#111"/>
<circle cx="484.80" cy="111.98" r="1.25" fill="#111"/>
<circle cx="484.80" cy="132.28" r="1.25" fill="#111"/>
<circle cx="484.80" cy="120.73" r="1.25" fill="#111"/>
<circle cx="484.80" cy="140.19" r="1.25" fill="#111"/>
<circle cx="484.80" cy="142.35" r="1.25" fill="#111"/>
<circle cx="484.80" cy="86.89" r="1.25" fill="#111"/>
<circle cx="484.80" cy="81.70" r="1.25" fill="#111"/>
<line x1="500.75" y1="125.70" x2="500.75" y2="209.50" stroke="#333" stroke-width="0.7"/>
<rect x="492.40" y="172.00" width="16.70" height="18.50" fill="#c6dbef" stroke="#555" stroke-width="0.8"/>
<line x1="492.40" y1="177.50" x2="509.10" y2="177.50" stroke="#333" stroke-width="0.9"/>
<circle cx="500.75" cy="125.70" r="1.25" fill="#111"/>
<circle cx="500.75" cy="209.50" r="1.25" fill="#111"/>
<circle cx="500.75" cy="187.49" r="1.25" fill="#111"/>
<circle cx="500.75" cy="176.80" r="1.25" fill="#111"/>
<circle cx="500.75" cy="176.34" r="1.25" fill="#111"/>
<circle cx="500.75" cy="190.42" r="1.25" fill="#111"/>
<circle cx="500.75" cy="180.70" r="1.25" fill="#111"/>
<circle cx="500.75" cy="187.47" r="1.25" fill="#111"/>
<circle cx="500.75" cy="180.81" r="1.25" fill="#111"/>
<circle cx="500.75" cy="183.82" r="1.25" fill="#111"/>
<circle cx="500.75" cy="174.79" r="1.25" fill="#111"/>
<circle cx="500.75" cy="183.74" r="1.25" fill="#111"/>
<circle cx="500.75" cy="188.06" r="1.25" fill="#111"/>
<circle cx="500.75" cy="181.68" r="1.25" fill="#111"/>
<circle cx="500.75" cy="185.71" r="1.25" fill="#111"/>
<circle cx="500.75" cy="184.42" r="1.25" fill="#111"/>
<circle cx="500.75" cy="131.07" r="1.25" fill="#111"/>
<circle cx="500.75" cy="189.24" r="1.25" fill="#111"/>
<circle cx="500.75" cy="175.23" r="1.25" fill="#111"/>
<circle cx="500.75" cy="150.95" r="1.25" fill="#111"/>
<line x1="517.40" y1="142.90" x2="517.40" y2="191.40" stroke="#333" stroke-width="0.7"/>
<rect x="509.10" y="156.20" width="16.60" height="25.70" fill="#4a90cc" stroke="#3a3a3a" stroke-width="0.8"/>
<line x1="509.10" y1="164.40" x2="525.70" y2="164.40" stroke="#333" stroke-width="0.9"/>
<circle cx="517.40" cy="142.90" r="1.25" fill="#111"/>
<circle cx="517.40" cy="191.40" r="1.25" fill="#111"/>
<circle cx="517.40" cy="157.00" r="1.25" fill="#111"/>
<circle cx="517.40" cy="178.44" r="1.25" fill="#111"/>
<circle cx="517.40" cy="168.35" r="1.25" fill="#111"/>
<circle cx="517.40" cy="174.67" r="1.25" fill="#111"/>
<circle cx="517.40" cy="178.79" r="1.25" fill="#111"/>
<circle cx="517.40" cy="174.55" r="1.25" fill="#111"/>
<circle cx="517.40" cy="179.87" r="1.25" fill="#111"/>
<circle cx="517.40" cy="166.35" r="1.25" fill="#111"/>
<circle cx="517.40" cy="176.78" r="1.25" fill="#111"/>
<circle cx="517.40" cy="164.46" r="1.25" fill="#111"/>
<circle cx="517.40" cy="188.28" r="1.25" fill="#111"/>
<circle cx="517.40" cy="185.53" r="1.25" fill="#111"/>
<circle cx="517.40" cy="147.63" r="1.25" fill="#111"/>
<line x1="483.80" y1="79.60" x2="503.20" y2="79.60" stroke="#555" stroke-width="0.8"/>
<text x="491.40" y="83.50" font-size="11" text-anchor="middle" fill="#333">***</text>
<line x1="483.80" y1="83.80" x2="519.00" y2="83.80" stroke="#555" stroke-width="0.8"/>
<text x="511.20" y="86.40" font-size="11" text-anchor="middle" fill="#333">**</text>
<rect x="463.80" y="74.30" width="73.30" height="153.30" fill="none" stroke="#555" stroke-width="1"/>
<text x="465.30" y="239.6" font-size="11.6" fill="#1a1a1a">F = 14.5</text>
<text x="465.30" y="255.2" font-size="11.6" fill="#1a1a1a">P = 2.0 x 10<tspan font-size="7" dy="-5">-5</tspan></text>
<text x="602.3" y="54.6" font-size="12.2" text-anchor="middle" fill="#1a1a1a">Hex2Cer</text>
<text x="602.3" y="70.8" font-size="12.2" text-anchor="middle" textLength="66.4" lengthAdjust="spacingAndGlyphs" fill="#1a1a1a">(d18:1/24:1)</text>
<line x1="562.30" y1="117.60" x2="565.10" y2="117.60" stroke="#444" stroke-width="0.8"/>
<text x="561.50" y="121.90" font-size="12.2" text-anchor="end" fill="#1a1a1a">2</text>
<line x1="562.30" y1="168.70" x2="565.10" y2="168.70" stroke="#444" stroke-width="0.8"/>
<text x="561.50" y="173.00" font-size="12.2" text-anchor="end" fill="#1a1a1a">1</text>
<line x1="562.30" y1="221.30" x2="565.10" y2="221.30" stroke="#444" stroke-width="0.8"/>
<text x="561.50" y="225.60" font-size="12.2" text-anchor="end" fill="#1a1a1a">0</text>
<line x1="586.00" y1="88.70" x2="586.00" y2="187.30" stroke="#333" stroke-width="0.7"/>
<rect x="577.80" y="138.50" width="16.40" height="42.70" fill="#f3f8fc" stroke="#555" stroke-width="0.8"/>
<line x1="577.80" y1="155.50" x2="594.20" y2="155.50" stroke="#333" stroke-width="0.9"/>
<circle cx="586.00" cy="88.70" r="1.25" fill="#111"/>
<circle cx="586.00" cy="187.30" r="1.25" fill="#111"/>
<circle cx="586.00" cy="144.31" r="1.25" fill="#111"/>
<circle cx="586.00" cy="147.77" r="1.25" fill="#111"/>
<circle cx="586.00" cy="179.73" r="1.25" fill="#111"/>
<circle cx="586.00" cy="131.71" r="1.25" fill="#111"/>
<circle cx="586.00" cy="150.49" r="1.25" fill="#111"/>
<circle cx="586.00" cy="118.38" r="1.25" fill="#111"/>
<circle cx="586.00" cy="138.71" r="1.25" fill="#111"/>
<line x1="602.40" y1="165.80" x2="602.40" y2="210.80" stroke="#333" stroke-width="0.7"/>
<rect x="594.20" y="178.60" width="16.40" height="16.20" fill="#c6dbef" stroke="#555" stroke-width="0.8"/>
<line x1="594.20" y1="185.60" x2="610.60" y2="185.60" stroke="#333" stroke-width="0.9"/>
<circle cx="602.40" cy="165.80" r="1.25" fill="#111"/>
<circle cx="602.40" cy="210.80" r="1.25" fill="#111"/>
<circle cx="602.40" cy="184.85" r="1.25" fill="#111"/>
<circle cx="602.40" cy="184.28" r="1.25" fill="#111"/>
<circle cx="602.40" cy="188.08" r="1.25" fill="#111"/>
<circle cx="602.40" cy="188.06" r="1.25" fill="#111"/>
<circle cx="602.40" cy="193.25" r="1.25" fill="#111"/>
<circle cx="602.40" cy="189.65" r="1.25" fill="#111"/>
<circle cx="602.40" cy="193.65" r="1.25" fill="#111"/>
<circle cx="602.40" cy="192.47" r="1.25" fill="#111"/>
<circle cx="602.40" cy="194.65" r="1.25" fill="#111"/>
<circle cx="602.40" cy="189.47" r="1.25" fill="#111"/>
<circle cx="602.40" cy="181.24" r="1.25" fill="#111"/>
<circle cx="602.40" cy="192.54" r="1.25" fill="#111"/>
<circle cx="602.40" cy="194.23" r="1.25" fill="#111"/>
<circle cx="602.40" cy="193.26" r="1.25" fill="#111"/>
<circle cx="602.40" cy="191.41" r="1.25" fill="#111"/>
<circle cx="602.40" cy="197.92" r="1.25" fill="#111"/>
<circle cx="602.40" cy="175.30" r="1.25" fill="#111"/>
<circle cx="602.40" cy="203.22" r="1.25" fill="#111"/>
<line x1="618.85" y1="154.50" x2="618.85" y2="195.40" stroke="#333" stroke-width="0.7"/>
<rect x="610.60" y="162.60" width="16.50" height="26.30" fill="#4a90cc" stroke="#3a3a3a" stroke-width="0.8"/>
<line x1="610.60" y1="169.10" x2="627.10" y2="169.10" stroke="#333" stroke-width="0.9"/>
<circle cx="618.85" cy="154.50" r="1.25" fill="#111"/>
<circle cx="618.85" cy="195.40" r="1.25" fill="#111"/>
<circle cx="618.85" cy="177.68" r="1.25" fill="#111"/>
<circle cx="618.85" cy="170.09" r="1.25" fill="#111"/>
<circle cx="618.85" cy="164.27" r="1.25" fill="#111"/>
<circle cx="618.85" cy="185.06" r="1.25" fill="#111"/>
<circle cx="618.85" cy="188.63" r="1.25" fill="#111"/>
<circle cx="618.85" cy="164.93" r="1.25" fill="#111"/>
<circle cx="618.85" cy="183.66" r="1.25" fill="#111"/>
<circle cx="618.85" cy="173.40" r="1.25" fill="#111"/>
<circle cx="618.85" cy="166.57" r="1.25" fill="#111"/>
<circle cx="618.85" cy="166.52" r="1.25" fill="#111"/>
<circle cx="618.85" cy="185.94" r="1.25" fill="#111"/>
<circle cx="618.85" cy="190.20" r="1.25" fill="#111"/>
<circle cx="618.85" cy="156.31" r="1.25" fill="#111"/>
<line x1="585.90" y1="80.40" x2="605.60" y2="80.40" stroke="#555" stroke-width="0.8"/>
<text x="593.80" y="82.80" font-size="11" text-anchor="middle" fill="#333">***</text>
<line x1="585.90" y1="83.20" x2="619.80" y2="83.20" stroke="#555" stroke-width="0.8"/>
<text x="613.60" y="86.40" font-size="11" text-anchor="middle" fill="#333">*</text>
<line x1="602.30" y1="89.20" x2="619.80" y2="89.20" stroke="#555" stroke-width="0.8"/>
<text x="610.70" y="92.30" font-size="11" text-anchor="middle" fill="#333">*</text>
<rect x="565.10" y="74.50" width="74.00" height="153.80" fill="none" stroke="#555" stroke-width="1"/>
<text x="566.60" y="239.2" font-size="11.6" fill="#1a1a1a">F = 12.9</text>
<text x="566.60" y="255.7" font-size="11.6" fill="#1a1a1a">P = 5.4 x 10<tspan font-size="7" dy="-5">-5</tspan></text>
<text x="707.0" y="54.6" font-size="12.2" text-anchor="middle" fill="#1a1a1a">ST</text>
<text x="707.0" y="70.8" font-size="12.2" text-anchor="middle" textLength="66.4" lengthAdjust="spacingAndGlyphs" fill="#1a1a1a">(d18:1/23:1)</text>
<line x1="667.30" y1="77.10" x2="670.10" y2="77.10" stroke="#444" stroke-width="0.8"/>
<text x="666.50" y="81.40" font-size="12.2" text-anchor="end" fill="#1a1a1a">0.15</text>
<line x1="667.30" y1="124.20" x2="670.10" y2="124.20" stroke="#444" stroke-width="0.8"/>
<text x="666.50" y="128.50" font-size="12.2" text-anchor="end" fill="#1a1a1a">0.10</text>
<line x1="667.30" y1="172.40" x2="670.10" y2="172.40" stroke="#444" stroke-width="0.8"/>
<text x="666.50" y="176.70" font-size="12.2" text-anchor="end" fill="#1a1a1a">0.05</text>
<line x1="667.30" y1="220.60" x2="670.10" y2="220.60" stroke="#444" stroke-width="0.8"/>
<text x="666.50" y="224.90" font-size="12.2" text-anchor="end" fill="#1a1a1a">0.00</text>
<line x1="691.20" y1="89.60" x2="691.20" y2="156.60" stroke="#333" stroke-width="0.7"/>
<rect x="682.80" y="115.50" width="16.80" height="21.90" fill="#f3f8fc" stroke="#555" stroke-width="0.8"/>
<line x1="682.80" y1="129.30" x2="699.60" y2="129.30" stroke="#333" stroke-width="0.9"/>
<circle cx="691.20" cy="89.60" r="1.25" fill="#111"/>
<circle cx="691.20" cy="156.60" r="1.25" fill="#111"/>
<circle cx="691.20" cy="128.96" r="1.25" fill="#111"/>
<circle cx="691.20" cy="116.48" r="1.25" fill="#111"/>
<circle cx="691.20" cy="131.23" r="1.25" fill="#111"/>
<circle cx="691.20" cy="111.77" r="1.25" fill="#111"/>
<circle cx="691.20" cy="148.62" r="1.25" fill="#111"/>
<circle cx="691.20" cy="155.30" r="1.25" fill="#111"/>
<circle cx="691.20" cy="123.46" r="1.25" fill="#111"/>
<line x1="707.85" y1="110.00" x2="707.85" y2="200.90" stroke="#333" stroke-width="0.7"/>
<rect x="699.60" y="154.50" width="16.50" height="26.00" fill="#c6dbef" stroke="#555" stroke-width="0.8"/>
<line x1="699.60" y1="168.50" x2="716.10" y2="168.50" stroke="#333" stroke-width="0.9"/>
<circle cx="707.85" cy="110.00" r="1.25" fill="#111"/>
<circle cx="707.85" cy="200.90" r="1.25" fill="#111"/>
<circle cx="707.85" cy="180.46" r="1.25" fill="#111"/>
<circle cx="707.85" cy="162.55" r="1.25" fill="#111"/>
<circle cx="707.85" cy="156.50" r="1.25" fill="#111"/>
<circle cx="707.85" cy="170.09" r="1.25" fill="#111"/>
<circle cx="707.85" cy="155.32" r="1.25" fill="#111"/>
<circle cx="707.85" cy="159.63" r="1.25" fill="#111"/>
<circle cx="707.85" cy="165.11" r="1.25" fill="#111"/>
<circle cx="707.85" cy="170.37" r="1.25" fill="#111"/>
<circle cx="707.85" cy="158.56" r="1.25" fill="#111"/>
<circle cx="707.85" cy="155.60" r="1.25" fill="#111"/>
<circle cx="707.85" cy="177.06" r="1.25" fill="#111"/>
<circle cx="707.85" cy="162.66" r="1.25" fill="#111"/>
<circle cx="707.85" cy="179.43" r="1.25" fill="#111"/>
<circle cx="707.85" cy="177.81" r="1.25" fill="#111"/>
<circle cx="707.85" cy="144.34" r="1.25" fill="#111"/>
<circle cx="707.85" cy="151.85" r="1.25" fill="#111"/>
<circle cx="707.85" cy="157.27" r="1.25" fill="#111"/>
<circle cx="707.85" cy="168.53" r="1.25" fill="#111"/>
<line x1="724.30" y1="117.20" x2="724.30" y2="188.20" stroke="#333" stroke-width="0.7"/>
<rect x="716.10" y="137.80" width="16.40" height="26.50" fill="#4a90cc" stroke="#3a3a3a" stroke-width="0.8"/>
<line x1="716.10" y1="150.50" x2="732.50" y2="150.50" stroke="#333" stroke-width="0.9"/>
<circle cx="724.30" cy="117.20" r="1.25" fill="#111"/>
<circle cx="724.30" cy="188.20" r="1.25" fill="#111"/>
<circle cx="724.30" cy="153.58" r="1.25" fill="#111"/>
<circle cx="724.30" cy="152.62" r="1.25" fill="#111"/>
<circle cx="724.30" cy="154.23" r="1.25" fill="#111"/>
<circle cx="724.30" cy="162.73" r="1.25" fill="#111"/>
<circle cx="724.30" cy="151.24" r="1.25" fill="#111"/>
<circle cx="724.30" cy="149.23" r="1.25" fill="#111"/>
<circle cx="724.30" cy="156.89" r="1.25" fill="#111"/>
<circle cx="724.30" cy="144.10" r="1.25" fill="#111"/>
<circle cx="724.30" cy="145.78" r="1.25" fill="#111"/>
<circle cx="724.30" cy="186.62" r="1.25" fill="#111"/>
<circle cx="724.30" cy="154.20" r="1.25" fill="#111"/>
<circle cx="724.30" cy="156.14" r="1.25" fill="#111"/>
<circle cx="724.30" cy="118.01" r="1.25" fill="#111"/>
<line x1="690.90" y1="80.80" x2="710.60" y2="80.80" stroke="#555" stroke-width="0.8"/>
<text x="699.20" y="83.40" font-size="11" text-anchor="middle" fill="#333">***</text>
<line x1="690.90" y1="83.70" x2="724.80" y2="83.70" stroke="#555" stroke-width="0.8"/>
<text x="718.80" y="86.40" font-size="11" text-anchor="middle" fill="#333">*</text>
<line x1="706.90" y1="89.60" x2="724.80" y2="89.60" stroke="#555" stroke-width="0.8"/>
<text x="716.40" y="92.90" font-size="11" text-anchor="middle" fill="#333">*</text>
<rect x="670.10" y="74.50" width="73.80" height="152.70" fill="none" stroke="#555" stroke-width="1"/>
<text x="671.60" y="239.2" font-size="11.6" fill="#1a1a1a">F = 12.6</text>
<text x="671.60" y="255.7" font-size="11.6" fill="#1a1a1a">P = 6.2 x 10<tspan font-size="7" dy="-5">-5</tspan></text>
<text x="501.3" y="287.4" font-size="12.2" text-anchor="middle" fill="#1a1a1a">ST</text>
<text x="501.3" y="303.8" font-size="12.2" text-anchor="middle" textLength="66.4" lengthAdjust="spacingAndGlyphs" fill="#1a1a1a">(d18:1/24:1)</text>
<line x1="461.40" y1="318.10" x2="464.20" y2="318.10" stroke="#444" stroke-width="0.8"/>
<text x="460.60" y="322.40" font-size="12.2" text-anchor="end" fill="#1a1a1a">0.4</text>
<line x1="461.40" y1="352.50" x2="464.20" y2="352.50" stroke="#444" stroke-width="0.8"/>
<text x="460.60" y="356.80" font-size="12.2" text-anchor="end" fill="#1a1a1a">0.3</text>
<line x1="461.40" y1="386.70" x2="464.20" y2="386.70" stroke="#444" stroke-width="0.8"/>
<text x="460.60" y="391.00" font-size="12.2" text-anchor="end" fill="#1a1a1a">0.2</text>
<line x1="461.40" y1="420.70" x2="464.20" y2="420.70" stroke="#444" stroke-width="0.8"/>
<text x="460.60" y="425.00" font-size="12.2" text-anchor="end" fill="#1a1a1a">0.1</text>
<line x1="461.40" y1="454.60" x2="464.20" y2="454.60" stroke="#444" stroke-width="0.8"/>
<text x="460.60" y="458.90" font-size="12.2" text-anchor="end" fill="#1a1a1a">0.0</text>
<line x1="485.05" y1="317.40" x2="485.05" y2="414.50" stroke="#333" stroke-width="0.7"/>
<rect x="476.30" y="356.90" width="17.50" height="45.60" fill="#f3f8fc" stroke="#555" stroke-width="0.8"/>
<line x1="476.30" y1="373.50" x2="493.80" y2="373.50" stroke="#333" stroke-width="0.9"/>
<circle cx="485.05" cy="317.40" r="1.25" fill="#111"/>
<circle cx="485.05" cy="414.50" r="1.25" fill="#111"/>
<circle cx="485.05" cy="375.83" r="1.25" fill="#111"/>
<circle cx="485.05" cy="383.35" r="1.25" fill="#111"/>
<circle cx="485.05" cy="357.81" r="1.25" fill="#111"/>
<circle cx="485.05" cy="377.19" r="1.25" fill="#111"/>
<circle cx="485.05" cy="378.78" r="1.25" fill="#111"/>
<circle cx="485.05" cy="323.23" r="1.25" fill="#111"/>
<circle cx="485.05" cy="378.31" r="1.25" fill="#111"/>
<line x1="501.70" y1="383.20" x2="501.70" y2="441.50" stroke="#333" stroke-width="0.7"/>
<rect x="493.80" y="400.70" width="15.80" height="18.90" fill="#c6dbef" stroke="#555" stroke-width="0.8"/>
<line x1="493.80" y1="406.40" x2="509.60" y2="406.40" stroke="#333" stroke-width="0.9"/>
<circle cx="501.70" cy="383.20" r="1.25" fill="#111"/>
<circle cx="501.70" cy="441.50" r="1.25" fill="#111"/>
<circle cx="501.70" cy="409.51" r="1.25" fill="#111"/>
<circle cx="501.70" cy="413.54" r="1.25" fill="#111"/>
<circle cx="501.70" cy="407.36" r="1.25" fill="#111"/>
<circle cx="501.70" cy="414.06" r="1.25" fill="#111"/>
<circle cx="501.70" cy="414.65" r="1.25" fill="#111"/>
<circle cx="501.70" cy="401.12" r="1.25" fill="#111"/>
<circle cx="501.70" cy="401.84" r="1.25" fill="#111"/>
<circle cx="501.70" cy="413.48" r="1.25" fill="#111"/>
<circle cx="501.70" cy="418.91" r="1.25" fill="#111"/>
<circle cx="501.70" cy="405.45" r="1.25" fill="#111"/>
<circle cx="501.70" cy="409.32" r="1.25" fill="#111"/>
<circle cx="501.70" cy="411.90" r="1.25" fill="#111"/>
<circle cx="501.70" cy="406.75" r="1.25" fill="#111"/>
<circle cx="501.70" cy="407.58" r="1.25" fill="#111"/>
<circle cx="501.70" cy="401.43" r="1.25" fill="#111"/>
<circle cx="501.70" cy="404.72" r="1.25" fill="#111"/>
<circle cx="501.70" cy="417.92" r="1.25" fill="#111"/>
<circle cx="501.70" cy="400.71" r="1.25" fill="#111"/>
<line x1="518.05" y1="362.40" x2="518.05" y2="418.20" stroke="#333" stroke-width="0.7"/>
<rect x="509.60" y="384.30" width="16.90" height="30.70" fill="#4a90cc" stroke="#3a3a3a" stroke-width="0.8"/>
<line x1="509.60" y1="389.30" x2="526.50" y2="389.30" stroke="#333" stroke-width="0.9"/>
<circle cx="518.05" cy="362.40" r="1.25" fill="#111"/>
<circle cx="518.05" cy="418.20" r="1.25" fill="#111"/>
<circle cx="518.05" cy="395.88" r="1.25" fill="#111"/>
<circle cx="518.05" cy="408.01" r="1.25" fill="#111"/>
<circle cx="518.05" cy="385.13" r="1.25" fill="#111"/>
<circle cx="518.05" cy="401.78" r="1.25" fill="#111"/>
<circle cx="518.05" cy="406.87" r="1.25" fill="#111"/>
<circle cx="518.05" cy="393.82" r="1.25" fill="#111"/>
<circle cx="518.05" cy="391.13" r="1.25" fill="#111"/>
<circle cx="518.05" cy="408.98" r="1.25" fill="#111"/>
<circle cx="518.05" cy="391.63" r="1.25" fill="#111"/>
<circle cx="518.05" cy="372.86" r="1.25" fill="#111"/>
<circle cx="518.05" cy="386.69" r="1.25" fill="#111"/>
<circle cx="518.05" cy="401.35" r="1.25" fill="#111"/>
<circle cx="518.05" cy="368.08" r="1.25" fill="#111"/>
<line x1="485.50" y1="313.30" x2="503.00" y2="313.30" stroke="#555" stroke-width="0.8"/>
<text x="492.30" y="316.40" font-size="11" text-anchor="middle" fill="#333">***</text>
<line x1="485.50" y1="317.00" x2="519.50" y2="317.00" stroke="#555" stroke-width="0.8"/>
<text x="510.70" y="320.10" font-size="11" text-anchor="middle" fill="#333">**</text>
<rect x="464.20" y="307.60" width="74.30" height="153.40" fill="none" stroke="#555" stroke-width="1"/>
<text x="465.70" y="473.7" font-size="11.6" fill="#1a1a1a">F = 12.4</text>
<text x="465.70" y="488.6" font-size="11.6" fill="#1a1a1a">P = 7.1 x 10<tspan font-size="7" dy="-5">-5</tspan></text>
<text x="603.6" y="287.4" font-size="12.2" text-anchor="middle" fill="#1a1a1a">HexCer</text>
<text x="603.6" y="303.3" font-size="12.2" text-anchor="middle" textLength="66.4" lengthAdjust="spacingAndGlyphs" fill="#1a1a1a">(d18:1/16:0)</text>
<line x1="564.10" y1="338.50" x2="566.90" y2="338.50" stroke="#444" stroke-width="0.8"/>
<text x="563.30" y="342.80" font-size="12.2" text-anchor="end" fill="#1a1a1a">0.03</text>
<line x1="564.10" y1="377.50" x2="566.90" y2="377.50" stroke="#444" stroke-width="0.8"/>
<text x="563.30" y="381.80" font-size="12.2" text-anchor="end" fill="#1a1a1a">0.02</text>
<line x1="564.10" y1="416.10" x2="566.90" y2="416.10" stroke="#444" stroke-width="0.8"/>
<text x="563.30" y="420.40" font-size="12.2" text-anchor="end" fill="#1a1a1a">0.01</text>
<line x1="564.10" y1="455.40" x2="566.90" y2="455.40" stroke="#444" stroke-width="0.8"/>
<text x="563.30" y="459.70" font-size="12.2" text-anchor="end" fill="#1a1a1a">0.00</text>
<line x1="587.15" y1="314.80" x2="587.15" y2="394.80" stroke="#333" stroke-width="0.7"/>
<rect x="578.50" y="334.50" width="17.30" height="55.40" fill="#f3f8fc" stroke="#555" stroke-width="0.8"/>
<line x1="578.50" y1="375.40" x2="595.80" y2="375.40" stroke="#333" stroke-width="0.9"/>
<circle cx="587.15" cy="314.80" r="1.25" fill="#111"/>
<circle cx="587.15" cy="394.80" r="1.25" fill="#111"/>
<circle cx="587.15" cy="352.34" r="1.25" fill="#111"/>
<circle cx="587.15" cy="352.99" r="1.25" fill="#111"/>
<circle cx="587.15" cy="380.68" r="1.25" fill="#111"/>
<circle cx="587.15" cy="349.87" r="1.25" fill="#111"/>
<circle cx="587.15" cy="383.24" r="1.25" fill="#111"/>
<circle cx="587.15" cy="328.34" r="1.25" fill="#111"/>
<circle cx="587.15" cy="341.74" r="1.25" fill="#111"/>
<line x1="604.05" y1="381.20" x2="604.05" y2="432.30" stroke="#333" stroke-width="0.7"/>
<rect x="595.80" y="396.20" width="16.50" height="23.40" fill="#c6dbef" stroke="#555" stroke-width="0.8"/>
<line x1="595.80" y1="409.50" x2="612.30" y2="409.50" stroke="#333" stroke-width="0.9"/>
<circle cx="604.05" cy="381.20" r="1.25" fill="#111"/>
<circle cx="604.05" cy="432.30" r="1.25" fill="#111"/>
<circle cx="604.05" cy="411.42" r="1.25" fill="#111"/>
<circle cx="604.05" cy="416.91" r="1.25" fill="#111"/>
<circle cx="604.05" cy="406.76" r="1.25" fill="#111"/>
<circle cx="604.05" cy="401.47" r="1.25" fill="#111"/>
<circle cx="604.05" cy="399.03" r="1.25" fill="#111"/>
<circle cx="604.05" cy="408.59" r="1.25" fill="#111"/>
<circle cx="604.05" cy="400.66" r="1.25" fill="#111"/>
<circle cx="604.05" cy="415.08" r="1.25" fill="#111"/>
<circle cx="604.05" cy="415.82" r="1.25" fill="#111"/>
<circle cx="604.05" cy="400.50" r="1.25" fill="#111"/>
<circle cx="604.05" cy="402.72" r="1.25" fill="#111"/>
<circle cx="604.05" cy="415.09" r="1.25" fill="#111"/>
<circle cx="604.05" cy="411.22" r="1.25" fill="#111"/>
<circle cx="604.05" cy="415.07" r="1.25" fill="#111"/>
<circle cx="604.05" cy="398.84" r="1.25" fill="#111"/>
<circle cx="604.05" cy="387.83" r="1.25" fill="#111"/>
<circle cx="604.05" cy="396.12" r="1.25" fill="#111"/>
<circle cx="604.05" cy="421.77" r="1.25" fill="#111"/>
<line x1="620.50" y1="383.50" x2="620.50" y2="415.00" stroke="#333" stroke-width="0.7"/>
<rect x="612.30" y="390.40" width="16.40" height="17.40" fill="#4a90cc" stroke="#3a3a3a" stroke-width="0.8"/>
<line x1="612.30" y1="391.30" x2="628.70" y2="391.30" stroke="#333" stroke-width="0.9"/>
<circle cx="620.50" cy="383.50" r="1.25" fill="#111"/>
<circle cx="620.50" cy="415.00" r="1.25" fill="#111"/>
<circle cx="620.50" cy="395.12" r="1.25" fill="#111"/>
<circle cx="620.50" cy="396.43" r="1.25" fill="#111"/>
<circle cx="620.50" cy="397.65" r="1.25" fill="#111"/>
<circle cx="620.50" cy="397.70" r="1.25" fill="#111"/>
<circle cx="620.50" cy="397.53" r="1.25" fill="#111"/>
<circle cx="620.50" cy="406.42" r="1.25" fill="#111"/>
<circle cx="620.50" cy="393.11" r="1.25" fill="#111"/>
<circle cx="620.50" cy="390.48" r="1.25" fill="#111"/>
<circle cx="620.50" cy="406.81" r="1.25" fill="#111"/>
<circle cx="620.50" cy="411.22" r="1.25" fill="#111"/>
<circle cx="620.50" cy="414.59" r="1.25" fill="#111"/>
<circle cx="620.50" cy="397.18" r="1.25" fill="#111"/>
<circle cx="620.50" cy="413.43" r="1.25" fill="#111"/>
<line x1="586.30" y1="313.40" x2="606.50" y2="313.40" stroke="#555" stroke-width="0.8"/>
<text x="595.00" y="316.40" font-size="11" text-anchor="middle" fill="#333">***</text>
<line x1="586.30" y1="316.90" x2="621.80" y2="316.90" stroke="#555" stroke-width="0.8"/>
<text x="613.70" y="319.20" font-size="11" text-anchor="middle" fill="#333">**</text>
<rect x="566.90" y="308.20" width="73.60" height="153.00" fill="none" stroke="#555" stroke-width="1"/>
<text x="568.40" y="472.6" font-size="11.6" fill="#1a1a1a">F = 12.3</text>
<text x="568.40" y="488.6" font-size="11.6" fill="#1a1a1a">P = 7.4 x 10<tspan font-size="7" dy="-5">-5</tspan></text>
<text x="495.4" y="577.2" font-size="12.2" text-anchor="middle" textLength="71.3" lengthAdjust="spacingAndGlyphs" fill="#1a1a1a">PS(22:6/22:6)</text>
<line x1="459.70" y1="599.70" x2="462.50" y2="599.70" stroke="#444" stroke-width="0.8"/>
<text x="458.90" y="604.00" font-size="12.2" text-anchor="end" fill="#1a1a1a">0.0020</text>
<line x1="459.70" y1="632.20" x2="462.50" y2="632.20" stroke="#444" stroke-width="0.8"/>
<text x="458.90" y="636.50" font-size="12.2" text-anchor="end" fill="#1a1a1a">0.0015</text>
<line x1="459.70" y1="664.40" x2="462.50" y2="664.40" stroke="#444" stroke-width="0.8"/>
<text x="458.90" y="668.70" font-size="12.2" text-anchor="end" fill="#1a1a1a">0.0010</text>
<line x1="459.70" y1="696.60" x2="462.50" y2="696.60" stroke="#444" stroke-width="0.8"/>
<text x="458.90" y="700.90" font-size="12.2" text-anchor="end" fill="#1a1a1a">0.0005</text>
<line x1="459.70" y1="729.00" x2="462.50" y2="729.00" stroke="#444" stroke-width="0.8"/>
<text x="458.90" y="733.30" font-size="12.2" text-anchor="end" fill="#1a1a1a">0.0000</text>
<line x1="480.90" y1="694.40" x2="480.90" y2="715.90" stroke="#333" stroke-width="0.7"/>
<rect x="473.00" y="704.30" width="15.80" height="8.70" fill="#f3f8fc" stroke="#555" stroke-width="0.8"/>
<line x1="473.00" y1="709.30" x2="488.80" y2="709.30" stroke="#333" stroke-width="0.9"/>
<circle cx="480.90" cy="694.40" r="1.25" fill="#111"/>
<circle cx="480.90" cy="715.90" r="1.25" fill="#111"/>
<circle cx="480.90" cy="712.37" r="1.25" fill="#111"/>
<circle cx="480.90" cy="706.23" r="1.25" fill="#111"/>
<circle cx="480.90" cy="710.79" r="1.25" fill="#111"/>
<circle cx="480.90" cy="712.39" r="1.25" fill="#111"/>
<circle cx="480.90" cy="708.65" r="1.25" fill="#111"/>
<circle cx="480.90" cy="705.56" r="1.25" fill="#111"/>
<circle cx="480.90" cy="700.61" r="1.25" fill="#111"/>
<line x1="495.90" y1="624.90" x2="495.90" y2="703.80" stroke="#333" stroke-width="0.7"/>
<rect x="488.30" y="656.70" width="15.20" height="38.80" fill="#c6dbef" stroke="#555" stroke-width="0.8"/>
<line x1="488.30" y1="682.60" x2="503.50" y2="682.60" stroke="#333" stroke-width="0.9"/>
<circle cx="495.90" cy="624.90" r="1.25" fill="#111"/>
<circle cx="495.90" cy="703.80" r="1.25" fill="#111"/>
<circle cx="495.90" cy="669.93" r="1.25" fill="#111"/>
<circle cx="495.90" cy="665.53" r="1.25" fill="#111"/>
<circle cx="495.90" cy="659.34" r="1.25" fill="#111"/>
<circle cx="495.90" cy="679.54" r="1.25" fill="#111"/>
<circle cx="495.90" cy="667.84" r="1.25" fill="#111"/>
<circle cx="495.90" cy="688.14" r="1.25" fill="#111"/>
<circle cx="495.90" cy="658.45" r="1.25" fill="#111"/>
<circle cx="495.90" cy="691.76" r="1.25" fill="#111"/>
<circle cx="495.90" cy="683.62" r="1.25" fill="#111"/>
<circle cx="495.90" cy="692.55" r="1.25" fill="#111"/>
<circle cx="495.90" cy="691.49" r="1.25" fill="#111"/>
<circle cx="495.90" cy="691.61" r="1.25" fill="#111"/>
<circle cx="495.90" cy="679.09" r="1.25" fill="#111"/>
<circle cx="495.90" cy="657.21" r="1.25" fill="#111"/>
<circle cx="495.90" cy="683.70" r="1.25" fill="#111"/>
<circle cx="495.90" cy="638.46" r="1.25" fill="#111"/>
<circle cx="495.90" cy="648.56" r="1.25" fill="#111"/>
<circle cx="495.90" cy="677.20" r="1.25" fill="#111"/>
<circle cx="495.90" cy="591.00" r="1.25" fill="#111"/>
<line x1="511.15" y1="656.00" x2="511.15" y2="715.90" stroke="#333" stroke-width="0.7"/>
<rect x="503.50" y="687.40" width="15.30" height="21.90" fill="#4a90cc" stroke="#3a3a3a" stroke-width="0.8"/>
<line x1="503.50" y1="705.60" x2="518.80" y2="705.60" stroke="#333" stroke-width="0.9"/>
<circle cx="511.15" cy="656.00" r="1.25" fill="#111"/>
<circle cx="511.15" cy="715.90" r="1.25" fill="#111"/>
<circle cx="511.15" cy="698.90" r="1.25" fill="#111"/>
<circle cx="511.15" cy="696.46" r="1.25" fill="#111"/>
<circle cx="511.15" cy="707.97" r="1.25" fill="#111"/>
<circle cx="511.15" cy="700.81" r="1.25" fill="#111"/>
<circle cx="511.15" cy="694.88" r="1.25" fill="#111"/>
<circle cx="511.15" cy="692.93" r="1.25" fill="#111"/>
<circle cx="511.15" cy="706.27" r="1.25" fill="#111"/>
<circle cx="511.15" cy="697.85" r="1.25" fill="#111"/>
<circle cx="511.15" cy="704.53" r="1.25" fill="#111"/>
<circle cx="511.15" cy="677.08" r="1.25" fill="#111"/>
<circle cx="511.15" cy="667.82" r="1.25" fill="#111"/>
<circle cx="511.15" cy="688.02" r="1.25" fill="#111"/>
<circle cx="511.15" cy="704.93" r="1.25" fill="#111"/>
<line x1="476.30" y1="587.20" x2="495.30" y2="587.20" stroke="#555" stroke-width="0.8"/>
<text x="485.50" y="589.70" font-size="11" text-anchor="middle" fill="#333">***</text>
<line x1="496.40" y1="589.20" x2="514.40" y2="589.20" stroke="#555" stroke-width="0.8"/>
<text x="505.20" y="591.40" font-size="11" text-anchor="middle" fill="#333">**</text>
<rect x="462.50" y="580.40" width="67.90" height="155.90" fill="none" stroke="#555" stroke-width="1"/>
<text x="464.00" y="748.7" font-size="11.6" fill="#1a1a1a">F = 10.7</text>
<text x="464.00" y="764.8" font-size="11.6" fill="#1a1a1a">P = 0.0002</text>
<text x="601.2" y="577.4" font-size="12.2" text-anchor="middle" fill="#1a1a1a">PE(44:12)</text>
<line x1="564.40" y1="614.20" x2="567.20" y2="614.20" stroke="#444" stroke-width="0.8"/>
<text x="563.60" y="618.50" font-size="12.2" text-anchor="end" fill="#1a1a1a">0.075</text>
<line x1="564.40" y1="652.30" x2="567.20" y2="652.30" stroke="#444" stroke-width="0.8"/>
<text x="563.60" y="656.60" font-size="12.2" text-anchor="end" fill="#1a1a1a">0.050</text>
<line x1="564.40" y1="690.70" x2="567.20" y2="690.70" stroke="#444" stroke-width="0.8"/>
<text x="563.60" y="695.00" font-size="12.2" text-anchor="end" fill="#1a1a1a">0.025</text>
<line x1="564.40" y1="729.20" x2="567.20" y2="729.20" stroke="#444" stroke-width="0.8"/>
<text x="563.60" y="733.50" font-size="12.2" text-anchor="end" fill="#1a1a1a">0.000</text>
<line x1="586.05" y1="685.80" x2="586.05" y2="712.10" stroke="#333" stroke-width="0.7"/>
<rect x="578.60" y="690.20" width="14.90" height="13.80" fill="#f3f8fc" stroke="#555" stroke-width="0.8"/>
<line x1="578.60" y1="695.30" x2="593.50" y2="695.30" stroke="#333" stroke-width="0.9"/>
<circle cx="586.05" cy="685.80" r="1.25" fill="#111"/>
<circle cx="586.05" cy="712.10" r="1.25" fill="#111"/>
<circle cx="586.05" cy="692.56" r="1.25" fill="#111"/>
<circle cx="586.05" cy="701.13" r="1.25" fill="#111"/>
<circle cx="586.05" cy="702.92" r="1.25" fill="#111"/>
<circle cx="586.05" cy="707.00" r="1.25" fill="#111"/>
<circle cx="586.05" cy="707.46" r="1.25" fill="#111"/>
<circle cx="586.05" cy="686.00" r="1.25" fill="#111"/>
<circle cx="586.05" cy="702.33" r="1.25" fill="#111"/>
<circle cx="586.05" cy="658.00" r="1.25" fill="#111"/>
<line x1="600.95" y1="595.60" x2="600.95" y2="692.40" stroke="#333" stroke-width="0.7"/>
<rect x="593.50" y="621.20" width="14.90" height="44.90" fill="#c6dbef" stroke="#555" stroke-width="0.8"/>
<line x1="593.50" y1="655.20" x2="608.40" y2="655.20" stroke="#333" stroke-width="0.9"/>
<circle cx="600.95" cy="595.60" r="1.25" fill="#111"/>
<circle cx="600.95" cy="692.40" r="1.25" fill="#111"/>
<circle cx="600.95" cy="659.93" r="1.25" fill="#111"/>
<circle cx="600.95" cy="623.44" r="1.25" fill="#111"/>
<circle cx="600.95" cy="633.39" r="1.25" fill="#111"/>
<circle cx="600.95" cy="633.26" r="1.25" fill="#111"/>
<circle cx="600.95" cy="644.87" r="1.25" fill="#111"/>
<circle cx="600.95" cy="640.19" r="1.25" fill="#111"/>
<circle cx="600.95" cy="642.43" r="1.25" fill="#111"/>
<circle cx="600.95" cy="656.06" r="1.25" fill="#111"/>
<circle cx="600.95" cy="621.28" r="1.25" fill="#111"/>
<circle cx="600.95" cy="623.66" r="1.25" fill="#111"/>
<circle cx="600.95" cy="626.90" r="1.25" fill="#111"/>
<circle cx="600.95" cy="626.80" r="1.25" fill="#111"/>
<circle cx="600.95" cy="624.27" r="1.25" fill="#111"/>
<circle cx="600.95" cy="664.96" r="1.25" fill="#111"/>
<circle cx="600.95" cy="678.31" r="1.25" fill="#111"/>
<circle cx="600.95" cy="603.94" r="1.25" fill="#111"/>
<circle cx="600.95" cy="644.21" r="1.25" fill="#111"/>
<circle cx="600.95" cy="626.18" r="1.25" fill="#111"/>
<line x1="616.10" y1="591.60" x2="616.10" y2="704.50" stroke="#333" stroke-width="0.7"/>
<rect x="608.40" y="640.50" width="15.40" height="52.40" fill="#4a90cc" stroke="#3a3a3a" stroke-width="0.8"/>
<line x1="608.40" y1="671.20" x2="623.80" y2="671.20" stroke="#333" stroke-width="0.9"/>
<circle cx="616.10" cy="591.60" r="1.25" fill="#111"/>
<circle cx="616.10" cy="704.50" r="1.25" fill="#111"/>
<circle cx="616.10" cy="656.98" r="1.25" fill="#111"/>
<circle cx="616.10" cy="658.91" r="1.25" fill="#111"/>
<circle cx="616.10" cy="674.40" r="1.25" fill="#111"/>
<circle cx="616.10" cy="671.24" r="1.25" fill="#111"/>
<circle cx="616.10" cy="659.41" r="1.25" fill="#111"/>
<circle cx="616.10" cy="650.51" r="1.25" fill="#111"/>
<circle cx="616.10" cy="657.73" r="1.25" fill="#111"/>
<circle cx="616.10" cy="646.98" r="1.25" fill="#111"/>
<circle cx="616.10" cy="669.61" r="1.25" fill="#111"/>
<circle cx="616.10" cy="672.44" r="1.25" fill="#111"/>
<circle cx="616.10" cy="634.53" r="1.25" fill="#111"/>
<circle cx="616.10" cy="600.62" r="1.25" fill="#111"/>
<circle cx="616.10" cy="611.76" r="1.25" fill="#111"/>
<line x1="583.70" y1="587.70" x2="602.30" y2="587.70" stroke="#555" stroke-width="0.8"/>
<text x="592.20" y="589.70" font-size="11" text-anchor="middle" fill="#333">***</text>
<line x1="583.70" y1="589.90" x2="617.60" y2="589.90" stroke="#555" stroke-width="0.8"/>
<text x="611.40" y="591.90" font-size="11" text-anchor="middle" fill="#333">*</text>
<rect x="567.20" y="580.00" width="67.30" height="156.20" fill="none" stroke="#555" stroke-width="1"/>
<text x="568.70" y="747.9" font-size="11.6" fill="#1a1a1a">F = 9.7</text>
<text x="568.70" y="764.3" font-size="11.6" fill="#1a1a1a">P = 0.0004</text>
<text x="699.6" y="577.2" font-size="12.2" text-anchor="middle" fill="#1a1a1a">PE(38:6)</text>
<line x1="664.00" y1="588.80" x2="666.80" y2="588.80" stroke="#444" stroke-width="0.8"/>
<text x="663.20" y="593.10" font-size="12.2" text-anchor="end" fill="#1a1a1a">2.0</text>
<line x1="664.00" y1="624.10" x2="666.80" y2="624.10" stroke="#444" stroke-width="0.8"/>
<text x="663.20" y="628.40" font-size="12.2" text-anchor="end" fill="#1a1a1a">1.5</text>
<line x1="664.00" y1="658.90" x2="666.80" y2="658.90" stroke="#444" stroke-width="0.8"/>
<text x="663.20" y="663.20" font-size="12.2" text-anchor="end" fill="#1a1a1a">1.0</text>
<line x1="664.00" y1="694.20" x2="666.80" y2="694.20" stroke="#444" stroke-width="0.8"/>
<text x="663.20" y="698.50" font-size="12.2" text-anchor="end" fill="#1a1a1a">0.5</text>
<line x1="664.00" y1="729.20" x2="666.80" y2="729.20" stroke="#444" stroke-width="0.8"/>
<text x="663.20" y="733.50" font-size="12.2" text-anchor="end" fill="#1a1a1a">0.0</text>
<line x1="684.75" y1="662.40" x2="684.75" y2="683.20" stroke="#333" stroke-width="0.7"/>
<rect x="677.10" y="671.00" width="15.30" height="10.50" fill="#f3f8fc" stroke="#555" stroke-width="0.8"/>
<line x1="677.10" y1="676.00" x2="692.40" y2="676.00" stroke="#333" stroke-width="0.9"/>
<circle cx="684.75" cy="662.40" r="1.25" fill="#111"/>
<circle cx="684.75" cy="683.20" r="1.25" fill="#111"/>
<circle cx="684.75" cy="674.92" r="1.25" fill="#111"/>
<circle cx="684.75" cy="677.35" r="1.25" fill="#111"/>
<circle cx="684.75" cy="679.22" r="1.25" fill="#111"/>
<circle cx="684.75" cy="670.31" r="1.25" fill="#111"/>
<circle cx="684.75" cy="679.06" r="1.25" fill="#111"/>
<circle cx="684.75" cy="675.36" r="1.25" fill="#111"/>
<circle cx="684.75" cy="671.38" r="1.25" fill="#111"/>
<circle cx="684.75" cy="700.70" r="1.25" fill="#111"/>
<line x1="699.85" y1="593.80" x2="699.85" y2="684.10" stroke="#333" stroke-width="0.7"/>
<rect x="692.40" y="634.80" width="14.90" height="28.70" fill="#c6dbef" stroke="#555" stroke-width="0.8"/>
<line x1="692.40" y1="642.00" x2="707.30" y2="642.00" stroke="#333" stroke-width="0.9"/>
<circle cx="699.85" cy="593.80" r="1.25" fill="#111"/>
<circle cx="699.85" cy="684.10" r="1.25" fill="#111"/>
<circle cx="699.85" cy="645.49" r="1.25" fill="#111"/>
<circle cx="699.85" cy="649.04" r="1.25" fill="#111"/>
<circle cx="699.85" cy="654.97" r="1.25" fill="#111"/>
<circle cx="699.85" cy="646.87" r="1.25" fill="#111"/>
<circle cx="699.85" cy="654.72" r="1.25" fill="#111"/>
<circle cx="699.85" cy="648.03" r="1.25" fill="#111"/>
<circle cx="699.85" cy="641.83" r="1.25" fill="#111"/>
<circle cx="699.85" cy="650.18" r="1.25" fill="#111"/>
<circle cx="699.85" cy="654.75" r="1.25" fill="#111"/>
<circle cx="699.85" cy="636.85" r="1.25" fill="#111"/>
<circle cx="699.85" cy="646.99" r="1.25" fill="#111"/>
<circle cx="699.85" cy="647.02" r="1.25" fill="#111"/>
<circle cx="699.85" cy="660.05" r="1.25" fill="#111"/>
<circle cx="699.85" cy="661.68" r="1.25" fill="#111"/>
<circle cx="699.85" cy="627.59" r="1.25" fill="#111"/>
<circle cx="699.85" cy="674.88" r="1.25" fill="#111"/>
<circle cx="699.85" cy="665.22" r="1.25" fill="#111"/>
<circle cx="699.85" cy="617.47" r="1.25" fill="#111"/>
<line x1="714.75" y1="632.60" x2="714.75" y2="685.40" stroke="#333" stroke-width="0.7"/>
<rect x="707.30" y="645.80" width="14.90" height="26.50" fill="#4a90cc" stroke="#3a3a3a" stroke-width="0.8"/>
<line x1="707.30" y1="661.70" x2="722.20" y2="661.70" stroke="#333" stroke-width="0.9"/>
<circle cx="714.75" cy="632.60" r="1.25" fill="#111"/>
<circle cx="714.75" cy="685.40" r="1.25" fill="#111"/>
<circle cx="714.75" cy="658.10" r="1.25" fill="#111"/>
<circle cx="714.75" cy="649.06" r="1.25" fill="#111"/>
<circle cx="714.75" cy="667.35" r="1.25" fill="#111"/>
<circle cx="714.75" cy="663.35" r="1.25" fill="#111"/>
<circle cx="714.75" cy="669.31" r="1.25" fill="#111"/>
<circle cx="714.75" cy="666.80" r="1.25" fill="#111"/>
<circle cx="714.75" cy="663.49" r="1.25" fill="#111"/>
<circle cx="714.75" cy="665.24" r="1.25" fill="#111"/>
<circle cx="714.75" cy="660.74" r="1.25" fill="#111"/>
<circle cx="714.75" cy="638.05" r="1.25" fill="#111"/>
<circle cx="714.75" cy="663.63" r="1.25" fill="#111"/>
<circle cx="714.75" cy="632.86" r="1.25" fill="#111"/>
<circle cx="714.75" cy="640.18" r="1.25" fill="#111"/>
<line x1="679.90" y1="587.70" x2="699.20" y2="587.70" stroke="#555" stroke-width="0.8"/>
<text x="687.90" y="589.70" font-size="11" text-anchor="middle" fill="#333">***</text>
<line x1="679.90" y1="590.50" x2="714.50" y2="590.50" stroke="#555" stroke-width="0.8"/>
<text x="708.00" y="591.90" font-size="11" text-anchor="middle" fill="#333">*</text>
<rect x="666.80" y="579.60" width="66.80" height="156.60" fill="none" stroke="#555" stroke-width="1"/>
<text x="668.30" y="748.3" font-size="11.6" fill="#1a1a1a">F = 9.7</text>
<text x="668.30" y="764.5" font-size="11.6" fill="#1a1a1a">P = 0.0004</text>
<text x="495.8" y="803.0" font-size="12.2" text-anchor="middle" fill="#1a1a1a">PE(38:4)</text>
<line x1="459.20" y1="853.00" x2="462.00" y2="853.00" stroke="#444" stroke-width="0.8"/>
<text x="458.40" y="857.30" font-size="12.2" text-anchor="end" fill="#1a1a1a">4</text>
<line x1="459.20" y1="904.30" x2="462.00" y2="904.30" stroke="#444" stroke-width="0.8"/>
<text x="458.40" y="908.60" font-size="12.2" text-anchor="end" fill="#1a1a1a">2</text>
<line x1="459.20" y1="955.30" x2="462.00" y2="955.30" stroke="#444" stroke-width="0.8"/>
<text x="458.40" y="959.60" font-size="12.2" text-anchor="end" fill="#1a1a1a">0</text>
<line x1="480.90" y1="864.40" x2="480.90" y2="925.80" stroke="#333" stroke-width="0.7"/>
<rect x="473.00" y="886.30" width="15.80" height="24.10" fill="#f3f8fc" stroke="#555" stroke-width="0.8"/>
<line x1="473.00" y1="896.20" x2="488.80" y2="896.20" stroke="#333" stroke-width="0.9"/>
<circle cx="480.90" cy="864.40" r="1.25" fill="#111"/>
<circle cx="480.90" cy="925.80" r="1.25" fill="#111"/>
<circle cx="480.90" cy="904.96" r="1.25" fill="#111"/>
<circle cx="480.90" cy="887.37" r="1.25" fill="#111"/>
<circle cx="480.90" cy="888.51" r="1.25" fill="#111"/>
<circle cx="480.90" cy="870.50" r="1.25" fill="#111"/>
<circle cx="480.90" cy="918.46" r="1.25" fill="#111"/>
<circle cx="480.90" cy="875.40" r="1.25" fill="#111"/>
<circle cx="480.90" cy="865.84" r="1.25" fill="#111"/>
<line x1="496.15" y1="818.40" x2="496.15" y2="899.50" stroke="#333" stroke-width="0.7"/>
<rect x="488.80" y="837.40" width="14.70" height="43.90" fill="#c6dbef" stroke="#555" stroke-width="0.8"/>
<line x1="488.80" y1="849.70" x2="503.50" y2="849.70" stroke="#333" stroke-width="0.9"/>
<circle cx="496.15" cy="818.40" r="1.25" fill="#111"/>
<circle cx="496.15" cy="899.50" r="1.25" fill="#111"/>
<circle cx="496.15" cy="874.34" r="1.25" fill="#111"/>
<circle cx="496.15" cy="842.72" r="1.25" fill="#111"/>
<circle cx="496.15" cy="874.45" r="1.25" fill="#111"/>
<circle cx="496.15" cy="866.97" r="1.25" fill="#111"/>
<circle cx="496.15" cy="874.11" r="1.25" fill="#111"/>
<circle cx="496.15" cy="879.21" r="1.25" fill="#111"/>
<circle cx="496.15" cy="862.82" r="1.25" fill="#111"/>
<circle cx="496.15" cy="872.47" r="1.25" fill="#111"/>
<circle cx="496.15" cy="838.99" r="1.25" fill="#111"/>
<circle cx="496.15" cy="871.09" r="1.25" fill="#111"/>
<circle cx="496.15" cy="859.85" r="1.25" fill="#111"/>
<circle cx="496.15" cy="868.80" r="1.25" fill="#111"/>
<circle cx="496.15" cy="842.09" r="1.25" fill="#111"/>
<circle cx="496.15" cy="870.28" r="1.25" fill="#111"/>
<circle cx="496.15" cy="894.19" r="1.25" fill="#111"/>
<circle cx="496.15" cy="823.36" r="1.25" fill="#111"/>
<circle cx="496.15" cy="844.70" r="1.25" fill="#111"/>
<circle cx="496.15" cy="864.14" r="1.25" fill="#111"/>
<line x1="511.15" y1="831.10" x2="511.15" y2="905.40" stroke="#333" stroke-width="0.7"/>
<rect x="503.50" y="858.20" width="15.30" height="29.60" fill="#4a90cc" stroke="#3a3a3a" stroke-width="0.8"/>
<line x1="503.50" y1="873.60" x2="518.80" y2="873.60" stroke="#333" stroke-width="0.9"/>
<circle cx="511.15" cy="831.10" r="1.25" fill="#111"/>
<circle cx="511.15" cy="905.40" r="1.25" fill="#111"/>
<circle cx="511.15" cy="882.71" r="1.25" fill="#111"/>
<circle cx="511.15" cy="865.37" r="1.25" fill="#111"/>
<circle cx="511.15" cy="863.52" r="1.25" fill="#111"/>
<circle cx="511.15" cy="865.60" r="1.25" fill="#111"/>
<circle cx="511.15" cy="876.43" r="1.25" fill="#111"/>
<circle cx="511.15" cy="880.50" r="1.25" fill="#111"/>
<circle cx="511.15" cy="869.85" r="1.25" fill="#111"/>
<circle cx="511.15" cy="869.08" r="1.25" fill="#111"/>
<circle cx="511.15" cy="869.94" r="1.25" fill="#111"/>
<circle cx="511.15" cy="857.13" r="1.25" fill="#111"/>
<circle cx="511.15" cy="862.17" r="1.25" fill="#111"/>
<circle cx="511.15" cy="837.29" r="1.25" fill="#111"/>
<circle cx="511.15" cy="868.27" r="1.25" fill="#111"/>
<line x1="477.40" y1="812.20" x2="496.40" y2="812.20" stroke="#555" stroke-width="0.8"/>
<text x="485.50" y="814.20" font-size="11" text-anchor="middle" fill="#333">***</text>
<line x1="477.40" y1="815.10" x2="512.90" y2="815.10" stroke="#555" stroke-width="0.8"/>
<text x="504.10" y="817.50" font-size="11" text-anchor="middle" fill="#333">**</text>
<rect x="462.00" y="805.90" width="67.80" height="156.50" fill="none" stroke="#555" stroke-width="1"/>
<text x="463.50" y="976.2" font-size="11.6" fill="#1a1a1a">F = 9.5</text>
<text x="463.50" y="992.2" font-size="11.6" fill="#1a1a1a">P = 0.0004</text>
<text x="600.7" y="803.1" font-size="12.2" text-anchor="middle" fill="#1a1a1a">PE(40:4)</text>
<line x1="564.70" y1="807.40" x2="567.50" y2="807.40" stroke="#444" stroke-width="0.8"/>
<text x="563.90" y="811.70" font-size="12.2" text-anchor="end" fill="#1a1a1a">3</text>
<line x1="564.70" y1="857.10" x2="567.50" y2="857.10" stroke="#444" stroke-width="0.8"/>
<text x="563.90" y="861.40" font-size="12.2" text-anchor="end" fill="#1a1a1a">2</text>
<line x1="564.70" y1="906.10" x2="567.50" y2="906.10" stroke="#444" stroke-width="0.8"/>
<text x="563.90" y="910.40" font-size="12.2" text-anchor="end" fill="#1a1a1a">1</text>
<line x1="564.70" y1="955.20" x2="567.50" y2="955.20" stroke="#444" stroke-width="0.8"/>
<text x="563.90" y="959.50" font-size="12.2" text-anchor="end" fill="#1a1a1a">0</text>
<line x1="585.55" y1="882.50" x2="585.55" y2="899.80" stroke="#333" stroke-width="0.7"/>
<rect x="577.60" y="885.30" width="15.90" height="14.50" fill="#f3f8fc" stroke="#555" stroke-width="0.8"/>
<line x1="577.60" y1="894.90" x2="593.50" y2="894.90" stroke="#333" stroke-width="0.9"/>
<circle cx="585.55" cy="882.50" r="1.25" fill="#111"/>
<circle cx="585.55" cy="899.80" r="1.25" fill="#111"/>
<circle cx="585.55" cy="899.41" r="1.25" fill="#111"/>
<circle cx="585.55" cy="891.29" r="1.25" fill="#111"/>
<circle cx="585.55" cy="896.14" r="1.25" fill="#111"/>
<circle cx="585.55" cy="885.28" r="1.25" fill="#111"/>
<circle cx="585.55" cy="894.45" r="1.25" fill="#111"/>
<circle cx="585.55" cy="895.58" r="1.25" fill="#111"/>
<circle cx="585.55" cy="894.16" r="1.25" fill="#111"/>
<circle cx="585.55" cy="921.40" r="1.25" fill="#111"/>
<circle cx="585.55" cy="925.70" r="1.25" fill="#111"/>
<line x1="601.00" y1="816.90" x2="601.00" y2="896.90" stroke="#333" stroke-width="0.7"/>
<rect x="593.50" y="842.90" width="15.00" height="38.70" fill="#c6dbef" stroke="#555" stroke-width="0.8"/>
<line x1="593.50" y1="864.60" x2="608.50" y2="864.60" stroke="#333" stroke-width="0.9"/>
<circle cx="601.00" cy="816.90" r="1.25" fill="#111"/>
<circle cx="601.00" cy="896.90" r="1.25" fill="#111"/>
<circle cx="601.00" cy="862.91" r="1.25" fill="#111"/>
<circle cx="601.00" cy="861.62" r="1.25" fill="#111"/>
<circle cx="601.00" cy="867.78" r="1.25" fill="#111"/>
<circle cx="601.00" cy="877.63" r="1.25" fill="#111"/>
<circle cx="601.00" cy="848.68" r="1.25" fill="#111"/>
<circle cx="601.00" cy="846.61" r="1.25" fill="#111"/>
<circle cx="601.00" cy="871.85" r="1.25" fill="#111"/>
<circle cx="601.00" cy="878.37" r="1.25" fill="#111"/>
<circle cx="601.00" cy="862.92" r="1.25" fill="#111"/>
<circle cx="601.00" cy="860.05" r="1.25" fill="#111"/>
<circle cx="601.00" cy="870.72" r="1.25" fill="#111"/>
<circle cx="601.00" cy="850.10" r="1.25" fill="#111"/>
<circle cx="601.00" cy="853.25" r="1.25" fill="#111"/>
<circle cx="601.00" cy="850.61" r="1.25" fill="#111"/>
<circle cx="601.00" cy="863.75" r="1.25" fill="#111"/>
<circle cx="601.00" cy="842.09" r="1.25" fill="#111"/>
<circle cx="601.00" cy="835.48" r="1.25" fill="#111"/>
<circle cx="601.00" cy="872.19" r="1.25" fill="#111"/>
<line x1="616.15" y1="832.80" x2="616.15" y2="909.90" stroke="#333" stroke-width="0.7"/>
<rect x="608.50" y="855.00" width="15.30" height="30.90" fill="#4a90cc" stroke="#3a3a3a" stroke-width="0.8"/>
<line x1="608.50" y1="875.80" x2="623.80" y2="875.80" stroke="#333" stroke-width="0.9"/>
<circle cx="616.15" cy="832.80" r="1.25" fill="#111"/>
<circle cx="616.15" cy="909.90" r="1.25" fill="#111"/>
<circle cx="616.15" cy="884.46" r="1.25" fill="#111"/>
<circle cx="616.15" cy="864.14" r="1.25" fill="#111"/>
<circle cx="616.15" cy="876.79" r="1.25" fill="#111"/>
<circle cx="616.15" cy="867.77" r="1.25" fill="#111"/>
<circle cx="616.15" cy="881.38" r="1.25" fill="#111"/>
<circle cx="616.15" cy="873.07" r="1.25" fill="#111"/>
<circle cx="616.15" cy="863.26" r="1.25" fill="#111"/>
<circle cx="616.15" cy="861.72" r="1.25" fill="#111"/>
<circle cx="616.15" cy="855.71" r="1.25" fill="#111"/>
<circle cx="616.15" cy="869.77" r="1.25" fill="#111"/>
<circle cx="616.15" cy="862.31" r="1.25" fill="#111"/>
<circle cx="616.15" cy="846.08" r="1.25" fill="#111"/>
<circle cx="616.15" cy="860.59" r="1.25" fill="#111"/>
<line x1="582.50" y1="811.70" x2="600.70" y2="811.70" stroke="#555" stroke-width="0.8"/>
<text x="590.30" y="814.40" font-size="11" text-anchor="middle" fill="#333">***</text>
<line x1="582.50" y1="814.60" x2="616.60" y2="814.60" stroke="#555" stroke-width="0.8"/>
<text x="609.20" y="816.70" font-size="11" text-anchor="middle" fill="#333">**</text>
<rect x="567.50" y="805.40" width="67.00" height="157.00" fill="none" stroke="#555" stroke-width="1"/>
<text x="569.00" y="976.2" font-size="11.6" fill="#1a1a1a">F = 9.0</text>
<text x="569.00" y="992.1" font-size="11.6" fill="#1a1a1a">P = 0.0007</text>
<text x="429.8" y="14.1" font-size="13.6" font-weight="bold" fill="#111">C</text>
<text x="497.8" y="23.0" font-size="14.6" textLength="208" lengthAdjust="spacingAndGlyphs" fill="#1a1a1a">Top 5 significant (High in G/G)</text>
<text x="430.4" y="528.5" font-size="13.9" font-weight="bold" fill="#111">D</text>
<text x="482.5" y="542.0" font-size="14.6" textLength="204" lengthAdjust="spacingAndGlyphs" fill="#1a1a1a">Top 5 significant (Low in G/G)</text>
<text transform="translate(423.1,270.5) rotate(-90)" font-size="12.4" text-anchor="middle" fill="#1a1a1a" textLength="173.2" lengthAdjust="spacingAndGlyphs">%Mol of Total Quantified Lipids</text>
<text transform="translate(419,745.9) rotate(-90)" font-size="12.4" text-anchor="middle" fill="#1a1a1a" textLength="173.9" lengthAdjust="spacingAndGlyphs">%Mol of Total Quantified Lipids</text>
<text x="669.6" y="318.0" font-size="12.2" fill="#1a1a1a">rs1990622</text>
<rect x="670.60" y="326.80" width="8.60" height="8.40" fill="#f3f8fc" stroke="#444" stroke-width="0.9"/>
<text x="681.20" y="334.10" font-size="12.2" fill="#1a1a1a">G/G</text>
<rect x="670.60" y="342.50" width="8.60" height="8.70" fill="#c6dbef" stroke="#444" stroke-width="0.9"/>
<text x="681.20" y="350.10" font-size="12.2" fill="#1a1a1a">A/G</text>
<rect x="670.60" y="358.70" width="8.60" height="8.70" fill="#4a90cc" stroke="#444" stroke-width="0.9"/>
<text x="681.20" y="366.30" font-size="12.2" fill="#1a1a1a">A/A</text>
<text x="665.2" y="814.3" font-size="11.4" fill="#1a1a1a">rs1990622</text>
<rect x="666.00" y="822.80" width="9.20" height="8.20" fill="#f3f8fc" stroke="#444" stroke-width="0.9"/>
<text x="676.60" y="829.90" font-size="11.4" fill="#1a1a1a">G/G</text>
<rect x="666.00" y="837.60" width="9.20" height="8.90" fill="#c6dbef" stroke="#444" stroke-width="0.9"/>
<text x="676.60" y="845.40" font-size="11.4" fill="#1a1a1a">A/G</text>
<rect x="666.00" y="853.50" width="9.20" height="8.00" fill="#4a90cc" stroke="#444" stroke-width="0.9"/>
<text x="676.60" y="860.40" font-size="11.4" fill="#1a1a1a">A/A</text>
</g></svg>
</body></html>
